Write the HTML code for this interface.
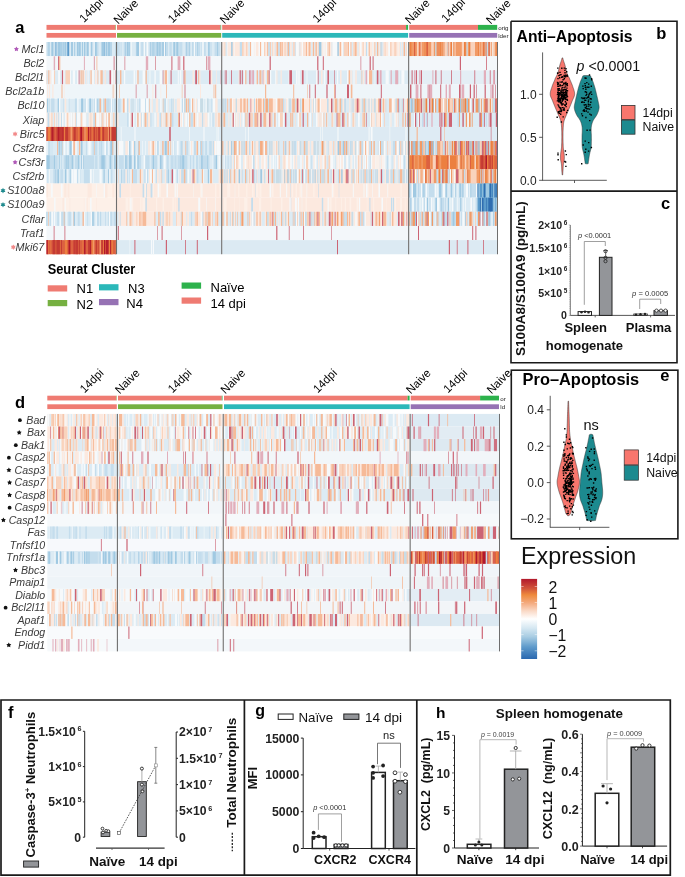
<!DOCTYPE html><html><head><meta charset="utf-8"><title>Figure</title><style>html,body{margin:0;padding:0;background:#fff;width:685px;height:877px;overflow:hidden}svg{display:block;font-family:"Liberation Sans",sans-serif;will-change:transform}</style></head><body><svg width="685" height="877" viewBox="0 0 685 877"><text x="15.2" y="32.6" font-size="16.5" font-weight="bold" fill="#000">a</text><text x="84.0" y="22.9" font-size="11.5" fill="#000" transform="rotate(-45 84.0 22.9)">14dpi</text><text x="118.2" y="24.65" font-size="11.5" fill="#000" transform="rotate(-45 118.2 24.65)">Naive</text><text x="172.5" y="23.5" font-size="11.5" fill="#000" transform="rotate(-45 172.5 23.5)">14dpi</text><text x="224.6" y="24.5" font-size="11.5" fill="#000" transform="rotate(-45 224.6 24.5)">Naive</text><text x="317.2" y="23.2" font-size="11.5" fill="#000" transform="rotate(-45 317.2 23.2)">14dpi</text><text x="409.8" y="24.6" font-size="11.5" fill="#000" transform="rotate(-45 409.8 24.6)">Naive</text><text x="446.0" y="22.9" font-size="11.5" fill="#000" transform="rotate(-45 446.0 22.9)">14dpi</text><text x="490.8" y="24.65" font-size="11.5" fill="#000" transform="rotate(-45 490.8 24.65)">Naive</text><rect x="46.50" y="24.9" width="68.80" height="4.95" fill="#EF7B72"/><rect x="115.30" y="24.9" width="0.70" height="4.95" fill="#9DA85A"/><rect x="117.00" y="24.9" width="103.60" height="4.95" fill="#EF7B72"/><rect x="220.60" y="24.9" width="0.60" height="4.95" fill="#2DB24C"/><rect x="222.20" y="24.9" width="183.90" height="4.95" fill="#EF7B72"/><rect x="406.10" y="24.9" width="2.00" height="4.95" fill="#2DB24C"/><rect x="409.20" y="24.9" width="68.80" height="4.95" fill="#EF7B72"/><rect x="478.00" y="24.9" width="19.20" height="4.95" fill="#2DB24C"/><rect x="46.50" y="32.95" width="69.50" height="4.75" fill="#EF7B72"/><rect x="117.00" y="32.95" width="104.20" height="4.75" fill="#76B041"/><rect x="222.20" y="32.95" width="185.90" height="4.75" fill="#2BB8B9"/><rect x="409.20" y="32.95" width="88.00" height="4.75" fill="#9672B4"/><text x="498.2" y="29.8" font-size="6.2" fill="#222">orig</text><text x="498.2" y="37.6" font-size="6.2" fill="#222">lder</text><rect x="46.5" y="42.00" width="69.5" height="14.15" fill="#C4DDED"/><g transform="translate(46.5 42.00) scale(0.2 14.15)"><path fill="#DCEBF4" d="M0 0h3v1h-3zM16 0h7v1h-7zM40 0h5v1h-5zM116 0h7v1h-7zM132 0h8v1h-8zM144 0h8v1h-8zM170 0h7v1h-7zM182 0h6v1h-6zM199 0h2v1h-2zM260 0h16v1h-16zM325 0h19v1h-19z"/><path fill="#A0C9E2" d="M10 0h5v1h-5zM25 0h8v1h-8zM57 0h14v1h-14zM74 0h5v1h-5zM82 0h4v1h-4zM90 0h8v1h-8zM123 0h9v1h-9zM139 0h4v1h-4zM152 0h6v1h-6zM160 0h11v1h-11zM177 0h5v1h-5zM187 0h6v1h-6zM201 0h9v1h-9zM220 0h7v1h-7zM241 0h10v1h-10zM275 0h14v1h-14zM297 0h6v1h-6zM307 0h12v1h-12zM322 0h3v1h-3z"/><path fill="#5B9BCB" d="M45 0h4v1h-4zM104 0h9v1h-9zM289 0h2v1h-2z"/><path fill="#F6F9FB" d="M214 0h6v1h-6zM235 0h6v1h-6z"/></g><rect x="117.0" y="42.00" width="104.2" height="14.15" fill="#C4DDED"/><g transform="translate(117.0 42.00) scale(0.2 14.15)"><path fill="#DCEBF4" d="M9 0h3v1h-3zM17 0h3v1h-3zM23 0h11v1h-11zM64 0h7v1h-7zM74 0h20v1h-20zM114 0h7v1h-7zM155 0h7v1h-7zM178 0h4v1h-4zM255 0h7v1h-7zM274 0h8v1h-8zM291 0h3v1h-3zM307 0h4v1h-4zM327 0h17v1h-17zM367 0h9v1h-9zM398 0h4v1h-4zM416 0h6v1h-6zM444 0h12v1h-12zM463 0h4v1h-4zM473 0h15v1h-15zM514 0h7v1h-7z"/><path fill="#A0C9E2" d="M41 0h3v1h-3zM50 0h6v1h-6zM58 0h6v1h-6zM97 0h13v1h-13zM167 0h3v1h-3zM175 0h3v1h-3zM182 0h4v1h-4zM198 0h9v1h-9zM211 0h7v1h-7zM226 0h8v1h-8zM240 0h4v1h-4zM282 0h9v1h-9zM297 0h10v1h-10zM344 0h4v1h-4zM362 0h3v1h-3zM379 0h4v1h-4zM402 0h3v1h-3zM456 0h7v1h-7zM501 0h4v1h-4z"/><path fill="#F6F9FB" d="M71 0h4v1h-4zM110 0h4v1h-4zM133 0h8v1h-8zM147 0h8v1h-8zM235 0h5v1h-5zM383 0h7v1h-7zM426 0h8v1h-8z"/></g><rect x="222.2" y="42.00" width="185.9" height="14.15" fill="#FCE9DF"/><g transform="translate(222.2 42.00) scale(0.2 14.15)"><path fill="#F6BA98" d="M13 0h3v1h-3zM139 0h6v1h-6zM189 0h5v1h-5zM225 0h5v1h-5zM238 0h4v1h-4zM273 0h7v1h-7zM288 0h9v1h-9zM300 0h4v1h-4zM328 0h8v1h-8zM418 0h6v1h-6zM432 0h8v1h-8zM452 0h9v1h-9zM466 0h7v1h-7zM533 0h5v1h-5zM588 0h6v1h-6zM628 0h6v1h-6zM641 0h6v1h-6zM664 0h8v1h-8zM731 0h7v1h-7zM763 0h3v1h-3zM774 0h8v1h-8zM906 0h9v1h-9z"/><path fill="#DCEBF4" d="M16 0h9v1h-9zM130 0h9v1h-9zM245 0h6v1h-6zM262 0h7v1h-7zM348 0h7v1h-7zM444 0h8v1h-8zM460 0h5v1h-5zM478 0h3v1h-3zM546 0h6v1h-6zM603 0h5v1h-5zM647 0h9v1h-9zM676 0h7v1h-7zM750 0h3v1h-3zM767 0h7v1h-7zM781 0h3v1h-3zM796 0h7v1h-7zM889 0h6v1h-6zM899 0h7v1h-7zM915 0h4v1h-4z"/><path fill="#F6F9FB" d="M25 0h3v1h-3zM60 0h3v1h-3zM145 0h13v1h-13zM161 0h7v1h-7zM181 0h8v1h-8zM197 0h12v1h-12zM216 0h4v1h-4zM318 0h4v1h-4zM367 0h16v1h-16zM398 0h6v1h-6zM497 0h3v1h-3zM506 0h6v1h-6zM517 0h9v1h-9zM552 0h25v1h-25zM599 0h5v1h-5zM634 0h6v1h-6zM689 0h8v1h-8zM707 0h5v1h-5zM724 0h7v1h-7zM752 0h6v1h-6zM830 0h9v1h-9zM878 0h3v1h-3zM922 0h8v1h-8z"/><path fill="#A0C9E2" d="M45 0h7v1h-7zM325 0h2v1h-2zM483 0h13v1h-13zM576 0h7v1h-7zM792 0h4v1h-4z"/><path fill="#C4DDED" d="M88 0h12v1h-12zM230 0h8v1h-8zM280 0h8v1h-8zM335 0h4v1h-4zM362 0h5v1h-5zM387 0h3v1h-3zM719 0h6v1h-6zM803 0h2v1h-2z"/><path fill="#F9D3BD" d="M99 0h8v1h-8zM119 0h7v1h-7zM209 0h7v1h-7zM250 0h3v1h-3zM268 0h5v1h-5zM311 0h7v1h-7zM322 0h3v1h-3zM355 0h7v1h-7zM407 0h4v1h-4zM440 0h4v1h-4zM481 0h3v1h-3zM526 0h7v1h-7zM608 0h20v1h-20zM656 0h8v1h-8zM702 0h6v1h-6zM758 0h6v1h-6zM812 0h5v1h-5zM839 0h8v1h-8zM860 0h11v1h-11zM919 0h3v1h-3z"/></g><rect x="409.2" y="42.00" width="87.8" height="14.15" fill="#F19A66"/><g transform="translate(409.2 42.00) scale(0.2 14.15)"><path fill="#EC8040" d="M3 0h8v1h-8zM77 0h3v1h-3zM83 0h3v1h-3zM152 0h6v1h-6zM164 0h4v1h-4zM172 0h5v1h-5zM208 0h8v1h-8zM220 0h2v1h-2zM274 0h8v1h-8zM299 0h7v1h-7zM345 0h4v1h-4zM367 0h6v1h-6zM412 0h3v1h-3zM436 0h3v1h-3z"/><path fill="#DC6140" d="M24 0h6v1h-6zM51 0h6v1h-6zM86 0h8v1h-8zM143 0h2v1h-2zM194 0h3v1h-3zM372 0h3v1h-3zM382 0h5v1h-5zM396 0h8v1h-8z"/><path fill="#F9D3BD" d="M39 0h8v1h-8zM57 0h5v1h-5zM110 0h13v1h-13zM168 0h3v1h-3zM176 0h14v1h-14zM197 0h8v1h-8zM227 0h5v1h-5zM263 0h11v1h-11zM306 0h23v1h-23zM349 0h2v1h-2zM362 0h4v1h-4zM403 0h8v1h-8zM421 0h7v1h-7z"/><path fill="#C8DCE6" d="M130 0h6v1h-6zM191 0h4v1h-4zM286 0h7v1h-7zM379 0h2v1h-2zM387 0h8v1h-8z"/><path fill="#F6F9FB" d="M215 0h5v1h-5zM415 0h6v1h-6z"/></g><rect x="46.5" y="56.15" width="69.5" height="14.15" fill="#F3F7FA"/><g transform="translate(46.5 56.15) scale(0.2 14.15)"><path fill="#CC6474" d="M336 0h4v1h-4zM58 0h5v1h-5zM237 0h3v1h-3z"/><path fill="#F6BA98" d="M63 0h6v1h-6zM250 0h4v1h-4z"/><path fill="#E2AEBB" d="M187 0h5v1h-5zM36 0h7v1h-7z"/></g><rect x="117.0" y="56.15" width="104.2" height="14.15" fill="#F3F7FA"/><g transform="translate(117.0 56.15) scale(0.2 14.15)"><path fill="#CC6474" d="M272 0h5v1h-5zM38 0h3v1h-3zM331 0h6v1h-6zM446 0h3v1h-3zM191 0h3v1h-3z"/><path fill="#E2AEBB" d="M144 0h12v1h-12zM303 0h14v1h-14zM453 0h14v1h-14z"/></g><rect x="222.2" y="56.15" width="185.9" height="14.15" fill="#F3F7FA"/><g transform="translate(222.2 56.15) scale(0.2 14.15)"><path fill="#CC6474" d="M503 0h5v1h-5zM737 0h6v1h-6zM752 0h5v1h-5zM237 0h6v1h-6zM692 0h3v1h-3zM475 0h6v1h-6z"/></g><rect x="409.2" y="56.15" width="87.8" height="14.15" fill="#F3F7FA"/><g transform="translate(409.2 56.15) scale(0.2 14.15)"><path fill="#CC6474" d="M384 0h4v1h-4zM253 0h6v1h-6z"/></g><rect x="46.5" y="70.30" width="69.5" height="14.15" fill="#DCEBF4"/><g transform="translate(46.5 70.30) scale(0.2 14.15)"><path fill="#F9D3BD" d="M0 0h2v1h-2zM14 0h4v1h-4zM37 0h6v1h-6zM95 0h24v1h-24zM176 0h5v1h-5zM218 0h7v1h-7zM266 0h8v1h-8zM295 0h3v1h-3zM335 0h4v1h-4z"/><path fill="#F6BA98" d="M7 0h4v1h-4zM169 0h7v1h-7zM181 0h5v1h-5zM225 0h3v1h-3zM254 0h5v1h-5zM273 0h8v1h-8z"/><path fill="#FCE9DF" d="M18 0h7v1h-7zM187 0h5v1h-5zM199 0h3v1h-3zM242 0h9v1h-9zM290 0h6v1h-6zM345 0h2v1h-2z"/><path fill="#F6F9FB" d="M25 0h12v1h-12zM58 0h10v1h-10zM83 0h7v1h-7zM118 0h5v1h-5zM131 0h12v1h-12zM153 0h8v1h-8zM165 0h4v1h-4zM206 0h4v1h-4zM228 0h9v1h-9zM251 0h3v1h-3zM262 0h4v1h-4zM323 0h12v1h-12zM339 0h4v1h-4z"/><path fill="#CC6474" d="M77 0h6v1h-6zM161 0h4v1h-4zM315 0h8v1h-8zM343 0h2v1h-2z"/></g><rect x="117.0" y="70.30" width="104.2" height="14.15" fill="#DCEBF4"/><g transform="translate(117.0 70.30) scale(0.2 14.15)"><path fill="#F6BA98" d="M15 0h7v1h-7zM101 0h7v1h-7zM143 0h6v1h-6zM238 0h13v1h-13zM336 0h7v1h-7zM406 0h6v1h-6z"/><path fill="#F6F9FB" d="M35 0h6v1h-6zM83 0h8v1h-8zM97 0h4v1h-4zM128 0h12v1h-12zM163 0h4v1h-4zM187 0h7v1h-7zM213 0h12v1h-12zM251 0h5v1h-5zM304 0h5v1h-5zM314 0h8v1h-8zM329 0h4v1h-4z"/><path fill="#CC6474" d="M229 0h4v1h-4zM268 0h5v1h-5zM333 0h3v1h-3zM391 0h9v1h-9zM460 0h9v1h-9z"/><path fill="#FCE9DF" d="M233 0h4v1h-4zM378 0h7v1h-7zM412 0h5v1h-5zM469 0h7v1h-7zM497 0h3v1h-3z"/><path fill="#E2AEBB" d="M517 0h4v1h-4z"/></g><rect x="222.2" y="70.30" width="185.9" height="14.15" fill="#DCEBF4"/><g transform="translate(222.2 70.30) scale(0.2 14.15)"><path fill="#E2AEBB" d="M12 0h4v1h-4zM139 0h7v1h-7zM150 0h9v1h-9zM185 0h2v1h-2zM717 0h9v1h-9zM788 0h9v1h-9zM842 0h6v1h-6zM865 0h15v1h-15z"/><path fill="#CC6474" d="M17 0h5v1h-5zM45 0h4v1h-4zM86 0h7v1h-7zM98 0h5v1h-5zM136 0h3v1h-3zM203 0h4v1h-4zM231 0h7v1h-7zM335 0h14v1h-14zM397 0h10v1h-10zM476 0h6v1h-6zM526 0h8v1h-8zM559 0h3v1h-3zM773 0h8v1h-8z"/><path fill="#F6F9FB" d="M28 0h2v1h-2zM110 0h5v1h-5zM167 0h5v1h-5zM215 0h3v1h-3zM238 0h7v1h-7zM265 0h6v1h-6zM332 0h3v1h-3zM369 0h8v1h-8zM380 0h8v1h-8zM394 0h3v1h-3zM422 0h4v1h-4zM469 0h8v1h-8zM508 0h8v1h-8zM574 0h6v1h-6zM624 0h8v1h-8zM640 0h3v1h-3zM656 0h6v1h-6zM726 0h8v1h-8zM762 0h3v1h-3zM817 0h16v1h-16zM885 0h2v1h-2zM896 0h15v1h-15z"/><path fill="#FCE9DF" d="M82 0h4v1h-4zM206 0h9v1h-9zM271 0h5v1h-5zM292 0h6v1h-6zM494 0h8v1h-8zM589 0h8v1h-8zM645 0h5v1h-5zM665 0h8v1h-8zM704 0h6v1h-6z"/><path fill="#F6BA98" d="M115 0h6v1h-6zM172 0h7v1h-7zM187 0h9v1h-9zM224 0h8v1h-8zM632 0h8v1h-8zM697 0h3v1h-3zM734 0h16v1h-16z"/></g><rect x="409.2" y="70.30" width="87.8" height="14.15" fill="#E4EEF5"/><g transform="translate(409.2 70.30) scale(0.2 14.15)"><path fill="#CC6474" d="M209 0h4v1h-4zM131 0h5v1h-5zM423 0h6v1h-6zM33 0h6v1h-6zM403 0h4v1h-4zM58 0h6v1h-6zM158 0h4v1h-4zM12 0h5v1h-5zM326 0h4v1h-4z"/><path fill="#E2AEBB" d="M256 0h4v1h-4zM373 0h11v1h-11zM419 0h9v1h-9zM50 0h6v1h-6zM254 0h5v1h-5zM116 0h5v1h-5zM24 0h6v1h-6z"/></g><rect x="46.5" y="84.45" width="69.5" height="14.15" fill="#EEF5F9"/><g transform="translate(46.5 84.45) scale(0.2 14.15)"><path fill="#F6BA98" d="M331 0h4v1h-4zM75 0h5v1h-5z"/><path fill="#FCE9DF" d="M339 0h3v1h-3zM87 0h3v1h-3zM3 0h5v1h-5zM29 0h6v1h-6zM12 0h6v1h-6z"/></g><rect x="117.0" y="84.45" width="104.2" height="14.15" fill="#EEF5F9"/><g transform="translate(117.0 84.45) scale(0.2 14.15)"><path fill="#CC6474" d="M149 0h3v1h-3zM192 0h4v1h-4zM338 0h4v1h-4zM94 0h3v1h-3z"/><path fill="#F6BA98" d="M483 0h4v1h-4zM245 0h4v1h-4zM11 0h3v1h-3zM324 0h3v1h-3zM491 0h5v1h-5z"/><path fill="#FCE9DF" d="M177 0h5v1h-5zM218 0h3v1h-3zM415 0h5v1h-5z"/></g><rect x="222.2" y="84.45" width="185.9" height="14.15" fill="#EEF5F9"/><g transform="translate(222.2 84.45) scale(0.2 14.15)"><path fill="#CC6474" d="M521 0h6v1h-6zM463 0h5v1h-5zM630 0h4v1h-4zM793 0h5v1h-5zM436 0h4v1h-4zM624 0h6v1h-6zM521 0h5v1h-5zM561 0h6v1h-6z"/><path fill="#F6BA98" d="M560 0h4v1h-4zM424 0h3v1h-3zM214 0h6v1h-6zM647 0h4v1h-4zM643 0h6v1h-6zM355 0h5v1h-5z"/></g><rect x="409.2" y="84.45" width="87.8" height="14.15" fill="#EEF5F9"/><g transform="translate(409.2 84.45) scale(0.2 14.15)"><path fill="#CC6474" d="M155 0h5v1h-5zM4 0h6v1h-6zM322 0h6v1h-6zM7 0h4v1h-4zM256 0h4v1h-4zM377 0h6v1h-6zM36 0h3v1h-3zM431 0h3v1h-3zM56 0h5v1h-5zM416 0h5v1h-5zM101 0h5v1h-5zM303 0h6v1h-6zM334 0h3v1h-3zM249 0h5v1h-5z"/><path fill="#E2AEBB" d="M182 0h7v1h-7zM198 0h10v1h-10zM32 0h14v1h-14zM406 0h6v1h-6zM264 0h11v1h-11zM104 0h11v1h-11zM91 0h8v1h-8z"/></g><rect x="46.5" y="98.60" width="69.5" height="14.15" fill="#DCEBF4"/><g transform="translate(46.5 98.60) scale(0.2 14.15)"><path fill="#FCE9DF" d="M0 0h3v1h-3zM91 0h8v1h-8z"/><path fill="#A0C9E2" d="M3 0h7v1h-7zM57 0h6v1h-6zM173 0h11v1h-11zM214 0h9v1h-9zM250 0h6v1h-6zM261 0h4v1h-4zM345 0h3v1h-3z"/><path fill="#F6F9FB" d="M10 0h2v1h-2zM62 0h7v1h-7zM102 0h2v1h-2zM154 0h6v1h-6zM197 0h8v1h-8zM242 0h8v1h-8zM279 0h3v1h-3zM321 0h8v1h-8z"/><path fill="#C4DDED" d="M12 0h4v1h-4zM23 0h17v1h-17zM54 0h3v1h-3zM83 0h3v1h-3zM113 0h2v1h-2zM142 0h10v1h-10zM190 0h6v1h-6zM226 0h4v1h-4zM238 0h4v1h-4zM257 0h5v1h-5zM282 0h8v1h-8zM299 0h17v1h-17zM318 0h3v1h-3zM329 0h3v1h-3zM339 0h6v1h-6z"/><path fill="#F6BA98" d="M265 0h8v1h-8zM290 0h8v1h-8z"/></g><rect x="117.0" y="98.60" width="104.2" height="14.15" fill="#DCEBF4"/><g transform="translate(117.0 98.60) scale(0.2 14.15)"><path fill="#F6F9FB" d="M0 0h4v1h-4zM25 0h3v1h-3zM37 0h12v1h-12zM95 0h5v1h-5zM119 0h21v1h-21zM145 0h12v1h-12zM168 0h5v1h-5zM215 0h4v1h-4zM222 0h5v1h-5zM246 0h6v1h-6zM288 0h2v1h-2zM315 0h9v1h-9zM330 0h5v1h-5zM350 0h2v1h-2zM367 0h8v1h-8zM386 0h8v1h-8zM405 0h10v1h-10zM429 0h3v1h-3zM443 0h7v1h-7zM480 0h11v1h-11z"/><path fill="#C4DDED" d="M4 0h14v1h-14zM50 0h8v1h-8zM111 0h5v1h-5zM140 0h5v1h-5zM239 0h6v1h-6zM270 0h4v1h-4zM324 0h6v1h-6zM359 0h8v1h-8zM470 0h3v1h-3z"/><path fill="#F6BA98" d="M29 0h9v1h-9zM161 0h3v1h-3zM229 0h4v1h-4zM343 0h7v1h-7zM353 0h6v1h-6zM375 0h6v1h-6zM384 0h2v1h-2z"/><path fill="#FCE9DF" d="M58 0h7v1h-7zM173 0h6v1h-6zM194 0h12v1h-12zM257 0h2v1h-2zM284 0h4v1h-4zM299 0h17v1h-17zM381 0h3v1h-3zM394 0h7v1h-7zM491 0h12v1h-12z"/><path fill="#C8DCE6" d="M72 0h3v1h-3zM77 0h6v1h-6zM99 0h2v1h-2zM233 0h6v1h-6zM278 0h5v1h-5zM335 0h8v1h-8zM416 0h14v1h-14zM449 0h9v1h-9z"/></g><rect x="222.2" y="98.60" width="185.9" height="14.15" fill="#FCE9DF"/><g transform="translate(222.2 98.60) scale(0.2 14.15)"><path fill="#C8DCE6" d="M0 0h12v1h-12zM67 0h7v1h-7zM209 0h5v1h-5zM228 0h6v1h-6zM292 0h5v1h-5zM330 0h9v1h-9zM371 0h3v1h-3zM389 0h5v1h-5zM455 0h4v1h-4zM464 0h3v1h-3zM551 0h6v1h-6zM575 0h5v1h-5zM593 0h6v1h-6zM646 0h6v1h-6zM656 0h4v1h-4zM698 0h9v1h-9zM712 0h8v1h-8zM745 0h5v1h-5zM758 0h10v1h-10zM794 0h5v1h-5zM816 0h6v1h-6zM896 0h8v1h-8zM929 0h1v1h-1z"/><path fill="#C4DDED" d="M12 0h10v1h-10zM32 0h5v1h-5zM159 0h5v1h-5zM303 0h8v1h-8zM339 0h7v1h-7zM363 0h5v1h-5zM524 0h8v1h-8zM600 0h2v1h-2zM610 0h10v1h-10zM652 0h4v1h-4zM731 0h6v1h-6zM866 0h8v1h-8zM882 0h9v1h-9z"/><path fill="#DCEBF4" d="M22 0h2v1h-2zM129 0h8v1h-8zM314 0h5v1h-5zM394 0h6v1h-6zM439 0h8v1h-8zM620 0h15v1h-15zM641 0h5v1h-5zM692 0h6v1h-6zM721 0h5v1h-5zM822 0h12v1h-12zM891 0h5v1h-5zM907 0h6v1h-6z"/><path fill="#F6BA98" d="M24 0h3v1h-3zM40 0h9v1h-9zM90 0h8v1h-8zM106 0h11v1h-11zM123 0h6v1h-6zM169 0h5v1h-5zM178 0h19v1h-19zM204 0h5v1h-5zM215 0h6v1h-6zM234 0h19v1h-19zM276 0h16v1h-16zM296 0h7v1h-7zM350 0h13v1h-13zM369 0h3v1h-3zM436 0h3v1h-3zM477 0h11v1h-11zM563 0h12v1h-12zM587 0h7v1h-7zM667 0h4v1h-4zM681 0h5v1h-5zM707 0h6v1h-6zM779 0h6v1h-6zM803 0h7v1h-7zM834 0h13v1h-13zM873 0h6v1h-6z"/><path fill="#F6F9FB" d="M48 0h5v1h-5zM268 0h7v1h-7zM326 0h5v1h-5zM459 0h5v1h-5zM488 0h6v1h-6zM742 0h3v1h-3zM849 0h9v1h-9z"/><path fill="#CC6474" d="M142 0h3v1h-3zM374 0h7v1h-7zM544 0h7v1h-7zM673 0h8v1h-8zM786 0h8v1h-8zM879 0h3v1h-3zM904 0h3v1h-3z"/><path fill="#F2A070" d="M220 0h8v1h-8zM400 0h9v1h-9zM925 0h4v1h-4z"/></g><rect x="409.2" y="98.60" width="87.8" height="14.15" fill="#F19A66"/><g transform="translate(409.2 98.60) scale(0.2 14.15)"><path fill="#F9D3BD" d="M0 0h3v1h-3zM53 0h4v1h-4zM133 0h4v1h-4zM145 0h3v1h-3zM158 0h7v1h-7zM175 0h8v1h-8zM202 0h16v1h-16zM232 0h5v1h-5zM283 0h3v1h-3zM370 0h3v1h-3z"/><path fill="#C4DDED" d="M3 0h6v1h-6zM16 0h11v1h-11zM36 0h2v1h-2zM64 0h3v1h-3zM74 0h2v1h-2zM89 0h2v1h-2zM136 0h9v1h-9zM219 0h5v1h-5zM243 0h5v1h-5zM262 0h4v1h-4zM273 0h4v1h-4zM392 0h4v1h-4zM417 0h13v1h-13z"/><path fill="#A0C9E2" d="M9 0h7v1h-7zM71 0h4v1h-4zM120 0h4v1h-4zM253 0h6v1h-6zM287 0h7v1h-7zM346 0h7v1h-7z"/><path fill="#EC8040" d="M38 0h4v1h-4zM81 0h8v1h-8zM111 0h9v1h-9zM148 0h8v1h-8zM248 0h5v1h-5zM277 0h7v1h-7zM436 0h3v1h-3z"/><path fill="#CC6474" d="M58 0h6v1h-6zM99 0h8v1h-8zM156 0h2v1h-2zM224 0h3v1h-3zM316 0h7v1h-7zM381 0h6v1h-6zM390 0h2v1h-2zM430 0h7v1h-7z"/><path fill="#F6F9FB" d="M67 0h4v1h-4zM107 0h4v1h-4zM124 0h5v1h-5zM166 0h9v1h-9zM237 0h6v1h-6zM302 0h7v1h-7zM353 0h5v1h-5zM396 0h6v1h-6zM410 0h6v1h-6z"/><path fill="#DCEBF4" d="M77 0h4v1h-4zM91 0h8v1h-8zM187 0h7v1h-7zM309 0h7v1h-7zM324 0h8v1h-8zM363 0h8v1h-8z"/></g><rect x="46.5" y="112.75" width="69.5" height="14.15" fill="#FCE9DF"/><g transform="translate(46.5 112.75) scale(0.2 14.15)"><path fill="#DCEBF4" d="M4 0h2v1h-2zM30 0h8v1h-8zM56 0h4v1h-4zM84 0h9v1h-9zM127 0h3v1h-3zM167 0h4v1h-4zM199 0h12v1h-12zM217 0h3v1h-3zM284 0h5v1h-5zM296 0h3v1h-3zM316 0h2v1h-2zM324 0h8v1h-8z"/><path fill="#C4DDED" d="M6 0h8v1h-8zM46 0h4v1h-4zM59 0h6v1h-6zM73 0h6v1h-6zM117 0h2v1h-2zM146 0h6v1h-6zM234 0h8v1h-8zM272 0h3v1h-3zM340 0h8v1h-8z"/><path fill="#F6F9FB" d="M21 0h3v1h-3zM42 0h3v1h-3zM65 0h5v1h-5zM78 0h6v1h-6zM93 0h6v1h-6zM112 0h4v1h-4zM119 0h9v1h-9zM134 0h8v1h-8zM152 0h16v1h-16zM179 0h18v1h-18zM225 0h3v1h-3zM249 0h15v1h-15zM268 0h4v1h-4zM290 0h6v1h-6zM301 0h8v1h-8zM319 0h5v1h-5z"/><path fill="#F9D3BD" d="M24 0h6v1h-6zM38 0h4v1h-4zM102 0h6v1h-6zM142 0h3v1h-3zM171 0h8v1h-8zM220 0h5v1h-5zM276 0h9v1h-9zM332 0h8v1h-8z"/><path fill="#F6BA98" d="M242 0h6v1h-6zM298 0h2v1h-2zM309 0h8v1h-8z"/></g><rect x="117.0" y="112.75" width="104.2" height="14.15" fill="#DCEBF4"/><g transform="translate(117.0 112.75) scale(0.2 14.15)"><path fill="#FCE9DF" d="M0 0h8v1h-8zM67 0h6v1h-6zM114 0h8v1h-8zM146 0h4v1h-4zM153 0h14v1h-14zM199 0h11v1h-11zM231 0h7v1h-7zM252 0h5v1h-5zM259 0h6v1h-6zM318 0h7v1h-7zM336 0h6v1h-6zM380 0h4v1h-4zM390 0h8v1h-8zM407 0h12v1h-12zM421 0h3v1h-3zM431 0h7v1h-7zM440 0h13v1h-13zM490 0h4v1h-4zM497 0h9v1h-9zM521 0h1v1h-1z"/><path fill="#C4DDED" d="M51 0h7v1h-7zM122 0h3v1h-3zM150 0h3v1h-3zM167 0h5v1h-5zM214 0h6v1h-6zM273 0h9v1h-9zM371 0h8v1h-8zM425 0h6v1h-6zM478 0h5v1h-5zM518 0h3v1h-3z"/><path fill="#F6F9FB" d="M59 0h6v1h-6zM81 0h6v1h-6zM96 0h6v1h-6zM108 0h6v1h-6zM125 0h7v1h-7zM187 0h7v1h-7zM220 0h2v1h-2zM226 0h4v1h-4zM315 0h3v1h-3zM325 0h5v1h-5zM341 0h9v1h-9zM354 0h7v1h-7zM398 0h9v1h-9zM454 0h8v1h-8zM471 0h3v1h-3z"/><path fill="#CC6474" d="M73 0h7v1h-7zM311 0h4v1h-4z"/><path fill="#F6BA98" d="M101 0h7v1h-7zM138 0h9v1h-9zM243 0h9v1h-9zM265 0h8v1h-8zM305 0h6v1h-6zM361 0h6v1h-6zM383 0h7v1h-7z"/><path fill="#F9D3BD" d="M222 0h4v1h-4zM494 0h2v1h-2zM505 0h12v1h-12z"/></g><rect x="222.2" y="112.75" width="185.9" height="14.15" fill="#DCEBF4"/><g transform="translate(222.2 112.75) scale(0.2 14.15)"><path fill="#F6F9FB" d="M0 0h3v1h-3zM45 0h3v1h-3zM58 0h8v1h-8zM69 0h7v1h-7zM101 0h9v1h-9zM225 0h2v1h-2zM267 0h5v1h-5zM280 0h9v1h-9zM303 0h6v1h-6zM347 0h3v1h-3zM377 0h8v1h-8zM436 0h8v1h-8zM469 0h9v1h-9zM485 0h3v1h-3zM498 0h8v1h-8zM525 0h3v1h-3zM634 0h8v1h-8zM649 0h2v1h-2zM659 0h4v1h-4zM679 0h9v1h-9zM739 0h6v1h-6zM794 0h8v1h-8zM837 0h4v1h-4zM861 0h7v1h-7zM876 0h3v1h-3z"/><path fill="#F9D3BD" d="M3 0h4v1h-4zM48 0h5v1h-5zM67 0h3v1h-3zM120 0h4v1h-4zM140 0h13v1h-13zM178 0h5v1h-5zM241 0h10v1h-10zM289 0h14v1h-14zM365 0h2v1h-2zM385 0h9v1h-9zM452 0h2v1h-2zM487 0h4v1h-4zM546 0h8v1h-8zM624 0h7v1h-7zM651 0h8v1h-8zM662 0h3v1h-3zM700 0h6v1h-6zM770 0h3v1h-3zM809 0h4v1h-4zM879 0h2v1h-2z"/><path fill="#F6BA98" d="M7 0h8v1h-8zM116 0h4v1h-4zM124 0h2v1h-2zM161 0h15v1h-15zM206 0h15v1h-15zM260 0h7v1h-7zM340 0h7v1h-7zM350 0h5v1h-5zM424 0h6v1h-6zM507 0h5v1h-5zM520 0h5v1h-5zM576 0h15v1h-15zM606 0h7v1h-7zM706 0h9v1h-9zM745 0h3v1h-3zM789 0h5v1h-5zM901 0h6v1h-6zM914 0h5v1h-5z"/><path fill="#FCE9DF" d="M31 0h5v1h-5zM77 0h6v1h-6zM88 0h7v1h-7zM183 0h7v1h-7zM221 0h4v1h-4zM227 0h8v1h-8zM367 0h2v1h-2zM477 0h7v1h-7zM491 0h7v1h-7zM511 0h3v1h-3zM556 0h4v1h-4zM748 0h15v1h-15zM773 0h16v1h-16zM841 0h6v1h-6zM868 0h8v1h-8zM924 0h2v1h-2z"/><path fill="#CC6474" d="M53 0h5v1h-5zM133 0h7v1h-7zM176 0h2v1h-2zM190 0h7v1h-7zM235 0h6v1h-6zM314 0h7v1h-7zM402 0h6v1h-6zM572 0h4v1h-4zM600 0h7v1h-7zM719 0h3v1h-3zM926 0h3v1h-3z"/></g><rect x="409.2" y="112.75" width="87.8" height="14.15" fill="#DCEBF4"/><g transform="translate(409.2 112.75) scale(0.2 14.15)"><path fill="#F19A66" d="M0 0h7v1h-7zM179 0h9v1h-9zM249 0h4v1h-4zM283 0h7v1h-7zM298 0h9v1h-9zM313 0h4v1h-4zM357 0h7v1h-7z"/><path fill="#F6F9FB" d="M24 0h5v1h-5zM40 0h8v1h-8zM78 0h4v1h-4zM188 0h2v1h-2zM291 0h7v1h-7z"/><path fill="#CC6474" d="M29 0h7v1h-7zM49 0h4v1h-4zM91 0h3v1h-3zM150 0h3v1h-3zM156 0h7v1h-7zM174 0h5v1h-5zM198 0h16v1h-16zM266 0h7v1h-7zM351 0h7v1h-7zM373 0h5v1h-5zM404 0h8v1h-8zM433 0h6v1h-6z"/><path fill="#C4DDED" d="M36 0h5v1h-5zM64 0h8v1h-8zM82 0h9v1h-9zM168 0h4v1h-4zM190 0h5v1h-5zM242 0h7v1h-7zM365 0h8v1h-8zM383 0h5v1h-5z"/><path fill="#E2AEBB" d="M72 0h7v1h-7zM111 0h6v1h-6zM153 0h3v1h-3zM163 0h6v1h-6zM397 0h7v1h-7z"/></g><rect x="46.5" y="126.90" width="69.5" height="14.15" fill="#DC6140"/><g transform="translate(46.5 126.90) scale(0.2 14.15)"><path fill="#C43A33" d="M0 0h4v1h-4zM20 0h6v1h-6zM32 0h7v1h-7zM50 0h8v1h-8zM65 0h14v1h-14zM82 0h6v1h-6zM93 0h15v1h-15zM136 0h10v1h-10zM165 0h6v1h-6zM218 0h3v1h-3zM234 0h8v1h-8zM249 0h2v1h-2zM258 0h4v1h-4zM264 0h4v1h-4zM279 0h9v1h-9zM312 0h6v1h-6zM324 0h23v1h-23z"/><path fill="#EC8040" d="M8 0h12v1h-12zM88 0h5v1h-5zM159 0h6v1h-6zM196 0h11v1h-11zM230 0h4v1h-4zM271 0h7v1h-7z"/><path fill="#B2182B" d="M26 0h6v1h-6zM58 0h7v1h-7zM79 0h3v1h-3zM170 0h8v1h-8zM207 0h5v1h-5zM262 0h2v1h-2z"/><path fill="#F19A66" d="M120 0h9v1h-9zM189 0h7v1h-7zM307 0h5v1h-5zM318 0h6v1h-6z"/></g><rect x="117.0" y="126.90" width="104.2" height="14.15" fill="#DDEBF4"/><g transform="translate(117.0 126.90) scale(0.2 14.15)"><path fill="#CC6474" d="M261 0h4v1h-4zM264 0h5v1h-5z"/><path fill="#F6F9FB" d="M432 0h6v1h-6zM19 0h4v1h-4zM498 0h4v1h-4zM87 0h6v1h-6zM506 0h3v1h-3zM360 0h4v1h-4z"/></g><rect x="222.2" y="126.90" width="185.9" height="14.15" fill="#DDEAF3"/><g transform="translate(222.2 126.90) scale(0.2 14.15)"><path fill="#F6F9FB" d="M743 0h6v1h-6zM747 0h5v1h-5zM837 0h3v1h-3zM114 0h3v1h-3zM916 0h6v1h-6zM576 0h6v1h-6zM490 0h3v1h-3zM501 0h3v1h-3zM130 0h4v1h-4zM732 0h5v1h-5z"/></g><rect x="409.2" y="126.90" width="87.8" height="14.15" fill="#DEEBF4"/><g transform="translate(409.2 126.90) scale(0.2 14.15)"><path fill="#CC6474" d="M408 0h3v1h-3zM155 0h6v1h-6z"/><path fill="#F6BA98" d="M174 0h3v1h-3zM37 0h6v1h-6z"/></g><rect x="46.5" y="141.05" width="69.5" height="14.15" fill="#DCEBF4"/><g transform="translate(46.5 141.05) scale(0.2 14.15)"><path fill="#F6F9FB" d="M5 0h3v1h-3zM86 0h8v1h-8zM104 0h6v1h-6zM126 0h8v1h-8zM143 0h8v1h-8zM209 0h12v1h-12zM290 0h8v1h-8zM305 0h5v1h-5zM346 0h1v1h-1z"/><path fill="#C4DDED" d="M8 0h11v1h-11zM26 0h3v1h-3zM58 0h2v1h-2zM66 0h9v1h-9zM113 0h3v1h-3zM197 0h5v1h-5zM230 0h9v1h-9zM241 0h13v1h-13zM263 0h8v1h-8zM281 0h3v1h-3zM298 0h8v1h-8z"/><path fill="#F6BA98" d="M53 0h5v1h-5zM79 0h2v1h-2zM134 0h9v1h-9zM162 0h7v1h-7zM239 0h3v1h-3zM328 0h6v1h-6z"/><path fill="#A0C9E2" d="M61 0h6v1h-6zM75 0h4v1h-4zM116 0h10v1h-10zM172 0h8v1h-8zM275 0h3v1h-3zM319 0h10v1h-10z"/></g><rect x="117.0" y="141.05" width="104.2" height="14.15" fill="#DCEBF4"/><g transform="translate(117.0 141.05) scale(0.2 14.15)"><path fill="#FCE9DF" d="M4 0h6v1h-6zM42 0h12v1h-12zM80 0h5v1h-5zM156 0h8v1h-8zM170 0h7v1h-7zM185 0h6v1h-6zM213 0h4v1h-4zM269 0h3v1h-3zM328 0h4v1h-4zM369 0h9v1h-9zM394 0h4v1h-4zM474 0h4v1h-4zM485 0h5v1h-5zM495 0h3v1h-3zM517 0h4v1h-4z"/><path fill="#F6F9FB" d="M10 0h22v1h-22zM55 0h7v1h-7zM74 0h6v1h-6zM127 0h3v1h-3zM141 0h3v1h-3zM166 0h4v1h-4zM196 0h4v1h-4zM209 0h4v1h-4zM249 0h4v1h-4zM281 0h6v1h-6zM300 0h8v1h-8zM320 0h2v1h-2zM364 0h5v1h-5zM377 0h6v1h-6zM412 0h5v1h-5zM490 0h5v1h-5zM497 0h20v1h-20z"/><path fill="#A0C9E2" d="M61 0h6v1h-6zM86 0h5v1h-5zM105 0h3v1h-3zM240 0h9v1h-9zM322 0h5v1h-5zM417 0h4v1h-4zM445 0h2v1h-2z"/><path fill="#F6BA98" d="M108 0h6v1h-6zM177 0h8v1h-8zM226 0h7v1h-7zM252 0h8v1h-8zM266 0h3v1h-3zM342 0h5v1h-5zM398 0h7v1h-7zM421 0h3v1h-3z"/><path fill="#C4DDED" d="M200 0h9v1h-9zM236 0h4v1h-4zM287 0h4v1h-4zM317 0h4v1h-4zM347 0h9v1h-9zM384 0h11v1h-11zM424 0h8v1h-8zM441 0h4v1h-4zM461 0h13v1h-13zM478 0h7v1h-7z"/></g><rect x="222.2" y="141.05" width="185.9" height="14.15" fill="#FCE9DF"/><g transform="translate(222.2 141.05) scale(0.2 14.15)"><path fill="#F6BA98" d="M0 0h7v1h-7zM64 0h9v1h-9zM83 0h5v1h-5zM116 0h8v1h-8zM126 0h2v1h-2zM149 0h5v1h-5zM198 0h9v1h-9zM213 0h12v1h-12zM270 0h3v1h-3zM305 0h5v1h-5zM331 0h7v1h-7zM408 0h9v1h-9zM496 0h3v1h-3zM557 0h4v1h-4zM585 0h9v1h-9zM609 0h7v1h-7zM686 0h7v1h-7zM713 0h8v1h-8zM744 0h5v1h-5zM825 0h2v1h-2zM865 0h7v1h-7zM890 0h6v1h-6z"/><path fill="#DCEBF4" d="M7 0h13v1h-13zM42 0h2v1h-2zM52 0h4v1h-4zM98 0h2v1h-2zM113 0h2v1h-2zM124 0h3v1h-3zM140 0h5v1h-5zM228 0h7v1h-7zM252 0h3v1h-3zM263 0h4v1h-4zM287 0h18v1h-18zM310 0h3v1h-3zM327 0h5v1h-5zM342 0h6v1h-6zM369 0h5v1h-5zM396 0h7v1h-7zM438 0h7v1h-7zM469 0h6v1h-6zM485 0h9v1h-9zM520 0h8v1h-8zM532 0h3v1h-3zM549 0h5v1h-5zM561 0h8v1h-8zM597 0h5v1h-5zM680 0h6v1h-6zM749 0h8v1h-8zM761 0h17v1h-17zM816 0h9v1h-9zM831 0h5v1h-5zM844 0h9v1h-9z"/><path fill="#C8DCE6" d="M27 0h7v1h-7zM48 0h4v1h-4zM100 0h6v1h-6zM161 0h5v1h-5zM234 0h8v1h-8zM246 0h6v1h-6zM278 0h8v1h-8zM348 0h8v1h-8zM387 0h9v1h-9zM416 0h12v1h-12zM456 0h9v1h-9zM475 0h8v1h-8zM505 0h6v1h-6zM645 0h7v1h-7zM663 0h9v1h-9zM800 0h8v1h-8zM901 0h5v1h-5zM914 0h4v1h-4zM926 0h3v1h-3z"/><path fill="#A0C9E2" d="M44 0h4v1h-4zM57 0h3v1h-3zM81 0h2v1h-2zM95 0h2v1h-2zM313 0h5v1h-5zM577 0h8v1h-8zM602 0h7v1h-7zM617 0h3v1h-3zM883 0h5v1h-5z"/><path fill="#F2A070" d="M60 0h4v1h-4zM190 0h8v1h-8zM499 0h7v1h-7zM620 0h6v1h-6zM693 0h3v1h-3zM757 0h5v1h-5zM789 0h4v1h-4z"/><path fill="#F6F9FB" d="M73 0h8v1h-8zM207 0h7v1h-7zM267 0h3v1h-3zM379 0h3v1h-3zM672 0h8v1h-8zM706 0h8v1h-8zM721 0h8v1h-8zM782 0h7v1h-7zM808 0h8v1h-8zM872 0h11v1h-11zM888 0h2v1h-2zM906 0h8v1h-8z"/><path fill="#C4DDED" d="M106 0h8v1h-8zM134 0h6v1h-6zM181 0h8v1h-8zM225 0h3v1h-3zM242 0h5v1h-5zM318 0h4v1h-4zM356 0h13v1h-13zM403 0h4v1h-4zM464 0h4v1h-4zM528 0h4v1h-4zM594 0h3v1h-3zM626 0h6v1h-6zM638 0h7v1h-7zM652 0h2v1h-2zM696 0h9v1h-9zM735 0h9v1h-9zM778 0h4v1h-4zM794 0h7v1h-7zM853 0h12v1h-12zM896 0h5v1h-5zM929 0h1v1h-1z"/></g><rect x="409.2" y="141.05" width="87.8" height="14.15" fill="#F19A66"/><g transform="translate(409.2 141.05) scale(0.2 14.15)"><path fill="#CC6474" d="M0 0h3v1h-3zM15 0h2v1h-2zM107 0h5v1h-5zM178 0h5v1h-5zM230 0h8v1h-8zM254 0h5v1h-5zM284 0h4v1h-4zM293 0h8v1h-8zM318 0h7v1h-7zM336 0h5v1h-5zM364 0h8v1h-8zM379 0h8v1h-8zM393 0h4v1h-4zM426 0h3v1h-3zM433 0h6v1h-6z"/><path fill="#DCEBF4" d="M3 0h9v1h-9zM68 0h2v1h-2zM124 0h9v1h-9zM195 0h5v1h-5zM207 0h6v1h-6zM221 0h3v1h-3zM334 0h2v1h-2z"/><path fill="#EC8040" d="M11 0h3v1h-3zM39 0h3v1h-3zM99 0h8v1h-8zM141 0h6v1h-6zM213 0h4v1h-4zM224 0h5v1h-5zM259 0h6v1h-6zM409 0h8v1h-8zM430 0h4v1h-4z"/><path fill="#C4DDED" d="M17 0h3v1h-3zM42 0h11v1h-11zM83 0h11v1h-11zM133 0h8v1h-8zM167 0h11v1h-11zM200 0h7v1h-7zM251 0h3v1h-3zM280 0h4v1h-4zM301 0h5v1h-5zM311 0h3v1h-3zM324 0h7v1h-7zM341 0h4v1h-4zM361 0h3v1h-3zM400 0h5v1h-5zM423 0h3v1h-3z"/><path fill="#A0C9E2" d="M20 0h11v1h-11zM64 0h4v1h-4zM77 0h6v1h-6zM94 0h5v1h-5zM111 0h4v1h-4zM118 0h6v1h-6zM245 0h6v1h-6zM306 0h5v1h-5zM345 0h8v1h-8zM386 0h7v1h-7z"/><path fill="#F9D3BD" d="M71 0h7v1h-7zM147 0h3v1h-3zM155 0h12v1h-12zM183 0h8v1h-8zM238 0h7v1h-7zM271 0h4v1h-4zM353 0h8v1h-8z"/></g><rect x="46.5" y="155.20" width="69.5" height="14.15" fill="#C4DDED"/><g transform="translate(46.5 155.20) scale(0.2 14.15)"><path fill="#A0C9E2" d="M0 0h16v1h-16zM37 0h5v1h-5zM65 0h3v1h-3zM75 0h3v1h-3zM96 0h5v1h-5zM105 0h6v1h-6zM126 0h6v1h-6zM157 0h5v1h-5zM173 0h4v1h-4zM183 0h3v1h-3zM274 0h17v1h-17zM317 0h6v1h-6zM338 0h7v1h-7z"/><path fill="#DCEBF4" d="M56 0h4v1h-4zM68 0h7v1h-7zM78 0h8v1h-8zM137 0h5v1h-5zM168 0h5v1h-5zM181 0h2v1h-2zM239 0h4v1h-4zM255 0h9v1h-9zM299 0h13v1h-13zM330 0h8v1h-8z"/><path fill="#F6F9FB" d="M178 0h3v1h-3z"/></g><rect x="117.0" y="155.20" width="104.2" height="14.15" fill="#C4DDED"/><g transform="translate(117.0 155.20) scale(0.2 14.15)"><path fill="#DCEBF4" d="M4 0h5v1h-5zM34 0h8v1h-8zM58 0h2v1h-2zM80 0h5v1h-5zM92 0h4v1h-4zM121 0h11v1h-11zM163 0h9v1h-9zM201 0h6v1h-6zM245 0h3v1h-3zM259 0h9v1h-9zM283 0h4v1h-4zM298 0h5v1h-5zM352 0h13v1h-13zM371 0h8v1h-8zM392 0h3v1h-3zM416 0h2v1h-2zM462 0h13v1h-13zM478 0h6v1h-6zM500 0h6v1h-6z"/><path fill="#A0C9E2" d="M41 0h7v1h-7zM60 0h12v1h-12zM85 0h7v1h-7zM101 0h7v1h-7zM179 0h6v1h-6zM213 0h9v1h-9zM318 0h3v1h-3zM326 0h10v1h-10zM421 0h7v1h-7zM452 0h3v1h-3zM494 0h6v1h-6z"/><path fill="#F6F9FB" d="M77 0h3v1h-3zM96 0h5v1h-5zM132 0h9v1h-9zM207 0h6v1h-6zM232 0h12v1h-12zM388 0h4v1h-4zM408 0h3v1h-3zM475 0h3v1h-3zM506 0h11v1h-11z"/></g><rect x="222.2" y="155.20" width="185.9" height="14.15" fill="#F6F9FB"/><g transform="translate(222.2 155.20) scale(0.2 14.15)"><path fill="#DCEBF4" d="M3 0h5v1h-5zM18 0h8v1h-8zM33 0h8v1h-8zM52 0h7v1h-7zM94 0h10v1h-10zM184 0h9v1h-9zM223 0h4v1h-4zM246 0h6v1h-6zM260 0h6v1h-6zM269 0h5v1h-5zM288 0h14v1h-14zM348 0h5v1h-5zM375 0h8v1h-8zM393 0h2v1h-2zM406 0h8v1h-8zM438 0h7v1h-7zM452 0h4v1h-4zM471 0h6v1h-6zM485 0h4v1h-4zM500 0h2v1h-2zM520 0h6v1h-6zM556 0h5v1h-5zM563 0h4v1h-4zM630 0h7v1h-7zM651 0h8v1h-8zM708 0h4v1h-4zM730 0h8v1h-8zM786 0h6v1h-6zM816 0h6v1h-6zM829 0h6v1h-6zM842 0h11v1h-11zM876 0h3v1h-3zM914 0h6v1h-6zM926 0h3v1h-3z"/><path fill="#C4DDED" d="M13 0h5v1h-5zM26 0h7v1h-7zM41 0h7v1h-7zM154 0h9v1h-9zM228 0h8v1h-8zM364 0h3v1h-3zM384 0h2v1h-2zM445 0h6v1h-6zM477 0h2v1h-2zM526 0h5v1h-5zM567 0h4v1h-4zM611 0h6v1h-6zM637 0h4v1h-4zM666 0h5v1h-5zM694 0h7v1h-7zM738 0h5v1h-5zM822 0h7v1h-7zM852 0h5v1h-5zM872 0h3v1h-3zM906 0h8v1h-8z"/><path fill="#FCE9DF" d="M48 0h4v1h-4zM78 0h7v1h-7zM104 0h8v1h-8zM120 0h8v1h-8zM133 0h15v1h-15zM163 0h7v1h-7zM176 0h9v1h-9zM196 0h12v1h-12zM217 0h7v1h-7zM236 0h5v1h-5zM302 0h5v1h-5zM312 0h7v1h-7zM329 0h11v1h-11zM358 0h6v1h-6zM367 0h8v1h-8zM399 0h7v1h-7zM456 0h6v1h-6zM479 0h6v1h-6zM489 0h11v1h-11zM508 0h4v1h-4zM571 0h6v1h-6zM582 0h6v1h-6zM595 0h8v1h-8zM620 0h2v1h-2zM641 0h6v1h-6zM663 0h3v1h-3zM686 0h9v1h-9zM750 0h16v1h-16zM771 0h6v1h-6zM781 0h6v1h-6zM792 0h9v1h-9zM807 0h3v1h-3zM857 0h8v1h-8zM878 0h7v1h-7zM889 0h5v1h-5zM920 0h6v1h-6z"/><path fill="#F9D3BD" d="M59 0h5v1h-5zM69 0h9v1h-9zM128 0h4v1h-4zM282 0h6v1h-6zM307 0h5v1h-5zM419 0h11v1h-11zM512 0h8v1h-8zM531 0h9v1h-9zM678 0h8v1h-8zM701 0h3v1h-3zM719 0h4v1h-4z"/></g><rect x="409.2" y="155.20" width="70.2" height="14.15" fill="#EC8040"/><g transform="translate(409.2 155.20) scale(0.2 14.15)"><path fill="#DC6140" d="M15 0h7v1h-7zM85 0h19v1h-19zM133 0h10v1h-10zM191 0h6v1h-6zM257 0h4v1h-4zM302 0h7v1h-7z"/><path fill="#F19A66" d="M23 0h7v1h-7zM33 0h3v1h-3zM41 0h9v1h-9zM61 0h7v1h-7zM104 0h8v1h-8zM150 0h10v1h-10zM236 0h7v1h-7zM253 0h4v1h-4zM263 0h9v1h-9zM286 0h12v1h-12zM343 0h8v1h-8z"/><path fill="#F9D3BD" d="M117 0h16v1h-16zM197 0h7v1h-7zM243 0h10v1h-10zM277 0h9v1h-9zM297 0h5v1h-5zM326 0h8v1h-8z"/></g><rect x="479.4" y="155.20" width="17.6" height="14.15" fill="#DC6140"/><g transform="translate(479.4 155.20) scale(0.2 14.15)"><path fill="#B2182B" d="M7 0h2v1h-2zM31 0h7v1h-7z"/><path fill="#C43A33" d="M9 0h11v1h-11zM28 0h3v1h-3zM45 0h4v1h-4zM52 0h4v1h-4zM65 0h3v1h-3z"/><path fill="#EC8040" d="M38 0h7v1h-7zM68 0h7v1h-7z"/></g><rect x="46.5" y="169.35" width="69.5" height="14.15" fill="#DCEBF4"/><g transform="translate(46.5 169.35) scale(0.2 14.15)"><path fill="#C4DDED" d="M5 0h3v1h-3zM34 0h10v1h-10zM47 0h7v1h-7zM69 0h14v1h-14zM152 0h8v1h-8zM166 0h3v1h-3zM187 0h30v1h-30zM282 0h4v1h-4zM322 0h8v1h-8z"/><path fill="#F6F9FB" d="M13 0h4v1h-4zM99 0h6v1h-6zM126 0h9v1h-9zM137 0h15v1h-15zM160 0h6v1h-6zM217 0h9v1h-9zM233 0h3v1h-3zM265 0h11v1h-11zM313 0h5v1h-5zM343 0h4v1h-4z"/><path fill="#A0C9E2" d="M44 0h3v1h-3zM54 0h9v1h-9zM92 0h8v1h-8zM116 0h5v1h-5zM286 0h5v1h-5zM308 0h5v1h-5z"/></g><rect x="117.0" y="169.35" width="104.2" height="14.15" fill="#DCEBF4"/><g transform="translate(117.0 169.35) scale(0.2 14.15)"><path fill="#F6BA98" d="M5 0h3v1h-3zM73 0h7v1h-7zM114 0h7v1h-7zM174 0h6v1h-6zM219 0h3v1h-3zM333 0h10v1h-10zM383 0h8v1h-8zM424 0h7v1h-7zM465 0h12v1h-12zM516 0h5v1h-5z"/><path fill="#FCE9DF" d="M7 0h3v1h-3zM42 0h7v1h-7zM121 0h8v1h-8zM160 0h5v1h-5zM184 0h3v1h-3zM199 0h10v1h-10zM213 0h6v1h-6zM239 0h8v1h-8zM313 0h8v1h-8zM370 0h8v1h-8zM391 0h7v1h-7zM508 0h8v1h-8z"/><path fill="#A0C9E2" d="M22 0h4v1h-4zM151 0h3v1h-3zM253 0h6v1h-6zM454 0h6v1h-6z"/><path fill="#C4DDED" d="M32 0h9v1h-9zM51 0h7v1h-7zM61 0h6v1h-6zM80 0h20v1h-20zM137 0h6v1h-6zM192 0h7v1h-7zM228 0h2v1h-2zM247 0h6v1h-6zM264 0h3v1h-3zM299 0h8v1h-8zM321 0h12v1h-12zM343 0h6v1h-6zM398 0h9v1h-9z"/><path fill="#F6F9FB" d="M58 0h3v1h-3zM67 0h6v1h-6zM144 0h7v1h-7zM165 0h9v1h-9zM180 0h4v1h-4zM187 0h5v1h-5zM285 0h8v1h-8zM307 0h3v1h-3zM353 0h8v1h-8zM431 0h4v1h-4zM477 0h3v1h-3z"/><path fill="#CC6474" d="M273 0h7v1h-7zM378 0h5v1h-5z"/></g><rect x="222.2" y="169.35" width="185.9" height="14.15" fill="#FCE9DF"/><g transform="translate(222.2 169.35) scale(0.2 14.15)"><path fill="#F6BA98" d="M0 0h6v1h-6zM40 0h6v1h-6zM58 0h9v1h-9zM114 0h5v1h-5zM135 0h3v1h-3zM247 0h9v1h-9zM307 0h4v1h-4zM323 0h3v1h-3zM337 0h6v1h-6zM382 0h6v1h-6zM427 0h8v1h-8zM488 0h7v1h-7zM511 0h5v1h-5zM525 0h9v1h-9zM584 0h6v1h-6zM616 0h4v1h-4zM651 0h6v1h-6zM671 0h3v1h-3zM680 0h4v1h-4zM711 0h6v1h-6zM744 0h6v1h-6zM853 0h6v1h-6zM889 0h12v1h-12z"/><path fill="#DCEBF4" d="M6 0h3v1h-3zM46 0h5v1h-5zM66 0h7v1h-7zM89 0h4v1h-4zM104 0h10v1h-10zM132 0h3v1h-3zM146 0h4v1h-4zM164 0h6v1h-6zM179 0h9v1h-9zM200 0h5v1h-5zM214 0h5v1h-5zM227 0h3v1h-3zM234 0h9v1h-9zM263 0h6v1h-6zM295 0h7v1h-7zM332 0h5v1h-5zM349 0h8v1h-8zM448 0h2v1h-2zM481 0h7v1h-7zM516 0h9v1h-9zM534 0h7v1h-7zM560 0h6v1h-6zM570 0h8v1h-8zM663 0h3v1h-3zM684 0h8v1h-8zM701 0h3v1h-3zM727 0h5v1h-5zM750 0h4v1h-4zM758 0h7v1h-7zM790 0h3v1h-3zM805 0h7v1h-7zM865 0h11v1h-11zM882 0h5v1h-5zM923 0h7v1h-7z"/><path fill="#C4DDED" d="M10 0h7v1h-7zM34 0h6v1h-6zM97 0h6v1h-6zM157 0h7v1h-7zM171 0h4v1h-4zM256 0h7v1h-7zM285 0h5v1h-5zM343 0h6v1h-6zM364 0h6v1h-6zM415 0h8v1h-8zM435 0h7v1h-7zM450 0h8v1h-8zM495 0h3v1h-3zM541 0h7v1h-7zM579 0h5v1h-5zM628 0h4v1h-4zM644 0h4v1h-4zM692 0h6v1h-6zM719 0h8v1h-8zM753 0h4v1h-4zM765 0h6v1h-6zM799 0h5v1h-5zM819 0h14v1h-14zM841 0h8v1h-8zM910 0h4v1h-4zM917 0h6v1h-6z"/><path fill="#C8DCE6" d="M21 0h7v1h-7zM119 0h7v1h-7zM189 0h3v1h-3zM210 0h4v1h-4zM269 0h16v1h-16zM290 0h5v1h-5zM370 0h4v1h-4zM394 0h6v1h-6zM404 0h5v1h-5zM441 0h4v1h-4zM475 0h6v1h-6zM498 0h13v1h-13zM649 0h3v1h-3zM658 0h5v1h-5zM703 0h8v1h-8zM732 0h12v1h-12zM771 0h8v1h-8zM848 0h5v1h-5zM859 0h6v1h-6zM878 0h4v1h-4zM901 0h9v1h-9z"/><path fill="#A0C9E2" d="M82 0h7v1h-7zM191 0h8v1h-8zM311 0h4v1h-4zM326 0h6v1h-6zM357 0h5v1h-5zM462 0h5v1h-5zM595 0h7v1h-7zM887 0h2v1h-2z"/><path fill="#CC6474" d="M150 0h7v1h-7zM230 0h4v1h-4zM400 0h4v1h-4zM554 0h6v1h-6zM620 0h8v1h-8zM632 0h2v1h-2zM793 0h6v1h-6z"/><path fill="#F6F9FB" d="M303 0h4v1h-4zM362 0h2v1h-2zM374 0h8v1h-8zM409 0h6v1h-6zM445 0h3v1h-3zM666 0h5v1h-5zM914 0h3v1h-3z"/></g><rect x="409.2" y="169.35" width="87.8" height="14.15" fill="#F19A66"/><g transform="translate(409.2 169.35) scale(0.2 14.15)"><path fill="#F9D3BD" d="M0 0h3v1h-3zM15 0h3v1h-3zM36 0h3v1h-3zM45 0h5v1h-5zM62 0h5v1h-5zM90 0h8v1h-8zM100 0h3v1h-3zM109 0h14v1h-14zM144 0h3v1h-3zM155 0h2v1h-2zM214 0h7v1h-7zM228 0h6v1h-6zM246 0h20v1h-20zM280 0h10v1h-10zM307 0h30v1h-30zM396 0h8v1h-8zM409 0h2v1h-2z"/><path fill="#CC6474" d="M3 0h5v1h-5zM19 0h6v1h-6zM103 0h6v1h-6zM164 0h4v1h-4zM188 0h3v1h-3zM234 0h12v1h-12zM367 0h4v1h-4zM411 0h3v1h-3z"/><path fill="#EC8040" d="M25 0h3v1h-3zM79 0h3v1h-3zM97 0h2v1h-2zM147 0h8v1h-8zM169 0h5v1h-5zM183 0h5v1h-5zM210 0h4v1h-4zM293 0h2v1h-2zM351 0h3v1h-3zM357 0h6v1h-6zM380 0h7v1h-7zM429 0h7v1h-7z"/><path fill="#F6F9FB" d="M28 0h8v1h-8zM50 0h6v1h-6zM70 0h9v1h-9zM202 0h8v1h-8zM221 0h8v1h-8zM372 0h5v1h-5zM436 0h3v1h-3z"/><path fill="#C4DDED" d="M39 0h6v1h-6zM136 0h9v1h-9zM157 0h7v1h-7zM173 0h3v1h-3zM193 0h9v1h-9zM273 0h7v1h-7zM354 0h3v1h-3zM363 0h4v1h-4zM415 0h6v1h-6z"/><path fill="#DC6140" d="M82 0h3v1h-3zM291 0h2v1h-2z"/></g><rect x="46.5" y="183.50" width="69.5" height="14.15" fill="#FDF0E8"/><g transform="translate(46.5 183.50) scale(0.2 14.15)"><path fill="#FCE9DF" d="M0 0h7v1h-7zM88 0h12v1h-12zM106 0h9v1h-9zM205 0h21v1h-21zM292 0h13v1h-13zM329 0h11v1h-11z"/><path fill="#F6F9FB" d="M22 0h9v1h-9zM72 0h8v1h-8zM248 0h3v1h-3zM286 0h6v1h-6z"/></g><rect x="117.0" y="183.50" width="104.2" height="14.15" fill="#FCE9DF"/><g transform="translate(117.0 183.50) scale(0.2 14.15)"><path fill="#FDF0E8" d="M0 0h5v1h-5zM64 0h4v1h-4zM135 0h11v1h-11zM176 0h8v1h-8zM210 0h9v1h-9zM415 0h7v1h-7zM490 0h7v1h-7zM512 0h7v1h-7z"/><path fill="#C4DDED" d="M12 0h8v1h-8zM128 0h8v1h-8zM146 0h4v1h-4zM168 0h9v1h-9z"/><path fill="#F6F9FB" d="M203 0h7v1h-7zM247 0h8v1h-8zM288 0h6v1h-6zM298 0h6v1h-6zM382 0h2v1h-2zM422 0h5v1h-5z"/></g><rect x="222.2" y="183.50" width="185.9" height="14.15" fill="#FCE9DF"/><g transform="translate(222.2 183.50) scale(0.2 14.15)"><path fill="#FDF0E8" d="M25 0h15v1h-15zM80 0h6v1h-6zM120 0h6v1h-6zM149 0h8v1h-8zM169 0h12v1h-12zM186 0h10v1h-10zM248 0h9v1h-9zM348 0h7v1h-7zM367 0h7v1h-7zM387 0h7v1h-7zM454 0h4v1h-4zM461 0h4v1h-4zM546 0h4v1h-4zM554 0h6v1h-6zM728 0h4v1h-4zM828 0h3v1h-3zM891 0h7v1h-7z"/><path fill="#F6F9FB" d="M63 0h2v1h-2zM237 0h8v1h-8zM288 0h5v1h-5zM320 0h5v1h-5zM396 0h4v1h-4zM422 0h3v1h-3zM550 0h4v1h-4zM653 0h5v1h-5zM707 0h4v1h-4zM719 0h8v1h-8zM749 0h3v1h-3zM781 0h8v1h-8zM825 0h3v1h-3z"/><path fill="#C4DDED" d="M167 0h2v1h-2zM341 0h2v1h-2zM480 0h3v1h-3zM583 0h2v1h-2z"/></g><rect x="409.2" y="183.50" width="68.5" height="14.15" fill="#C4DDED"/><g transform="translate(409.2 183.50) scale(0.2 14.15)"><path fill="#A0C9E2" d="M0 0h7v1h-7zM19 0h17v1h-17zM44 0h4v1h-4zM65 0h7v1h-7zM77 0h4v1h-4zM147 0h13v1h-13zM183 0h5v1h-5zM209 0h7v1h-7zM228 0h3v1h-3zM250 0h9v1h-9zM266 0h4v1h-4zM305 0h5v1h-5zM340 0h3v1h-3z"/><path fill="#DCEBF4" d="M7 0h6v1h-6zM36 0h7v1h-7zM47 0h4v1h-4zM90 0h8v1h-8zM135 0h4v1h-4zM191 0h14v1h-14zM216 0h9v1h-9zM236 0h2v1h-2zM242 0h8v1h-8zM274 0h9v1h-9z"/><path fill="#F6F9FB" d="M13 0h6v1h-6zM58 0h8v1h-8zM81 0h8v1h-8zM127 0h9v1h-9zM140 0h7v1h-7zM167 0h12v1h-12zM224 0h4v1h-4zM238 0h4v1h-4zM283 0h12v1h-12zM301 0h4v1h-4zM334 0h6v1h-6z"/></g><rect x="477.7" y="183.50" width="19.3" height="14.15" fill="#5B9BCB"/><g transform="translate(477.7 183.50) scale(0.2 14.15)"><path fill="#2F6DB0" d="M0 0h4v1h-4zM31 0h8v1h-8zM60 0h7v1h-7zM74 0h2v1h-2zM83 0h6v1h-6zM93 0h4v1h-4z"/><path fill="#A0C9E2" d="M4 0h6v1h-6zM23 0h4v1h-4zM40 0h17v1h-17zM78 0h5v1h-5z"/></g><rect x="46.5" y="197.65" width="69.5" height="14.15" fill="#FDF0E8"/><g transform="translate(46.5 197.65) scale(0.2 14.15)"><path fill="#F6F9FB" d="M38 0h7v1h-7zM77 0h3v1h-3zM91 0h5v1h-5zM196 0h2v1h-2zM218 0h7v1h-7z"/><path fill="#FCE9DF" d="M79 0h9v1h-9zM115 0h4v1h-4zM187 0h2v1h-2zM201 0h5v1h-5zM249 0h3v1h-3z"/></g><rect x="117.0" y="197.65" width="104.2" height="14.15" fill="#FCE9DF"/><g transform="translate(117.0 197.65) scale(0.2 14.15)"><path fill="#FDF0E8" d="M43 0h12v1h-12zM58 0h8v1h-8zM73 0h8v1h-8zM116 0h6v1h-6zM127 0h15v1h-15zM195 0h6v1h-6zM228 0h7v1h-7zM277 0h7v1h-7zM289 0h4v1h-4zM414 0h4v1h-4z"/><path fill="#F6F9FB" d="M66 0h7v1h-7zM406 0h9v1h-9zM447 0h3v1h-3zM491 0h3v1h-3z"/><path fill="#C4DDED" d="M142 0h7v1h-7zM306 0h7v1h-7z"/></g><rect x="222.2" y="197.65" width="185.9" height="14.15" fill="#FCE9DF"/><g transform="translate(222.2 197.65) scale(0.2 14.15)"><path fill="#FDF0E8" d="M9 0h13v1h-13zM60 0h3v1h-3zM87 0h2v1h-2zM110 0h16v1h-16zM184 0h11v1h-11zM242 0h5v1h-5zM294 0h7v1h-7zM348 0h2v1h-2zM417 0h6v1h-6zM537 0h10v1h-10zM566 0h4v1h-4zM594 0h4v1h-4zM613 0h6v1h-6zM637 0h8v1h-8zM672 0h9v1h-9zM723 0h3v1h-3zM755 0h5v1h-5zM819 0h2v1h-2zM851 0h3v1h-3zM863 0h6v1h-6zM889 0h10v1h-10zM913 0h4v1h-4z"/><path fill="#C4DDED" d="M145 0h9v1h-9zM342 0h3v1h-3zM498 0h7v1h-7zM736 0h5v1h-5zM844 0h7v1h-7zM854 0h5v1h-5z"/><path fill="#F6F9FB" d="M336 0h6v1h-6zM364 0h9v1h-9zM378 0h6v1h-6zM398 0h2v1h-2zM527 0h6v1h-6zM684 0h6v1h-6zM796 0h8v1h-8z"/></g><rect x="409.2" y="197.65" width="68.5" height="14.15" fill="#DCEBF4"/><g transform="translate(409.2 197.65) scale(0.2 14.15)"><path fill="#A0C9E2" d="M3 0h5v1h-5zM87 0h7v1h-7zM131 0h8v1h-8zM157 0h6v1h-6zM193 0h8v1h-8zM233 0h3v1h-3zM255 0h6v1h-6zM339 0h4v1h-4z"/><path fill="#C4DDED" d="M8 0h7v1h-7zM23 0h14v1h-14zM40 0h9v1h-9zM71 0h8v1h-8zM101 0h7v1h-7zM154 0h3v1h-3zM163 0h11v1h-11zM178 0h6v1h-6zM221 0h6v1h-6zM318 0h4v1h-4zM333 0h6v1h-6z"/><path fill="#F6F9FB" d="M15 0h8v1h-8zM37 0h2v1h-2zM53 0h3v1h-3zM64 0h7v1h-7zM79 0h8v1h-8zM108 0h7v1h-7zM120 0h2v1h-2zM139 0h12v1h-12zM201 0h5v1h-5zM213 0h8v1h-8zM237 0h5v1h-5zM269 0h3v1h-3zM279 0h4v1h-4zM306 0h8v1h-8zM321 0h5v1h-5z"/></g><rect x="477.7" y="197.65" width="19.3" height="14.15" fill="#5B9BCB"/><g transform="translate(477.7 197.65) scale(0.2 14.15)"><path fill="#2F6DB0" d="M11 0h5v1h-5zM21 0h8v1h-8zM43 0h3v1h-3zM53 0h21v1h-21z"/><path fill="#A0C9E2" d="M16 0h5v1h-5zM78 0h10v1h-10zM91 0h5v1h-5z"/></g><rect x="46.5" y="211.80" width="69.5" height="14.15" fill="#DCEBF4"/><g transform="translate(46.5 211.80) scale(0.2 14.15)"><path fill="#A0C9E2" d="M0 0h4v1h-4zM56 0h3v1h-3zM89 0h3v1h-3zM135 0h7v1h-7zM228 0h9v1h-9zM239 0h2v1h-2zM270 0h3v1h-3z"/><path fill="#F6BA98" d="M9 0h3v1h-3zM85 0h5v1h-5zM133 0h2v1h-2zM180 0h7v1h-7z"/><path fill="#C4DDED" d="M16 0h8v1h-8zM33 0h3v1h-3zM59 0h3v1h-3zM73 0h12v1h-12zM109 0h13v1h-13zM156 0h10v1h-10zM204 0h4v1h-4zM251 0h11v1h-11zM293 0h4v1h-4zM307 0h5v1h-5zM318 0h11v1h-11zM336 0h12v1h-12z"/><path fill="#F6F9FB" d="M24 0h9v1h-9zM36 0h7v1h-7zM66 0h7v1h-7zM99 0h3v1h-3zM130 0h3v1h-3zM188 0h5v1h-5zM221 0h7v1h-7zM237 0h2v1h-2zM246 0h5v1h-5zM312 0h6v1h-6z"/></g><rect x="117.0" y="211.80" width="104.2" height="14.15" fill="#FCE9DF"/><g transform="translate(117.0 211.80) scale(0.2 14.15)"><path fill="#DCEBF4" d="M0 0h8v1h-8zM51 0h6v1h-6zM77 0h5v1h-5zM192 0h14v1h-14zM279 0h16v1h-16zM346 0h5v1h-5zM360 0h8v1h-8zM376 0h13v1h-13zM478 0h12v1h-12zM506 0h15v1h-15z"/><path fill="#C4DDED" d="M14 0h4v1h-4zM213 0h8v1h-8zM227 0h7v1h-7zM319 0h5v1h-5zM369 0h7v1h-7zM426 0h7v1h-7zM448 0h5v1h-5z"/><path fill="#F6BA98" d="M47 0h4v1h-4zM63 0h7v1h-7zM111 0h8v1h-8zM127 0h19v1h-19zM187 0h5v1h-5zM206 0h7v1h-7zM323 0h7v1h-7zM397 0h7v1h-7zM442 0h6v1h-6zM453 0h16v1h-16zM473 0h4v1h-4zM499 0h7v1h-7z"/><path fill="#F6F9FB" d="M57 0h2v1h-2zM255 0h2v1h-2zM418 0h8v1h-8zM469 0h4v1h-4z"/><path fill="#F9D3BD" d="M69 0h8v1h-8zM96 0h6v1h-6zM118 0h8v1h-8zM243 0h12v1h-12zM258 0h8v1h-8zM295 0h4v1h-4zM389 0h8v1h-8zM433 0h3v1h-3zM490 0h9v1h-9z"/></g><rect x="222.2" y="211.80" width="185.9" height="14.15" fill="#FCE9DF"/><g transform="translate(222.2 211.80) scale(0.2 14.15)"><path fill="#F6BA98" d="M0 0h8v1h-8zM20 0h8v1h-8zM64 0h4v1h-4zM94 0h4v1h-4zM124 0h3v1h-3zM132 0h5v1h-5zM171 0h6v1h-6zM187 0h6v1h-6zM220 0h4v1h-4zM237 0h6v1h-6zM253 0h6v1h-6zM264 0h6v1h-6zM294 0h6v1h-6zM329 0h7v1h-7zM356 0h6v1h-6zM376 0h3v1h-3zM391 0h6v1h-6zM402 0h7v1h-7zM426 0h6v1h-6zM469 0h7v1h-7zM481 0h8v1h-8zM512 0h6v1h-6zM601 0h3v1h-3zM623 0h6v1h-6zM633 0h7v1h-7zM681 0h8v1h-8zM696 0h6v1h-6zM739 0h2v1h-2zM766 0h8v1h-8zM777 0h4v1h-4zM805 0h15v1h-15zM849 0h7v1h-7z"/><path fill="#DCEBF4" d="M8 0h8v1h-8zM28 0h6v1h-6zM67 0h8v1h-8zM78 0h8v1h-8zM106 0h18v1h-18zM146 0h3v1h-3zM162 0h4v1h-4zM193 0h3v1h-3zM199 0h14v1h-14zM271 0h9v1h-9zM285 0h5v1h-5zM335 0h15v1h-15zM382 0h3v1h-3zM453 0h3v1h-3zM489 0h3v1h-3zM502 0h7v1h-7zM526 0h6v1h-6zM555 0h4v1h-4zM656 0h3v1h-3zM741 0h7v1h-7zM824 0h12v1h-12zM873 0h6v1h-6z"/><path fill="#F6F9FB" d="M16 0h4v1h-4zM34 0h3v1h-3zM149 0h8v1h-8zM368 0h7v1h-7zM379 0h3v1h-3zM409 0h5v1h-5zM559 0h3v1h-3zM665 0h8v1h-8zM710 0h8v1h-8zM790 0h2v1h-2z"/><path fill="#C4DDED" d="M37 0h6v1h-6zM50 0h2v1h-2zM127 0h5v1h-5zM157 0h5v1h-5zM259 0h5v1h-5zM300 0h6v1h-6zM362 0h7v1h-7zM385 0h6v1h-6zM442 0h3v1h-3zM456 0h6v1h-6zM499 0h3v1h-3zM518 0h2v1h-2zM615 0h9v1h-9zM689 0h7v1h-7zM703 0h8v1h-8zM754 0h2v1h-2z"/><path fill="#F2A070" d="M52 0h3v1h-3zM76 0h2v1h-2zM98 0h8v1h-8zM462 0h3v1h-3zM546 0h9v1h-9zM573 0h8v1h-8zM593 0h8v1h-8zM604 0h3v1h-3zM784 0h6v1h-6zM902 0h8v1h-8z"/><path fill="#C8DCE6" d="M55 0h4v1h-4zM89 0h5v1h-5zM224 0h9v1h-9zM313 0h8v1h-8zM351 0h5v1h-5zM399 0h3v1h-3zM414 0h9v1h-9zM444 0h8v1h-8zM607 0h7v1h-7zM646 0h8v1h-8zM837 0h6v1h-6zM910 0h3v1h-3z"/><path fill="#CC6474" d="M248 0h4v1h-4zM436 0h5v1h-5zM476 0h5v1h-5zM533 0h9v1h-9zM562 0h5v1h-5zM748 0h6v1h-6zM799 0h6v1h-6zM879 0h8v1h-8zM895 0h7v1h-7zM922 0h3v1h-3zM929 0h1v1h-1z"/></g><rect x="409.2" y="211.80" width="87.8" height="14.15" fill="#C4DDED"/><g transform="translate(409.2 211.80) scale(0.2 14.15)"><path fill="#F19A66" d="M0 0h3v1h-3zM11 0h2v1h-2zM16 0h13v1h-13zM62 0h5v1h-5zM80 0h8v1h-8zM92 0h7v1h-7zM113 0h8v1h-8zM137 0h5v1h-5zM166 0h4v1h-4zM200 0h2v1h-2zM234 0h15v1h-15zM300 0h13v1h-13zM344 0h8v1h-8zM368 0h4v1h-4zM391 0h4v1h-4zM429 0h9v1h-9z"/><path fill="#A0C9E2" d="M29 0h5v1h-5zM146 0h4v1h-4zM217 0h9v1h-9zM277 0h6v1h-6zM372 0h6v1h-6zM396 0h8v1h-8zM421 0h3v1h-3zM438 0h1v1h-1z"/><path fill="#CC6474" d="M34 0h5v1h-5zM88 0h4v1h-4zM170 0h6v1h-6zM190 0h7v1h-7zM249 0h3v1h-3zM352 0h5v1h-5zM365 0h3v1h-3zM385 0h6v1h-6z"/><path fill="#F6F9FB" d="M39 0h5v1h-5zM99 0h9v1h-9zM126 0h7v1h-7zM252 0h5v1h-5zM265 0h13v1h-13zM326 0h3v1h-3zM357 0h8v1h-8zM411 0h6v1h-6z"/><path fill="#F9D3BD" d="M45 0h8v1h-8zM59 0h4v1h-4zM75 0h5v1h-5zM142 0h5v1h-5zM202 0h6v1h-6zM283 0h7v1h-7zM313 0h7v1h-7zM329 0h5v1h-5zM424 0h2v1h-2z"/><path fill="#DCEBF4" d="M120 0h6v1h-6zM133 0h3v1h-3zM150 0h9v1h-9zM197 0h3v1h-3zM256 0h4v1h-4zM295 0h5v1h-5zM321 0h5v1h-5zM334 0h5v1h-5zM378 0h7v1h-7z"/></g><rect x="46.5" y="225.95" width="69.5" height="14.15" fill="#F3F7FA"/><g transform="translate(46.5 225.95) scale(0.2 14.15)"><path fill="#CC6474" d="M90 0h4v1h-4zM36 0h4v1h-4z"/></g><rect x="117.0" y="225.95" width="104.2" height="14.15" fill="#F3F7FA"/><g transform="translate(117.0 225.95) scale(0.2 14.15)"><path fill="#CC6474" d="M223 0h5v1h-5zM320 0h3v1h-3zM450 0h6v1h-6zM4 0h5v1h-5zM201 0h3v1h-3z"/></g><rect x="222.2" y="225.95" width="185.9" height="14.15" fill="#F3F7FA"/><g transform="translate(222.2 225.95) scale(0.2 14.15)"><path fill="#CC6474" d="M271 0h5v1h-5zM333 0h4v1h-4zM404 0h4v1h-4zM546 0h3v1h-3zM270 0h4v1h-4z"/></g><rect x="409.2" y="225.95" width="87.8" height="14.15" fill="#F3F7FA"/><g transform="translate(409.2 225.95) scale(0.2 14.15)"><path fill="#CC6474" d="M44 0h5v1h-5zM315 0h5v1h-5zM331 0h5v1h-5z"/></g><rect x="46.5" y="240.10" width="69.5" height="14.15" fill="#DC6140"/><g transform="translate(46.5 240.10) scale(0.2 14.15)"><path fill="#B2182B" d="M0 0h7v1h-7zM111 0h7v1h-7zM136 0h4v1h-4zM188 0h7v1h-7zM218 0h6v1h-6zM281 0h2v1h-2zM287 0h7v1h-7zM298 0h9v1h-9zM318 0h7v1h-7z"/><path fill="#EC8040" d="M7 0h3v1h-3zM19 0h2v1h-2zM46 0h4v1h-4zM67 0h4v1h-4zM92 0h15v1h-15zM180 0h4v1h-4zM225 0h7v1h-7zM283 0h4v1h-4zM312 0h6v1h-6zM324 0h8v1h-8z"/><path fill="#C43A33" d="M30 0h15v1h-15zM49 0h18v1h-18zM71 0h6v1h-6zM106 0h5v1h-5zM118 0h3v1h-3zM144 0h14v1h-14zM162 0h5v1h-5zM208 0h10v1h-10zM246 0h7v1h-7zM260 0h5v1h-5zM273 0h8v1h-8zM307 0h5v1h-5zM345 0h3v1h-3z"/><path fill="#F19A66" d="M232 0h7v1h-7zM265 0h8v1h-8zM343 0h2v1h-2z"/></g><rect x="117.0" y="240.10" width="104.2" height="14.15" fill="#DCEAF3"/><g transform="translate(117.0 240.10) scale(0.2 14.15)"><path fill="#CC6474" d="M244 0h6v1h-6zM340 0h4v1h-4zM399 0h5v1h-5zM87 0h5v1h-5z"/><path fill="#F6F9FB" d="M180 0h5v1h-5zM170 0h6v1h-6zM63 0h3v1h-3z"/></g><rect x="222.2" y="240.10" width="185.9" height="14.15" fill="#DCEAF3"/><g transform="translate(222.2 240.10) scale(0.2 14.15)"><path fill="#CC6474" d="M574 0h5v1h-5z"/></g><rect x="409.2" y="240.10" width="87.8" height="14.15" fill="#DCEAF3"/><g transform="translate(409.2 240.10) scale(0.2 14.15)"><path fill="#CC6474" d="M369 0h4v1h-4zM198 0h6v1h-6zM238 0h4v1h-4zM291 0h5v1h-5z"/></g><rect x="115.95" y="42.00" width="1.1" height="212.25" fill="#6E6E6E"/><rect x="221.15" y="42.00" width="1.1" height="212.25" fill="#6E6E6E"/><rect x="408.10" y="42.00" width="1.1" height="212.25" fill="#6E6E6E"/><rect x="497.00" y="42.00" width="1.0" height="212.25" fill="#6E6E6E"/><text x="44.4" y="52.78" font-size="10.8" font-style="italic" text-anchor="end" fill="#3A3A3A">Mcl1</text><text x="44.4" y="66.92" font-size="10.8" font-style="italic" text-anchor="end" fill="#3A3A3A">Bcl2</text><text x="44.4" y="81.08" font-size="10.8" font-style="italic" text-anchor="end" fill="#3A3A3A">Bcl2l1</text><text x="44.4" y="95.23" font-size="10.8" font-style="italic" text-anchor="end" fill="#3A3A3A">Bcl2a1b</text><text x="44.4" y="109.38" font-size="10.8" font-style="italic" text-anchor="end" fill="#3A3A3A">Bcl10</text><text x="44.4" y="123.53" font-size="10.8" font-style="italic" text-anchor="end" fill="#3A3A3A">Xiap</text><text x="44.4" y="137.68" font-size="10.8" font-style="italic" text-anchor="end" fill="#3A3A3A">Birc5</text><text x="44.4" y="151.82" font-size="10.8" font-style="italic" text-anchor="end" fill="#3A3A3A">Csf2ra</text><text x="44.4" y="165.97" font-size="10.8" font-style="italic" text-anchor="end" fill="#3A3A3A">Csf3r</text><text x="44.4" y="180.12" font-size="10.8" font-style="italic" text-anchor="end" fill="#3A3A3A">Csf2rb</text><text x="44.4" y="194.28" font-size="10.8" font-style="italic" text-anchor="end" fill="#3A3A3A">S100a8</text><text x="44.4" y="208.42" font-size="10.8" font-style="italic" text-anchor="end" fill="#3A3A3A">S100a9</text><text x="44.4" y="222.57" font-size="10.8" font-style="italic" text-anchor="end" fill="#3A3A3A">Cflar</text><text x="44.4" y="236.72" font-size="10.8" font-style="italic" text-anchor="end" fill="#3A3A3A">Traf1</text><text x="44.4" y="250.88" font-size="10.8" font-style="italic" text-anchor="end" fill="#3A3A3A">Mki67</text><polygon points="16.40,46.48 17.24,47.92 18.87,48.28 17.76,49.52 17.93,51.18 16.40,50.51 14.87,51.18 15.04,49.52 13.93,48.28 15.56,47.92" fill="#B05AB8"/><polygon points="15.10,131.18 15.87,132.65 17.52,132.58 16.64,133.98 17.52,135.38 15.87,135.31 15.10,136.78 14.33,135.31 12.68,135.38 13.56,133.98 12.68,132.58 14.33,132.65" fill="#F28A8A"/><polygon points="15.10,159.68 15.94,161.12 17.57,161.48 16.46,162.72 16.63,164.38 15.10,163.71 13.57,164.38 13.74,162.72 12.63,161.48 14.26,161.12" fill="#B05AB8"/><polygon points="3.00,187.78 3.77,189.25 5.42,189.18 4.54,190.58 5.42,191.98 3.77,191.91 3.00,193.38 2.23,191.91 0.58,191.98 1.46,190.58 0.58,189.18 2.23,189.25" fill="#1F8A8E"/><polygon points="3.00,201.92 3.77,203.39 5.42,203.32 4.54,204.72 5.42,206.12 3.77,206.05 3.00,207.52 2.23,206.05 0.58,206.12 1.46,204.72 0.58,203.32 2.23,203.39" fill="#1F8A8E"/><polygon points="13.30,244.38 14.07,245.85 15.72,245.78 14.84,247.18 15.72,248.58 14.07,248.51 13.30,249.98 12.53,248.51 10.88,248.58 11.76,247.18 10.88,245.78 12.53,245.85" fill="#F28A8A"/><text x="47.7" y="274.1" font-size="14.5" font-weight="bold" fill="#000" textLength="87.6" lengthAdjust="spacingAndGlyphs">Seurat Cluster</text><rect x="47.7" y="285.3" width="19.5" height="6.2" fill="#EF7B72"/><rect x="99" y="284.2" width="19.5" height="6.2" fill="#2BB8B9"/><rect x="47.7" y="300" width="19.5" height="6.2" fill="#76B041"/><rect x="99" y="299" width="19.5" height="6.2" fill="#9672B4"/><rect x="181.6" y="282.5" width="19.5" height="6.2" fill="#2DB24C"/><rect x="181.6" y="297.5" width="19.5" height="6.2" fill="#EF7B72"/><text x="76.6" y="293" font-size="13" fill="#000">N1</text><text x="128" y="293" font-size="13" fill="#000">N3</text><text x="76.6" y="309" font-size="13" fill="#000">N2</text><text x="126.3" y="308" font-size="13" fill="#000">N4</text><text x="210.5" y="292" font-size="13" fill="#000">Naïve</text><text x="210.5" y="307.5" font-size="13" fill="#000">14 dpi</text><text x="15.0" y="407.7" font-size="16.5" font-weight="bold" fill="#000">d</text><text x="84.5" y="393.6" font-size="11.5" fill="#000" transform="rotate(-45 84.5 393.6)">14dpi</text><text x="119.7" y="394.4" font-size="11.5" fill="#000" transform="rotate(-45 119.7 394.4)">Naive</text><text x="172.5" y="393.6" font-size="11.5" fill="#000" transform="rotate(-45 172.5 393.6)">14dpi</text><text x="225.3" y="394.4" font-size="11.5" fill="#000" transform="rotate(-45 225.3 394.4)">Naive</text><text x="317.8" y="393.6" font-size="11.5" fill="#000" transform="rotate(-45 317.8 393.6)">14dpi</text><text x="410.8" y="394.5" font-size="11.5" fill="#000" transform="rotate(-45 410.8 394.5)">Naive</text><text x="448.1" y="393.6" font-size="11.5" fill="#000" transform="rotate(-45 448.1 393.6)">14dpi</text><text x="491.4" y="394.5" font-size="11.5" fill="#000" transform="rotate(-45 491.4 394.5)">Naive</text><rect x="47.30" y="395.7" width="68.90" height="4.75" fill="#EF7B72"/><rect x="116.20" y="395.7" width="0.60" height="4.75" fill="#9DA85A"/><rect x="118.00" y="395.7" width="103.80" height="4.75" fill="#EF7B72"/><rect x="221.80" y="395.7" width="0.70" height="4.75" fill="#2DB24C"/><rect x="224.00" y="395.7" width="183.60" height="4.75" fill="#EF7B72"/><rect x="407.60" y="395.7" width="2.00" height="4.75" fill="#2DB24C"/><rect x="410.70" y="395.7" width="69.40" height="4.75" fill="#EF7B72"/><rect x="480.10" y="395.7" width="18.90" height="4.75" fill="#2DB24C"/><rect x="47.30" y="404.3" width="69.50" height="4.8" fill="#EF7B72"/><rect x="118.00" y="404.3" width="104.50" height="4.8" fill="#76B041"/><rect x="224.00" y="404.3" width="185.60" height="4.8" fill="#2BB8B9"/><rect x="410.70" y="404.3" width="88.30" height="4.8" fill="#9672B4"/><text x="500.3" y="400.6" font-size="6.2" fill="#222">or</text><text x="500.3" y="409.2" font-size="6.2" fill="#222">ld</text><rect x="47.3" y="413.90" width="69.5" height="12.50" fill="#FCE9DF"/><g transform="translate(47.3 413.90) scale(0.2 12.50)"><path fill="#F6F9FB" d="M0 0h9v1h-9zM43 0h7v1h-7zM71 0h5v1h-5zM90 0h6v1h-6zM110 0h7v1h-7zM125 0h4v1h-4zM150 0h5v1h-5zM161 0h4v1h-4zM174 0h6v1h-6zM239 0h6v1h-6zM281 0h4v1h-4zM295 0h3v1h-3zM309 0h3v1h-3z"/><path fill="#DCEBF4" d="M11 0h8v1h-8zM102 0h8v1h-8zM117 0h7v1h-7zM138 0h7v1h-7zM156 0h6v1h-6zM214 0h9v1h-9zM251 0h8v1h-8zM299 0h5v1h-5zM306 0h3v1h-3zM312 0h2v1h-2zM324 0h3v1h-3zM343 0h5v1h-5z"/><path fill="#F9D3BD" d="M19 0h7v1h-7zM38 0h5v1h-5zM66 0h5v1h-5zM166 0h8v1h-8zM187 0h4v1h-4zM206 0h8v1h-8zM304 0h2v1h-2zM341 0h2v1h-2z"/><path fill="#F6BA98" d="M26 0h6v1h-6zM50 0h9v1h-9zM76 0h6v1h-6zM145 0h5v1h-5zM180 0h7v1h-7zM223 0h12v1h-12zM285 0h3v1h-3z"/></g><rect x="118.0" y="413.90" width="104.5" height="12.50" fill="#DCEBF4"/><g transform="translate(118.0 413.90) scale(0.2 12.50)"><path fill="#F6F9FB" d="M0 0h5v1h-5zM41 0h3v1h-3zM51 0h6v1h-6zM72 0h6v1h-6zM102 0h4v1h-4zM123 0h5v1h-5zM148 0h6v1h-6zM170 0h5v1h-5zM181 0h5v1h-5zM190 0h8v1h-8zM209 0h9v1h-9zM231 0h7v1h-7zM254 0h12v1h-12zM292 0h12v1h-12zM311 0h6v1h-6zM369 0h3v1h-3zM400 0h8v1h-8zM416 0h3v1h-3zM426 0h15v1h-15zM467 0h9v1h-9zM483 0h16v1h-16z"/><path fill="#F6BA98" d="M5 0h16v1h-16zM110 0h6v1h-6zM248 0h3v1h-3zM269 0h3v1h-3zM285 0h7v1h-7zM316 0h17v1h-17zM408 0h9v1h-9zM441 0h9v1h-9zM506 0h7v1h-7z"/><path fill="#FCE9DF" d="M21 0h8v1h-8zM78 0h2v1h-2zM85 0h3v1h-3zM106 0h4v1h-4zM154 0h4v1h-4zM162 0h9v1h-9zM218 0h2v1h-2zM223 0h8v1h-8zM238 0h3v1h-3zM251 0h3v1h-3zM343 0h13v1h-13zM393 0h7v1h-7zM499 0h7v1h-7zM513 0h9v1h-9z"/><path fill="#F9D3BD" d="M88 0h14v1h-14zM158 0h3v1h-3zM197 0h6v1h-6zM244 0h5v1h-5zM272 0h6v1h-6zM364 0h4v1h-4zM374 0h8v1h-8zM476 0h7v1h-7z"/><path fill="#CC6474" d="M461 0h6v1h-6z"/></g><rect x="224.0" y="413.90" width="185.6" height="12.50" fill="#DCEBF4"/><g transform="translate(224.0 413.90) scale(0.2 12.50)"><path fill="#F6F9FB" d="M0 0h2v1h-2zM62 0h6v1h-6zM107 0h7v1h-7zM129 0h3v1h-3zM139 0h15v1h-15zM163 0h5v1h-5zM191 0h7v1h-7zM206 0h6v1h-6zM242 0h5v1h-5zM289 0h5v1h-5zM318 0h8v1h-8zM360 0h7v1h-7zM371 0h9v1h-9zM391 0h4v1h-4zM404 0h7v1h-7zM417 0h8v1h-8zM444 0h8v1h-8zM455 0h6v1h-6zM468 0h8v1h-8zM494 0h15v1h-15zM539 0h5v1h-5zM573 0h3v1h-3zM597 0h4v1h-4zM615 0h8v1h-8zM630 0h3v1h-3zM653 0h7v1h-7zM682 0h5v1h-5zM741 0h7v1h-7zM768 0h6v1h-6zM810 0h12v1h-12zM844 0h9v1h-9zM869 0h13v1h-13zM887 0h7v1h-7z"/><path fill="#F6BA98" d="M2 0h14v1h-14zM25 0h11v1h-11zM50 0h3v1h-3zM74 0h12v1h-12zM101 0h6v1h-6zM114 0h7v1h-7zM154 0h5v1h-5zM185 0h7v1h-7zM212 0h6v1h-6zM239 0h3v1h-3zM309 0h9v1h-9zM333 0h7v1h-7zM396 0h8v1h-8zM461 0h5v1h-5zM484 0h10v1h-10zM514 0h4v1h-4zM530 0h9v1h-9zM623 0h7v1h-7zM669 0h3v1h-3zM688 0h5v1h-5zM748 0h10v1h-10zM792 0h3v1h-3z"/><path fill="#F9D3BD" d="M16 0h2v1h-2zM68 0h3v1h-3zM235 0h4v1h-4zM326 0h7v1h-7zM340 0h15v1h-15zM385 0h3v1h-3zM525 0h6v1h-6zM550 0h6v1h-6zM705 0h7v1h-7zM774 0h3v1h-3z"/><path fill="#FCE9DF" d="M18 0h7v1h-7zM43 0h7v1h-7zM54 0h3v1h-3zM86 0h5v1h-5zM137 0h2v1h-2zM159 0h4v1h-4zM218 0h8v1h-8zM269 0h5v1h-5zM285 0h3v1h-3zM301 0h8v1h-8zM356 0h4v1h-4zM425 0h4v1h-4zM509 0h5v1h-5zM518 0h6v1h-6zM585 0h9v1h-9zM641 0h5v1h-5zM692 0h8v1h-8zM713 0h13v1h-13zM729 0h12v1h-12zM802 0h8v1h-8zM862 0h7v1h-7zM900 0h3v1h-3zM911 0h15v1h-15z"/><path fill="#CC6474" d="M261 0h8v1h-8zM380 0h5v1h-5zM556 0h7v1h-7zM594 0h2v1h-2zM612 0h3v1h-3zM645 0h8v1h-8zM778 0h9v1h-9z"/></g><rect x="410.7" y="413.90" width="88.3" height="12.50" fill="#DCEAF3"/><g transform="translate(410.7 413.90) scale(0.2 12.50)"><path fill="#CC6474" d="M6 0h4v1h-4zM86 0h6v1h-6zM140 0h4v1h-4zM317 0h4v1h-4z"/><path fill="#F6BA98" d="M183 0h4v1h-4z"/></g><rect x="47.3" y="426.40" width="69.5" height="12.50" fill="#FCE9DF"/><g transform="translate(47.3 426.40) scale(0.2 12.50)"><path fill="#CC6474" d="M14 0h3v1h-3zM57 0h8v1h-8zM78 0h3v1h-3zM137 0h7v1h-7zM163 0h6v1h-6zM200 0h8v1h-8zM262 0h6v1h-6zM281 0h2v1h-2z"/><path fill="#F6F9FB" d="M22 0h6v1h-6zM34 0h8v1h-8zM45 0h9v1h-9zM109 0h3v1h-3zM169 0h7v1h-7zM190 0h5v1h-5zM211 0h5v1h-5z"/><path fill="#F6BA98" d="M28 0h7v1h-7zM65 0h7v1h-7zM81 0h5v1h-5zM131 0h6v1h-6zM175 0h3v1h-3zM222 0h8v1h-8zM268 0h5v1h-5z"/><path fill="#F9D3BD" d="M42 0h3v1h-3zM86 0h14v1h-14zM119 0h7v1h-7zM160 0h3v1h-3zM195 0h4v1h-4zM292 0h7v1h-7zM311 0h8v1h-8zM337 0h8v1h-8z"/><path fill="#DC6140" d="M54 0h3v1h-3zM76 0h2v1h-2zM178 0h3v1h-3zM186 0h4v1h-4zM243 0h2v1h-2z"/><path fill="#DCEBF4" d="M103 0h6v1h-6zM144 0h7v1h-7zM208 0h3v1h-3zM215 0h6v1h-6zM239 0h4v1h-4zM245 0h9v1h-9zM283 0h9v1h-9zM307 0h4v1h-4z"/></g><rect x="118.0" y="426.40" width="104.5" height="12.50" fill="#F6F9FB"/><g transform="translate(118.0 426.40) scale(0.2 12.50)"><path fill="#FCE9DF" d="M0 0h6v1h-6zM10 0h3v1h-3zM19 0h14v1h-14zM69 0h5v1h-5zM101 0h9v1h-9zM130 0h6v1h-6zM141 0h7v1h-7zM181 0h9v1h-9zM214 0h7v1h-7zM226 0h16v1h-16zM293 0h15v1h-15zM310 0h2v1h-2zM319 0h4v1h-4zM368 0h6v1h-6zM416 0h5v1h-5zM467 0h4v1h-4zM505 0h8v1h-8z"/><path fill="#F6BA98" d="M6 0h5v1h-5zM33 0h5v1h-5zM136 0h5v1h-5zM148 0h6v1h-6zM176 0h5v1h-5zM246 0h7v1h-7zM324 0h8v1h-8zM465 0h2v1h-2zM485 0h13v1h-13zM521 0h2v1h-2z"/><path fill="#DCEBF4" d="M38 0h11v1h-11zM52 0h11v1h-11zM79 0h4v1h-4zM110 0h10v1h-10zM124 0h5v1h-5zM154 0h7v1h-7zM170 0h6v1h-6zM190 0h6v1h-6zM210 0h3v1h-3zM242 0h5v1h-5zM254 0h7v1h-7zM279 0h6v1h-6zM332 0h8v1h-8zM357 0h6v1h-6zM403 0h8v1h-8zM426 0h3v1h-3zM438 0h6v1h-6zM454 0h3v1h-3z"/><path fill="#CC6474" d="M82 0h9v1h-9zM97 0h4v1h-4zM120 0h5v1h-5zM285 0h3v1h-3zM352 0h4v1h-4zM373 0h4v1h-4zM386 0h4v1h-4zM429 0h8v1h-8zM460 0h5v1h-5z"/><path fill="#F9D3BD" d="M220 0h5v1h-5z"/></g><rect x="224.0" y="426.40" width="185.6" height="12.50" fill="#DCEBF4"/><g transform="translate(224.0 426.40) scale(0.2 12.50)"><path fill="#F6F9FB" d="M0 0h6v1h-6zM21 0h4v1h-4zM75 0h3v1h-3zM151 0h9v1h-9zM171 0h3v1h-3zM211 0h5v1h-5zM223 0h4v1h-4zM264 0h5v1h-5zM272 0h4v1h-4zM282 0h4v1h-4zM339 0h4v1h-4zM350 0h5v1h-5zM380 0h6v1h-6zM408 0h8v1h-8zM432 0h9v1h-9zM514 0h16v1h-16zM538 0h6v1h-6zM579 0h11v1h-11zM624 0h11v1h-11zM643 0h7v1h-7zM659 0h6v1h-6zM690 0h2v1h-2zM723 0h7v1h-7zM755 0h9v1h-9zM788 0h3v1h-3zM798 0h8v1h-8zM844 0h18v1h-18zM874 0h13v1h-13zM904 0h3v1h-3z"/><path fill="#CC6474" d="M25 0h13v1h-13zM43 0h3v1h-3zM87 0h8v1h-8zM131 0h4v1h-4zM293 0h9v1h-9zM325 0h2v1h-2zM355 0h8v1h-8zM615 0h8v1h-8zM672 0h8v1h-8zM917 0h11v1h-11z"/><path fill="#F6BA98" d="M38 0h3v1h-3zM46 0h14v1h-14zM124 0h8v1h-8zM139 0h6v1h-6zM394 0h8v1h-8zM441 0h14v1h-14zM486 0h6v1h-6zM507 0h8v1h-8zM590 0h7v1h-7zM651 0h9v1h-9zM692 0h9v1h-9zM715 0h8v1h-8zM770 0h7v1h-7zM912 0h2v1h-2z"/><path fill="#FCE9DF" d="M67 0h9v1h-9zM81 0h6v1h-6zM95 0h12v1h-12zM112 0h2v1h-2zM174 0h5v1h-5zM187 0h8v1h-8zM200 0h11v1h-11zM235 0h17v1h-17zM276 0h6v1h-6zM313 0h5v1h-5zM416 0h5v1h-5zM424 0h8v1h-8zM466 0h6v1h-6zM498 0h9v1h-9zM565 0h9v1h-9zM604 0h12v1h-12zM635 0h9v1h-9zM668 0h3v1h-3zM701 0h9v1h-9zM736 0h4v1h-4zM833 0h5v1h-5zM868 0h6v1h-6zM890 0h5v1h-5z"/><path fill="#F9D3BD" d="M290 0h3v1h-3zM812 0h7v1h-7z"/></g><rect x="410.7" y="426.40" width="88.3" height="12.50" fill="#E2ECF3"/><g transform="translate(410.7 426.40) scale(0.2 12.50)"><path fill="#CC6474" d="M14 0h6v1h-6zM49 0h3v1h-3zM259 0h5v1h-5zM414 0h5v1h-5zM324 0h6v1h-6zM399 0h3v1h-3zM361 0h6v1h-6zM313 0h3v1h-3z"/><path fill="#E2AEBB" d="M116 0h10v1h-10zM346 0h13v1h-13zM130 0h12v1h-12zM37 0h12v1h-12z"/></g><rect x="47.3" y="438.90" width="69.5" height="12.50" fill="#FCE9DF"/><g transform="translate(47.3 438.90) scale(0.2 12.50)"><path fill="#F6F9FB" d="M9 0h7v1h-7zM64 0h8v1h-8zM208 0h8v1h-8zM248 0h8v1h-8zM265 0h9v1h-9z"/><path fill="#F6BA98" d="M15 0h5v1h-5zM72 0h4v1h-4zM98 0h5v1h-5zM113 0h7v1h-7zM141 0h2v1h-2zM176 0h3v1h-3zM187 0h4v1h-4zM196 0h10v1h-10zM228 0h5v1h-5zM276 0h6v1h-6zM298 0h6v1h-6zM311 0h6v1h-6zM324 0h9v1h-9zM339 0h8v1h-8z"/><path fill="#DCEBF4" d="M21 0h15v1h-15zM48 0h7v1h-7zM59 0h5v1h-5zM103 0h4v1h-4zM120 0h7v1h-7zM134 0h7v1h-7zM152 0h24v1h-24zM179 0h8v1h-8zM216 0h4v1h-4zM282 0h6v1h-6zM307 0h4v1h-4z"/><path fill="#F9D3BD" d="M75 0h8v1h-8zM90 0h8v1h-8zM107 0h5v1h-5zM127 0h8v1h-8zM143 0h6v1h-6zM191 0h5v1h-5zM220 0h3v1h-3zM256 0h9v1h-9zM274 0h2v1h-2zM287 0h3v1h-3zM318 0h6v1h-6z"/></g><rect x="118.0" y="438.90" width="104.5" height="12.50" fill="#DCEBF4"/><g transform="translate(118.0 438.90) scale(0.2 12.50)"><path fill="#F6BA98" d="M0 0h2v1h-2zM52 0h5v1h-5zM61 0h8v1h-8zM81 0h10v1h-10zM189 0h5v1h-5zM214 0h8v1h-8zM254 0h2v1h-2zM288 0h4v1h-4zM294 0h16v1h-16zM353 0h7v1h-7zM368 0h4v1h-4zM377 0h7v1h-7zM415 0h4v1h-4zM437 0h4v1h-4z"/><path fill="#FCE9DF" d="M2 0h3v1h-3zM17 0h6v1h-6zM45 0h7v1h-7zM134 0h3v1h-3zM149 0h5v1h-5zM168 0h6v1h-6zM224 0h6v1h-6zM256 0h9v1h-9zM272 0h4v1h-4zM326 0h9v1h-9zM401 0h8v1h-8zM453 0h5v1h-5zM483 0h8v1h-8zM499 0h6v1h-6zM513 0h7v1h-7z"/><path fill="#F6F9FB" d="M9 0h7v1h-7zM23 0h10v1h-10zM37 0h8v1h-8zM76 0h5v1h-5zM117 0h17v1h-17zM162 0h6v1h-6zM174 0h5v1h-5zM201 0h5v1h-5zM222 0h2v1h-2zM265 0h7v1h-7zM316 0h3v1h-3zM334 0h18v1h-18zM360 0h8v1h-8zM384 0h9v1h-9zM431 0h6v1h-6zM449 0h4v1h-4zM459 0h18v1h-18zM520 0h2v1h-2z"/><path fill="#F9D3BD" d="M69 0h7v1h-7zM137 0h4v1h-4zM179 0h5v1h-5zM322 0h4v1h-4zM412 0h3v1h-3z"/></g><rect x="224.0" y="438.90" width="185.6" height="12.50" fill="#DCEBF4"/><g transform="translate(224.0 438.90) scale(0.2 12.50)"><path fill="#F9D3BD" d="M0 0h8v1h-8zM202 0h13v1h-13zM384 0h6v1h-6zM516 0h6v1h-6z"/><path fill="#F6F9FB" d="M8 0h6v1h-6zM34 0h2v1h-2zM81 0h6v1h-6zM124 0h5v1h-5zM142 0h3v1h-3zM161 0h6v1h-6zM184 0h4v1h-4zM230 0h5v1h-5zM286 0h14v1h-14zM342 0h2v1h-2zM366 0h7v1h-7zM394 0h5v1h-5zM417 0h4v1h-4zM431 0h6v1h-6zM460 0h4v1h-4zM531 0h3v1h-3zM568 0h9v1h-9zM587 0h6v1h-6zM655 0h4v1h-4zM714 0h5v1h-5zM828 0h20v1h-20zM870 0h6v1h-6zM880 0h16v1h-16zM912 0h5v1h-5z"/><path fill="#F6BA98" d="M14 0h13v1h-13zM44 0h5v1h-5zM63 0h7v1h-7zM129 0h7v1h-7zM145 0h5v1h-5zM158 0h3v1h-3zM180 0h4v1h-4zM235 0h5v1h-5zM260 0h14v1h-14zM279 0h6v1h-6zM337 0h5v1h-5zM344 0h3v1h-3zM363 0h2v1h-2zM422 0h6v1h-6zM437 0h4v1h-4zM455 0h5v1h-5zM476 0h8v1h-8zM489 0h2v1h-2zM496 0h2v1h-2zM522 0h2v1h-2zM580 0h4v1h-4zM600 0h5v1h-5zM645 0h6v1h-6zM663 0h9v1h-9zM690 0h6v1h-6zM719 0h17v1h-17zM743 0h6v1h-6zM769 0h9v1h-9zM856 0h9v1h-9zM902 0h3v1h-3z"/><path fill="#FCE9DF" d="M27 0h8v1h-8zM58 0h5v1h-5zM70 0h11v1h-11zM102 0h3v1h-3zM150 0h4v1h-4zM197 0h6v1h-6zM218 0h6v1h-6zM247 0h13v1h-13zM273 0h6v1h-6zM390 0h4v1h-4zM399 0h5v1h-5zM441 0h9v1h-9zM502 0h9v1h-9zM538 0h8v1h-8zM554 0h7v1h-7zM593 0h7v1h-7zM696 0h8v1h-8zM736 0h7v1h-7zM781 0h12v1h-12zM799 0h6v1h-6zM823 0h5v1h-5zM916 0h11v1h-11z"/><path fill="#CC6474" d="M37 0h7v1h-7zM300 0h7v1h-7zM498 0h3v1h-3zM577 0h3v1h-3zM651 0h5v1h-5zM678 0h7v1h-7zM764 0h6v1h-6z"/></g><rect x="410.7" y="438.90" width="88.3" height="12.50" fill="#DDE9F1"/><g transform="translate(410.7 438.90) scale(0.2 12.50)"><path fill="#CC6474" d="M236 0h3v1h-3zM305 0h5v1h-5zM117 0h6v1h-6zM425 0h3v1h-3zM388 0h5v1h-5zM394 0h5v1h-5zM317 0h5v1h-5zM416 0h5v1h-5zM425 0h6v1h-6zM90 0h4v1h-4zM200 0h3v1h-3zM301 0h5v1h-5zM422 0h4v1h-4z"/><path fill="#F6BA98" d="M232 0h3v1h-3zM106 0h5v1h-5zM86 0h5v1h-5zM194 0h6v1h-6zM267 0h6v1h-6z"/><path fill="#E2AEBB" d="M384 0h6v1h-6zM64 0h15v1h-15zM69 0h10v1h-10zM370 0h14v1h-14zM328 0h14v1h-14z"/></g><rect x="47.3" y="451.40" width="69.5" height="12.50" fill="#F6F9FB"/><g transform="translate(47.3 451.40) scale(0.2 12.50)"><path fill="#F6BA98" d="M0 0h5v1h-5zM7 0h6v1h-6zM31 0h7v1h-7zM99 0h5v1h-5zM123 0h6v1h-6zM147 0h2v1h-2zM209 0h6v1h-6zM284 0h8v1h-8zM328 0h8v1h-8zM343 0h3v1h-3z"/><path fill="#DCEBF4" d="M19 0h11v1h-11zM59 0h5v1h-5zM80 0h2v1h-2zM129 0h7v1h-7zM252 0h4v1h-4zM299 0h6v1h-6zM335 0h7v1h-7z"/><path fill="#FCE9DF" d="M45 0h14v1h-14zM72 0h8v1h-8zM82 0h8v1h-8zM96 0h3v1h-3zM111 0h7v1h-7zM137 0h11v1h-11zM149 0h8v1h-8zM166 0h6v1h-6zM186 0h18v1h-18zM256 0h12v1h-12zM314 0h5v1h-5z"/><path fill="#F9D3BD" d="M215 0h7v1h-7zM228 0h8v1h-8zM319 0h9v1h-9z"/><path fill="#CC6474" d="M272 0h3v1h-3zM305 0h7v1h-7z"/></g><rect x="118.0" y="451.40" width="104.5" height="12.50" fill="#F2F6F9"/><g transform="translate(118.0 451.40) scale(0.2 12.50)"><path fill="#CC6474" d="M443 0h4v1h-4zM72 0h4v1h-4zM335 0h4v1h-4zM14 0h5v1h-5zM147 0h6v1h-6zM325 0h3v1h-3z"/><path fill="#F6BA98" d="M48 0h5v1h-5zM376 0h3v1h-3zM6 0h5v1h-5z"/><path fill="#E2AEBB" d="M245 0h5v1h-5zM115 0h12v1h-12zM370 0h8v1h-8z"/></g><rect x="224.0" y="451.40" width="185.6" height="12.50" fill="#F2F6F9"/><g transform="translate(224.0 451.40) scale(0.2 12.50)"><path fill="#CC6474" d="M52 0h5v1h-5zM218 0h5v1h-5zM918 0h4v1h-4zM170 0h6v1h-6zM367 0h6v1h-6zM259 0h4v1h-4zM912 0h3v1h-3zM191 0h4v1h-4z"/><path fill="#F6BA98" d="M382 0h3v1h-3zM32 0h3v1h-3zM450 0h6v1h-6zM136 0h5v1h-5z"/><path fill="#E2AEBB" d="M778 0h5v1h-5zM868 0h4v1h-4zM181 0h15v1h-15zM164 0h7v1h-7z"/></g><rect x="410.7" y="451.40" width="88.3" height="12.50" fill="#F2F6F9"/><g transform="translate(410.7 451.40) scale(0.2 12.50)"><path fill="#CC6474" d="M230 0h4v1h-4zM210 0h6v1h-6zM188 0h3v1h-3z"/></g><rect x="47.3" y="463.90" width="69.5" height="12.50" fill="#DCEBF4"/><g transform="translate(47.3 463.90) scale(0.2 12.50)"><path fill="#F6F9FB" d="M3 0h5v1h-5zM32 0h6v1h-6zM43 0h3v1h-3zM50 0h6v1h-6zM119 0h9v1h-9zM142 0h7v1h-7zM170 0h7v1h-7zM182 0h7v1h-7zM199 0h7v1h-7zM224 0h14v1h-14zM251 0h9v1h-9zM274 0h4v1h-4z"/><path fill="#F6BA98" d="M8 0h10v1h-10zM80 0h5v1h-5zM134 0h8v1h-8zM205 0h4v1h-4z"/><path fill="#FCE9DF" d="M38 0h6v1h-6zM71 0h9v1h-9zM93 0h3v1h-3zM104 0h15v1h-15zM128 0h6v1h-6zM278 0h2v1h-2zM332 0h2v1h-2z"/><path fill="#C4DDED" d="M194 0h5v1h-5zM238 0h6v1h-6zM260 0h5v1h-5zM286 0h15v1h-15zM317 0h15v1h-15zM347 0h1v1h-1z"/></g><rect x="118.0" y="463.90" width="104.5" height="12.50" fill="#DCEBF4"/><g transform="translate(118.0 463.90) scale(0.2 12.50)"><path fill="#F6BA98" d="M8 0h9v1h-9zM20 0h7v1h-7zM48 0h13v1h-13zM73 0h8v1h-8zM92 0h2v1h-2zM136 0h6v1h-6zM185 0h13v1h-13zM212 0h5v1h-5zM238 0h7v1h-7zM328 0h13v1h-13zM352 0h3v1h-3zM361 0h4v1h-4zM433 0h13v1h-13zM506 0h4v1h-4z"/><path fill="#CC6474" d="M16 0h3v1h-3zM217 0h7v1h-7zM418 0h5v1h-5zM447 0h4v1h-4zM460 0h6v1h-6z"/><path fill="#F6F9FB" d="M27 0h8v1h-8zM84 0h8v1h-8zM156 0h9v1h-9zM198 0h6v1h-6zM383 0h7v1h-7zM401 0h4v1h-4zM423 0h6v1h-6zM491 0h7v1h-7zM503 0h3v1h-3zM513 0h9v1h-9z"/><path fill="#FCE9DF" d="M35 0h7v1h-7zM97 0h8v1h-8zM126 0h11v1h-11zM224 0h7v1h-7zM249 0h5v1h-5zM256 0h8v1h-8zM295 0h7v1h-7zM355 0h3v1h-3zM479 0h12v1h-12z"/><path fill="#C4DDED" d="M341 0h9v1h-9zM465 0h3v1h-3z"/></g><rect x="224.0" y="463.90" width="185.6" height="12.50" fill="#FCE9DF"/><g transform="translate(224.0 463.90) scale(0.2 12.50)"><path fill="#F9D3BD" d="M10 0h7v1h-7zM26 0h5v1h-5zM51 0h5v1h-5zM76 0h8v1h-8zM95 0h4v1h-4zM101 0h8v1h-8zM142 0h7v1h-7zM151 0h9v1h-9zM173 0h5v1h-5zM287 0h9v1h-9zM316 0h9v1h-9zM335 0h8v1h-8zM354 0h8v1h-8zM418 0h3v1h-3zM484 0h3v1h-3zM493 0h8v1h-8zM508 0h8v1h-8zM532 0h5v1h-5zM576 0h17v1h-17zM597 0h6v1h-6zM615 0h6v1h-6zM645 0h13v1h-13zM668 0h3v1h-3zM726 0h7v1h-7zM785 0h4v1h-4zM816 0h16v1h-16zM839 0h4v1h-4zM906 0h6v1h-6zM919 0h8v1h-8z"/><path fill="#F6BA98" d="M18 0h8v1h-8zM40 0h6v1h-6zM56 0h5v1h-5zM84 0h11v1h-11zM117 0h8v1h-8zM148 0h3v1h-3zM168 0h5v1h-5zM178 0h3v1h-3zM202 0h12v1h-12zM223 0h4v1h-4zM233 0h14v1h-14zM273 0h3v1h-3zM296 0h2v1h-2zM351 0h3v1h-3zM379 0h4v1h-4zM387 0h9v1h-9zM406 0h6v1h-6zM436 0h8v1h-8zM456 0h28v1h-28zM500 0h8v1h-8zM537 0h12v1h-12zM592 0h5v1h-5zM604 0h4v1h-4zM621 0h2v1h-2zM634 0h3v1h-3zM658 0h7v1h-7zM672 0h7v1h-7zM688 0h22v1h-22zM713 0h13v1h-13zM733 0h5v1h-5zM741 0h5v1h-5zM753 0h11v1h-11zM773 0h9v1h-9zM789 0h11v1h-11zM832 0h8v1h-8zM849 0h24v1h-24z"/><path fill="#F6F9FB" d="M31 0h3v1h-3zM46 0h5v1h-5zM230 0h3v1h-3zM268 0h5v1h-5zM277 0h6v1h-6zM298 0h5v1h-5zM324 0h7v1h-7zM343 0h8v1h-8zM362 0h8v1h-8zM374 0h5v1h-5zM443 0h8v1h-8zM487 0h6v1h-6zM515 0h17v1h-17zM569 0h6v1h-6zM608 0h5v1h-5zM666 0h3v1h-3zM897 0h9v1h-9z"/><path fill="#DCEBF4" d="M34 0h6v1h-6zM61 0h2v1h-2zM98 0h2v1h-2zM108 0h4v1h-4zM133 0h9v1h-9zM160 0h6v1h-6zM181 0h8v1h-8zM218 0h5v1h-5zM254 0h4v1h-4zM283 0h5v1h-5zM308 0h7v1h-7zM412 0h6v1h-6zM432 0h4v1h-4zM552 0h3v1h-3zM562 0h7v1h-7zM637 0h8v1h-8zM811 0h5v1h-5zM879 0h18v1h-18zM911 0h8v1h-8z"/><path fill="#CC6474" d="M113 0h5v1h-5zM258 0h4v1h-4zM382 0h5v1h-5zM396 0h3v1h-3zM421 0h6v1h-6zM549 0h3v1h-3zM555 0h7v1h-7zM749 0h4v1h-4z"/></g><rect x="410.7" y="463.90" width="88.3" height="12.50" fill="#DCE8F0"/><g transform="translate(410.7 463.90) scale(0.2 12.50)"><path fill="#CC6474" d="M58 0h3v1h-3zM45 0h6v1h-6zM116 0h6v1h-6zM422 0h6v1h-6zM253 0h3v1h-3zM202 0h5v1h-5zM219 0h3v1h-3zM228 0h5v1h-5zM238 0h3v1h-3zM77 0h3v1h-3zM211 0h4v1h-4zM113 0h4v1h-4z"/><path fill="#E2AEBB" d="M70 0h5v1h-5zM137 0h12v1h-12zM362 0h13v1h-13zM274 0h10v1h-10zM324 0h8v1h-8z"/><path fill="#F6BA98" d="M161 0h5v1h-5zM2 0h6v1h-6zM415 0h6v1h-6z"/></g><rect x="47.3" y="476.40" width="69.5" height="12.50" fill="#FCE9DF"/><g transform="translate(47.3 476.40) scale(0.2 12.50)"><path fill="#F6BA98" d="M0 0h4v1h-4zM21 0h9v1h-9zM42 0h4v1h-4zM84 0h6v1h-6zM97 0h2v1h-2zM145 0h8v1h-8zM172 0h7v1h-7zM256 0h10v1h-10zM304 0h2v1h-2z"/><path fill="#F9D3BD" d="M4 0h3v1h-3zM47 0h25v1h-25zM111 0h12v1h-12zM164 0h4v1h-4zM190 0h6v1h-6zM214 0h8v1h-8zM242 0h14v1h-14zM266 0h23v1h-23zM320 0h8v1h-8zM332 0h11v1h-11z"/><path fill="#DCEBF4" d="M30 0h6v1h-6zM71 0h7v1h-7zM99 0h4v1h-4zM158 0h6v1h-6zM179 0h4v1h-4zM202 0h11v1h-11zM313 0h7v1h-7z"/><path fill="#F6F9FB" d="M36 0h7v1h-7zM131 0h14v1h-14zM289 0h8v1h-8z"/><path fill="#CC6474" d="M153 0h6v1h-6zM182 0h7v1h-7zM297 0h7v1h-7z"/></g><rect x="118.0" y="476.40" width="104.5" height="12.50" fill="#DCEBF4"/><g transform="translate(118.0 476.40) scale(0.2 12.50)"><path fill="#F6F9FB" d="M0 0h7v1h-7zM11 0h7v1h-7zM25 0h7v1h-7zM44 0h17v1h-17zM94 0h12v1h-12zM143 0h5v1h-5zM166 0h3v1h-3zM174 0h13v1h-13zM196 0h7v1h-7zM206 0h7v1h-7zM227 0h6v1h-6zM250 0h12v1h-12zM271 0h11v1h-11zM301 0h3v1h-3zM315 0h7v1h-7zM328 0h7v1h-7zM355 0h5v1h-5zM373 0h6v1h-6zM401 0h4v1h-4zM433 0h6v1h-6zM450 0h3v1h-3zM466 0h7v1h-7zM488 0h8v1h-8zM517 0h5v1h-5z"/><path fill="#CC6474" d="M7 0h4v1h-4zM172 0h2v1h-2zM322 0h6v1h-6zM352 0h4v1h-4zM360 0h2v1h-2zM379 0h3v1h-3zM456 0h4v1h-4z"/><path fill="#FCE9DF" d="M70 0h7v1h-7zM84 0h4v1h-4zM106 0h12v1h-12zM133 0h8v1h-8zM152 0h5v1h-5zM213 0h8v1h-8zM262 0h7v1h-7zM290 0h6v1h-6zM336 0h16v1h-16zM363 0h6v1h-6zM428 0h5v1h-5zM453 0h3v1h-3zM460 0h6v1h-6zM480 0h8v1h-8zM496 0h3v1h-3z"/><path fill="#F6BA98" d="M124 0h9v1h-9zM149 0h3v1h-3zM241 0h9v1h-9zM282 0h7v1h-7zM305 0h7v1h-7zM382 0h2v1h-2zM393 0h9v1h-9zM499 0h8v1h-8z"/></g><rect x="224.0" y="476.40" width="185.6" height="12.50" fill="#DCEBF4"/><g transform="translate(224.0 476.40) scale(0.2 12.50)"><path fill="#F6BA98" d="M6 0h4v1h-4zM56 0h4v1h-4zM63 0h8v1h-8zM106 0h7v1h-7zM133 0h12v1h-12zM190 0h8v1h-8zM229 0h2v1h-2zM286 0h4v1h-4zM338 0h7v1h-7zM386 0h8v1h-8zM482 0h6v1h-6zM499 0h3v1h-3zM510 0h2v1h-2zM549 0h7v1h-7zM636 0h5v1h-5zM668 0h8v1h-8zM761 0h6v1h-6zM817 0h3v1h-3zM888 0h6v1h-6zM905 0h3v1h-3zM927 0h1v1h-1z"/><path fill="#FCE9DF" d="M37 0h5v1h-5zM114 0h7v1h-7zM146 0h3v1h-3zM160 0h7v1h-7zM298 0h7v1h-7zM345 0h11v1h-11zM373 0h8v1h-8zM399 0h4v1h-4zM557 0h5v1h-5zM581 0h2v1h-2zM623 0h9v1h-9zM659 0h2v1h-2zM688 0h2v1h-2zM704 0h4v1h-4zM784 0h13v1h-13zM812 0h5v1h-5zM824 0h8v1h-8z"/><path fill="#F6F9FB" d="M42 0h8v1h-8zM60 0h2v1h-2zM80 0h8v1h-8zM149 0h3v1h-3zM167 0h8v1h-8zM198 0h2v1h-2zM246 0h3v1h-3zM325 0h7v1h-7zM371 0h2v1h-2zM382 0h4v1h-4zM394 0h5v1h-5zM411 0h8v1h-8zM444 0h7v1h-7zM467 0h5v1h-5zM488 0h4v1h-4zM512 0h8v1h-8zM599 0h5v1h-5zM613 0h2v1h-2zM641 0h10v1h-10zM664 0h4v1h-4zM680 0h8v1h-8zM690 0h7v1h-7zM725 0h14v1h-14zM746 0h8v1h-8zM797 0h3v1h-3zM805 0h6v1h-6zM855 0h6v1h-6zM883 0h5v1h-5zM903 0h2v1h-2zM914 0h7v1h-7z"/><path fill="#F9D3BD" d="M71 0h3v1h-3zM590 0h9v1h-9zM698 0h7v1h-7zM841 0h7v1h-7zM861 0h6v1h-6z"/><path fill="#CC6474" d="M152 0h9v1h-9zM175 0h8v1h-8zM200 0h7v1h-7zM215 0h5v1h-5zM249 0h5v1h-5zM310 0h9v1h-9zM419 0h7v1h-7zM463 0h4v1h-4zM520 0h9v1h-9zM547 0h2v1h-2zM573 0h8v1h-8zM604 0h2v1h-2zM633 0h3v1h-3zM754 0h7v1h-7zM773 0h3v1h-3zM832 0h9v1h-9zM867 0h9v1h-9z"/></g><rect x="410.7" y="476.40" width="88.3" height="12.50" fill="#E1ECF3"/><g transform="translate(410.7 476.40) scale(0.2 12.50)"><path fill="#CC6474" d="M409 0h6v1h-6zM340 0h3v1h-3zM90 0h4v1h-4zM222 0h5v1h-5zM229 0h4v1h-4z"/></g><rect x="47.3" y="488.90" width="69.5" height="12.50" fill="#F9D3BD"/><g transform="translate(47.3 488.90) scale(0.2 12.50)"><path fill="#F2A070" d="M0 0h5v1h-5zM29 0h7v1h-7zM82 0h7v1h-7zM192 0h7v1h-7zM204 0h6v1h-6zM226 0h5v1h-5zM268 0h4v1h-4z"/><path fill="#FCE9DF" d="M5 0h7v1h-7zM55 0h7v1h-7zM116 0h8v1h-8zM137 0h5v1h-5zM156 0h7v1h-7zM242 0h7v1h-7zM252 0h4v1h-4zM319 0h6v1h-6z"/><path fill="#F6BA98" d="M12 0h4v1h-4zM73 0h9v1h-9zM142 0h6v1h-6zM170 0h6v1h-6zM183 0h9v1h-9zM199 0h5v1h-5zM231 0h6v1h-6zM259 0h9v1h-9zM280 0h2v1h-2zM294 0h21v1h-21zM333 0h7v1h-7zM347 0h1v1h-1z"/><path fill="#DCEBF4" d="M16 0h4v1h-4zM62 0h7v1h-7zM131 0h5v1h-5zM210 0h7v1h-7z"/><path fill="#CC6474" d="M43 0h4v1h-4zM110 0h6v1h-6zM257 0h3v1h-3z"/></g><rect x="118.0" y="488.90" width="104.5" height="12.50" fill="#DCEBF4"/><g transform="translate(118.0 488.90) scale(0.2 12.50)"><path fill="#F6BA98" d="M0 0h10v1h-10zM19 0h7v1h-7zM108 0h3v1h-3zM128 0h2v1h-2zM161 0h8v1h-8zM202 0h6v1h-6zM254 0h3v1h-3zM280 0h10v1h-10zM352 0h6v1h-6zM364 0h7v1h-7zM403 0h7v1h-7zM478 0h5v1h-5zM516 0h2v1h-2z"/><path fill="#FCE9DF" d="M25 0h2v1h-2zM75 0h8v1h-8zM135 0h3v1h-3zM208 0h8v1h-8zM231 0h6v1h-6zM432 0h5v1h-5zM491 0h8v1h-8zM511 0h5v1h-5z"/><path fill="#F6F9FB" d="M57 0h6v1h-6zM106 0h2v1h-2zM186 0h17v1h-17zM216 0h5v1h-5zM228 0h3v1h-3zM243 0h11v1h-11zM266 0h9v1h-9zM328 0h13v1h-13zM378 0h6v1h-6zM419 0h6v1h-6zM444 0h6v1h-6zM460 0h10v1h-10zM483 0h8v1h-8zM508 0h3v1h-3zM518 0h4v1h-4z"/><path fill="#CC6474" d="M69 0h5v1h-5zM130 0h5v1h-5zM277 0h3v1h-3z"/></g><rect x="224.0" y="488.90" width="185.6" height="12.50" fill="#DCEBF4"/><g transform="translate(224.0 488.90) scale(0.2 12.50)"><path fill="#FCE9DF" d="M0 0h4v1h-4zM15 0h4v1h-4zM21 0h9v1h-9zM62 0h7v1h-7zM74 0h7v1h-7zM94 0h12v1h-12zM131 0h15v1h-15zM221 0h9v1h-9zM451 0h4v1h-4zM610 0h3v1h-3zM630 0h9v1h-9zM682 0h6v1h-6zM700 0h8v1h-8zM749 0h9v1h-9zM773 0h7v1h-7zM832 0h6v1h-6z"/><path fill="#CC6474" d="M4 0h3v1h-3zM11 0h4v1h-4zM259 0h7v1h-7zM405 0h7v1h-7zM527 0h3v1h-3zM619 0h7v1h-7zM677 0h5v1h-5zM719 0h8v1h-8zM842 0h9v1h-9zM897 0h5v1h-5zM917 0h9v1h-9z"/><path fill="#F6F9FB" d="M8 0h3v1h-3zM107 0h4v1h-4zM146 0h3v1h-3zM164 0h4v1h-4zM170 0h6v1h-6zM197 0h4v1h-4zM213 0h7v1h-7zM236 0h4v1h-4zM380 0h3v1h-3zM402 0h3v1h-3zM425 0h5v1h-5zM437 0h14v1h-14zM456 0h8v1h-8zM477 0h5v1h-5zM561 0h7v1h-7zM625 0h5v1h-5zM639 0h8v1h-8zM708 0h10v1h-10zM734 0h8v1h-8zM787 0h5v1h-5zM873 0h3v1h-3z"/><path fill="#F6BA98" d="M19 0h3v1h-3zM51 0h5v1h-5zM69 0h5v1h-5zM87 0h7v1h-7zM110 0h8v1h-8zM176 0h18v1h-18zM230 0h6v1h-6zM280 0h7v1h-7zM299 0h7v1h-7zM309 0h7v1h-7zM324 0h8v1h-8zM355 0h6v1h-6zM412 0h12v1h-12zM464 0h13v1h-13zM482 0h4v1h-4zM519 0h8v1h-8zM530 0h8v1h-8zM549 0h9v1h-9zM579 0h6v1h-6zM758 0h6v1h-6zM780 0h7v1h-7zM797 0h8v1h-8zM839 0h4v1h-4zM851 0h4v1h-4zM862 0h5v1h-5zM876 0h8v1h-8zM893 0h4v1h-4z"/></g><rect x="410.7" y="488.90" width="88.3" height="12.50" fill="#DDE9F1"/><g transform="translate(410.7 488.90) scale(0.2 12.50)"><path fill="#CC6474" d="M222 0h3v1h-3zM362 0h3v1h-3zM386 0h5v1h-5zM206 0h4v1h-4zM9 0h5v1h-5zM273 0h3v1h-3zM375 0h3v1h-3zM106 0h6v1h-6zM309 0h5v1h-5zM300 0h3v1h-3z"/><path fill="#F6BA98" d="M265 0h3v1h-3zM275 0h4v1h-4zM389 0h3v1h-3z"/></g><rect x="47.3" y="501.40" width="69.5" height="12.50" fill="#F6F9FB"/><g transform="translate(47.3 501.40) scale(0.2 12.50)"><path fill="#F6BA98" d="M0 0h5v1h-5zM47 0h4v1h-4zM103 0h3v1h-3zM126 0h7v1h-7zM190 0h5v1h-5zM221 0h5v1h-5zM234 0h3v1h-3zM252 0h10v1h-10zM265 0h2v1h-2zM299 0h3v1h-3zM310 0h8v1h-8zM343 0h4v1h-4z"/><path fill="#CC6474" d="M16 0h6v1h-6zM72 0h3v1h-3zM172 0h4v1h-4zM201 0h7v1h-7zM226 0h3v1h-3z"/><path fill="#DCEBF4" d="M27 0h16v1h-16zM75 0h8v1h-8zM87 0h3v1h-3zM95 0h8v1h-8zM195 0h4v1h-4zM249 0h3v1h-3zM267 0h9v1h-9z"/><path fill="#FCE9DF" d="M65 0h2v1h-2zM110 0h3v1h-3zM160 0h4v1h-4zM208 0h7v1h-7zM245 0h5v1h-5zM276 0h4v1h-4zM308 0h3v1h-3zM318 0h8v1h-8z"/></g><rect x="118.0" y="501.40" width="104.5" height="12.50" fill="#F2F6F9"/><g transform="translate(118.0 501.40) scale(0.2 12.50)"><path fill="#CC6474" d="M123 0h4v1h-4zM450 0h4v1h-4zM341 0h5v1h-5zM162 0h4v1h-4zM74 0h5v1h-5zM285 0h3v1h-3z"/><path fill="#F6BA98" d="M77 0h3v1h-3zM190 0h5v1h-5zM285 0h6v1h-6zM22 0h5v1h-5zM142 0h4v1h-4zM117 0h4v1h-4z"/></g><rect x="224.0" y="501.40" width="185.6" height="12.50" fill="#F2F6F9"/><g transform="translate(224.0 501.40) scale(0.2 12.50)"><path fill="#CC6474" d="M422 0h6v1h-6zM217 0h4v1h-4zM223 0h3v1h-3zM814 0h6v1h-6zM816 0h6v1h-6zM497 0h6v1h-6zM124 0h4v1h-4zM366 0h6v1h-6zM201 0h5v1h-5zM22 0h4v1h-4zM102 0h4v1h-4zM901 0h4v1h-4zM312 0h5v1h-5zM90 0h3v1h-3zM8 0h5v1h-5zM247 0h6v1h-6zM196 0h5v1h-5zM667 0h5v1h-5zM711 0h6v1h-6z"/><path fill="#F6BA98" d="M349 0h6v1h-6zM66 0h3v1h-3zM363 0h3v1h-3zM834 0h4v1h-4z"/><path fill="#E2AEBB" d="M162 0h14v1h-14zM513 0h5v1h-5zM581 0h9v1h-9zM659 0h14v1h-14zM31 0h11v1h-11zM46 0h12v1h-12zM287 0h14v1h-14zM360 0h7v1h-7z"/></g><rect x="410.7" y="501.40" width="88.3" height="12.50" fill="#F2F6F9"/><g transform="translate(410.7 501.40) scale(0.2 12.50)"><path fill="#CC6474" d="M333 0h4v1h-4zM43 0h6v1h-6zM30 0h5v1h-5zM117 0h3v1h-3zM346 0h6v1h-6z"/></g><rect x="47.3" y="513.90" width="69.5" height="12.50" fill="#F6F9FB"/><rect x="118.0" y="513.90" width="104.5" height="12.50" fill="#F6F9FB"/><rect x="224.0" y="513.90" width="185.6" height="12.50" fill="#F6F9FB"/><g transform="translate(224.0 513.90) scale(0.2 12.50)"><path fill="#CC6474" d="M7 0h5v1h-5zM337 0h5v1h-5z"/></g><rect x="410.7" y="513.90" width="88.3" height="12.50" fill="#F6F9FB"/><g transform="translate(410.7 513.90) scale(0.2 12.50)"><path fill="#CC6474" d="M57 0h6v1h-6zM229 0h4v1h-4zM83 0h5v1h-5z"/></g><rect x="47.3" y="526.40" width="69.5" height="12.50" fill="#DCEBF4"/><g transform="translate(47.3 526.40) scale(0.2 12.50)"><path fill="#F6F9FB" d="M8 0h2v1h-2zM126 0h4v1h-4zM156 0h2v1h-2zM291 0h2v1h-2zM327 0h5v1h-5zM343 0h4v1h-4z"/><path fill="#C4DDED" d="M15 0h6v1h-6zM25 0h12v1h-12zM45 0h9v1h-9zM108 0h7v1h-7zM130 0h6v1h-6zM140 0h8v1h-8zM161 0h5v1h-5zM190 0h8v1h-8zM283 0h8v1h-8zM294 0h5v1h-5zM307 0h17v1h-17z"/></g><rect x="118.0" y="526.40" width="104.5" height="12.50" fill="#DCEBF4"/><g transform="translate(118.0 526.40) scale(0.2 12.50)"><path fill="#C4DDED" d="M9 0h9v1h-9zM27 0h5v1h-5zM87 0h3v1h-3zM100 0h5v1h-5zM122 0h3v1h-3zM139 0h5v1h-5zM199 0h2v1h-2zM218 0h3v1h-3zM256 0h12v1h-12zM311 0h8v1h-8zM325 0h4v1h-4zM351 0h8v1h-8zM395 0h7v1h-7zM457 0h3v1h-3zM489 0h7v1h-7z"/><path fill="#FCE9DF" d="M18 0h9v1h-9zM51 0h6v1h-6zM111 0h5v1h-5zM143 0h8v1h-8zM191 0h6v1h-6zM247 0h8v1h-8zM340 0h7v1h-7zM466 0h7v1h-7zM481 0h8v1h-8z"/><path fill="#F6BA98" d="M32 0h6v1h-6zM391 0h4v1h-4z"/><path fill="#F6F9FB" d="M65 0h5v1h-5zM84 0h3v1h-3zM104 0h7v1h-7zM125 0h5v1h-5zM156 0h6v1h-6zM201 0h8v1h-8zM221 0h7v1h-7zM240 0h7v1h-7zM267 0h5v1h-5zM329 0h10v1h-10zM359 0h5v1h-5zM367 0h6v1h-6zM378 0h6v1h-6zM429 0h3v1h-3zM506 0h9v1h-9zM521 0h1v1h-1z"/></g><rect x="224.0" y="526.40" width="185.6" height="12.50" fill="#FCE9DF"/><g transform="translate(224.0 526.40) scale(0.2 12.50)"><path fill="#F6F9FB" d="M4 0h4v1h-4zM68 0h9v1h-9zM186 0h11v1h-11zM227 0h6v1h-6zM240 0h9v1h-9zM272 0h6v1h-6zM320 0h5v1h-5zM481 0h2v1h-2zM485 0h3v1h-3zM520 0h5v1h-5zM556 0h7v1h-7zM637 0h6v1h-6zM653 0h8v1h-8zM703 0h5v1h-5zM821 0h8v1h-8z"/><path fill="#F6BA98" d="M10 0h7v1h-7zM29 0h14v1h-14zM59 0h3v1h-3zM86 0h17v1h-17zM121 0h6v1h-6zM132 0h5v1h-5zM181 0h5v1h-5zM205 0h8v1h-8zM233 0h3v1h-3zM262 0h8v1h-8zM285 0h11v1h-11zM339 0h7v1h-7zM351 0h8v1h-8zM375 0h5v1h-5zM398 0h12v1h-12zM464 0h10v1h-10zM504 0h7v1h-7zM525 0h8v1h-8zM553 0h2v1h-2zM571 0h3v1h-3zM577 0h15v1h-15zM607 0h8v1h-8zM617 0h8v1h-8zM632 0h5v1h-5zM643 0h8v1h-8zM682 0h5v1h-5zM708 0h4v1h-4zM723 0h4v1h-4zM741 0h7v1h-7zM767 0h12v1h-12zM785 0h6v1h-6zM798 0h3v1h-3zM881 0h5v1h-5zM925 0h3v1h-3z"/><path fill="#CC6474" d="M20 0h5v1h-5zM308 0h7v1h-7zM325 0h7v1h-7zM346 0h5v1h-5zM389 0h9v1h-9zM447 0h5v1h-5zM454 0h5v1h-5zM544 0h9v1h-9zM734 0h7v1h-7zM919 0h4v1h-4z"/><path fill="#DCEBF4" d="M25 0h5v1h-5zM127 0h5v1h-5zM137 0h8v1h-8zM157 0h7v1h-7zM258 0h4v1h-4zM296 0h4v1h-4zM332 0h7v1h-7zM359 0h9v1h-9zM381 0h4v1h-4zM410 0h4v1h-4zM417 0h2v1h-2zM651 0h2v1h-2zM661 0h13v1h-13zM712 0h2v1h-2zM755 0h12v1h-12zM829 0h8v1h-8zM864 0h2v1h-2zM896 0h3v1h-3z"/><path fill="#F9D3BD" d="M43 0h5v1h-5zM76 0h5v1h-5zM103 0h3v1h-3zM148 0h9v1h-9zM164 0h17v1h-17zM221 0h7v1h-7zM236 0h4v1h-4zM278 0h7v1h-7zM300 0h8v1h-8zM379 0h2v1h-2zM414 0h3v1h-3zM452 0h2v1h-2zM460 0h4v1h-4zM489 0h2v1h-2zM494 0h5v1h-5zM541 0h3v1h-3zM573 0h4v1h-4zM592 0h9v1h-9zM674 0h5v1h-5zM714 0h9v1h-9zM779 0h6v1h-6zM813 0h9v1h-9zM866 0h4v1h-4zM887 0h6v1h-6zM907 0h12v1h-12z"/></g><rect x="410.7" y="526.40" width="88.3" height="12.50" fill="#DCEBF4"/><g transform="translate(410.7 526.40) scale(0.2 12.50)"><path fill="#FCE9DF" d="M0 0h6v1h-6zM90 0h2v1h-2zM113 0h7v1h-7zM132 0h3v1h-3zM179 0h6v1h-6zM250 0h16v1h-16z"/><path fill="#CC6474" d="M6 0h5v1h-5zM41 0h2v1h-2zM65 0h3v1h-3zM171 0h3v1h-3zM184 0h2v1h-2zM194 0h15v1h-15zM275 0h3v1h-3zM283 0h6v1h-6zM332 0h33v1h-33zM411 0h17v1h-17z"/><path fill="#E2AEBB" d="M20 0h5v1h-5zM32 0h9v1h-9zM53 0h4v1h-4zM129 0h3v1h-3zM226 0h4v1h-4zM248 0h3v1h-3z"/><path fill="#F6F9FB" d="M43 0h5v1h-5zM92 0h3v1h-3zM99 0h7v1h-7zM145 0h3v1h-3zM186 0h7v1h-7zM233 0h6v1h-6zM376 0h6v1h-6zM428 0h8v1h-8z"/><path fill="#F19A66" d="M49 0h4v1h-4zM68 0h15v1h-15zM95 0h4v1h-4zM148 0h6v1h-6zM163 0h3v1h-3zM209 0h17v1h-17zM266 0h4v1h-4zM279 0h4v1h-4zM302 0h9v1h-9zM323 0h4v1h-4zM373 0h3v1h-3zM387 0h7v1h-7zM439 0h2v1h-2z"/><path fill="#DC6140" d="M82 0h8v1h-8zM106 0h7v1h-7zM138 0h7v1h-7zM161 0h2v1h-2z"/><path fill="#F6BA98" d="M316 0h7v1h-7zM365 0h8v1h-8z"/></g><rect x="47.3" y="538.90" width="69.5" height="12.50" fill="#F7F9FC"/><g transform="translate(47.3 538.90) scale(0.2 12.50)"><path fill="#CC6474" d="M268 0h4v1h-4z"/></g><rect x="118.0" y="538.90" width="104.5" height="12.50" fill="#F7F9FC"/><g transform="translate(118.0 538.90) scale(0.2 12.50)"><path fill="#CC6474" d="M487 0h3v1h-3zM42 0h6v1h-6z"/></g><rect x="224.0" y="538.90" width="185.6" height="12.50" fill="#F7F9FC"/><rect x="410.7" y="538.90" width="88.3" height="12.50" fill="#F7F9FC"/><rect x="47.3" y="551.40" width="69.5" height="12.50" fill="#C4DDED"/><g transform="translate(47.3 551.40) scale(0.2 12.50)"><path fill="#DCEBF4" d="M0 0h5v1h-5zM17 0h18v1h-18zM72 0h12v1h-12zM94 0h4v1h-4zM107 0h9v1h-9zM125 0h5v1h-5zM134 0h19v1h-19zM164 0h9v1h-9zM253 0h3v1h-3zM296 0h8v1h-8zM319 0h6v1h-6zM346 0h1v1h-1z"/><path fill="#A0C9E2" d="M5 0h8v1h-8zM41 0h13v1h-13zM61 0h8v1h-8zM98 0h4v1h-4zM105 0h2v1h-2zM116 0h9v1h-9zM130 0h4v1h-4zM182 0h7v1h-7zM195 0h6v1h-6zM206 0h5v1h-5zM276 0h9v1h-9zM288 0h8v1h-8zM305 0h8v1h-8zM331 0h8v1h-8z"/><path fill="#F6F9FB" d="M35 0h7v1h-7zM54 0h7v1h-7zM84 0h9v1h-9zM179 0h3v1h-3zM269 0h7v1h-7z"/></g><rect x="118.0" y="551.40" width="104.5" height="12.50" fill="#C4DDED"/><g transform="translate(118.0 551.40) scale(0.2 12.50)"><path fill="#F6F9FB" d="M0 0h6v1h-6zM9 0h9v1h-9zM43 0h8v1h-8zM68 0h3v1h-3zM150 0h4v1h-4zM326 0h4v1h-4zM342 0h5v1h-5zM381 0h10v1h-10zM458 0h5v1h-5zM468 0h4v1h-4zM520 0h3v1h-3z"/><path fill="#FCE9DF" d="M6 0h3v1h-3zM31 0h5v1h-5zM126 0h3v1h-3zM138 0h7v1h-7zM233 0h2v1h-2zM453 0h2v1h-2z"/><path fill="#DCEBF4" d="M27 0h4v1h-4zM36 0h7v1h-7zM51 0h5v1h-5zM71 0h7v1h-7zM86 0h14v1h-14zM109 0h6v1h-6zM156 0h12v1h-12zM211 0h8v1h-8zM221 0h3v1h-3zM241 0h7v1h-7zM271 0h14v1h-14zM293 0h20v1h-20zM335 0h7v1h-7zM362 0h16v1h-16zM394 0h6v1h-6zM419 0h3v1h-3zM426 0h8v1h-8zM451 0h2v1h-2zM456 0h3v1h-3zM463 0h3v1h-3zM510 0h6v1h-6z"/><path fill="#A0C9E2" d="M100 0h2v1h-2zM177 0h9v1h-9zM192 0h5v1h-5zM205 0h6v1h-6zM249 0h8v1h-8zM264 0h8v1h-8zM285 0h8v1h-8zM333 0h2v1h-2zM354 0h8v1h-8zM391 0h3v1h-3zM473 0h16v1h-16z"/></g><rect x="224.0" y="551.40" width="185.6" height="12.50" fill="#FCE9DF"/><g transform="translate(224.0 551.40) scale(0.2 12.50)"><path fill="#F6BA98" d="M0 0h8v1h-8zM33 0h15v1h-15zM51 0h19v1h-19zM99 0h3v1h-3zM120 0h9v1h-9zM141 0h7v1h-7zM292 0h15v1h-15zM408 0h7v1h-7zM438 0h6v1h-6zM475 0h5v1h-5zM516 0h3v1h-3zM532 0h9v1h-9zM556 0h15v1h-15zM579 0h4v1h-4zM605 0h12v1h-12zM632 0h5v1h-5zM768 0h8v1h-8zM804 0h8v1h-8zM815 0h4v1h-4zM823 0h6v1h-6zM842 0h11v1h-11zM881 0h6v1h-6zM893 0h6v1h-6zM912 0h6v1h-6z"/><path fill="#DCEBF4" d="M8 0h14v1h-14zM70 0h4v1h-4zM134 0h7v1h-7zM226 0h8v1h-8zM242 0h2v1h-2zM311 0h7v1h-7zM326 0h5v1h-5zM339 0h5v1h-5zM371 0h11v1h-11zM390 0h7v1h-7zM445 0h4v1h-4zM451 0h9v1h-9zM497 0h4v1h-4zM508 0h8v1h-8zM586 0h8v1h-8zM616 0h8v1h-8zM665 0h3v1h-3zM699 0h17v1h-17zM750 0h6v1h-6zM784 0h6v1h-6zM862 0h7v1h-7z"/><path fill="#C4DDED" d="M22 0h3v1h-3zM109 0h11v1h-11zM148 0h17v1h-17zM193 0h3v1h-3zM239 0h3v1h-3zM306 0h4v1h-4zM415 0h6v1h-6zM426 0h6v1h-6zM541 0h7v1h-7zM583 0h3v1h-3zM594 0h4v1h-4zM725 0h7v1h-7zM853 0h9v1h-9zM875 0h6v1h-6z"/><path fill="#F6F9FB" d="M48 0h3v1h-3zM92 0h7v1h-7zM165 0h9v1h-9zM220 0h7v1h-7zM257 0h2v1h-2zM282 0h5v1h-5zM345 0h3v1h-3zM365 0h6v1h-6zM492 0h5v1h-5zM598 0h7v1h-7zM640 0h3v1h-3zM755 0h13v1h-13z"/><path fill="#F9D3BD" d="M75 0h10v1h-10zM102 0h4v1h-4zM182 0h4v1h-4zM318 0h8v1h-8zM331 0h8v1h-8zM351 0h7v1h-7zM382 0h8v1h-8zM403 0h4v1h-4zM468 0h7v1h-7zM571 0h8v1h-8zM654 0h7v1h-7zM675 0h9v1h-9zM694 0h5v1h-5zM732 0h6v1h-6zM781 0h2v1h-2zM798 0h6v1h-6zM923 0h5v1h-5z"/><path fill="#C8DCE6" d="M106 0h3v1h-3zM129 0h5v1h-5zM187 0h5v1h-5zM211 0h8v1h-8zM245 0h10v1h-10zM259 0h8v1h-8zM396 0h7v1h-7zM421 0h6v1h-6zM432 0h6v1h-6zM460 0h8v1h-8zM483 0h3v1h-3zM519 0h7v1h-7zM624 0h8v1h-8zM722 0h3v1h-3zM789 0h9v1h-9zM834 0h8v1h-8zM900 0h13v1h-13z"/></g><rect x="410.7" y="551.40" width="88.3" height="12.50" fill="#DC6140"/><g transform="translate(410.7 551.40) scale(0.2 12.50)"><path fill="#B2182B" d="M0 0h5v1h-5zM141 0h8v1h-8zM193 0h9v1h-9zM262 0h6v1h-6zM324 0h8v1h-8zM343 0h7v1h-7zM359 0h17v1h-17z"/><path fill="#EC8040" d="M5 0h5v1h-5zM29 0h3v1h-3zM47 0h9v1h-9zM65 0h7v1h-7zM78 0h3v1h-3zM101 0h2v1h-2zM130 0h6v1h-6zM186 0h6v1h-6zM225 0h3v1h-3zM287 0h3v1h-3zM296 0h7v1h-7zM315 0h8v1h-8zM426 0h9v1h-9z"/><path fill="#F9D3BD" d="M10 0h12v1h-12zM107 0h3v1h-3zM401 0h9v1h-9z"/><path fill="#CC6474" d="M22 0h7v1h-7zM85 0h6v1h-6zM98 0h4v1h-4zM162 0h3v1h-3zM174 0h8v1h-8zM205 0h7v1h-7zM258 0h4v1h-4zM341 0h2v1h-2zM382 0h4v1h-4zM396 0h3v1h-3zM415 0h3v1h-3z"/><path fill="#C43A33" d="M32 0h3v1h-3zM41 0h6v1h-6zM72 0h6v1h-6zM110 0h4v1h-4zM151 0h6v1h-6zM245 0h8v1h-8zM283 0h4v1h-4z"/><path fill="#F19A66" d="M35 0h6v1h-6zM56 0h9v1h-9zM136 0h4v1h-4zM157 0h5v1h-5zM182 0h4v1h-4zM212 0h3v1h-3zM222 0h4v1h-4zM268 0h11v1h-11zM312 0h4v1h-4zM389 0h7v1h-7z"/><path fill="#C4DDED" d="M121 0h9v1h-9zM166 0h4v1h-4zM375 0h7v1h-7zM399 0h2v1h-2z"/></g><rect x="47.3" y="563.90" width="69.5" height="12.50" fill="#F0F5F9"/><g transform="translate(47.3 563.90) scale(0.2 12.50)"><path fill="#F6BA98" d="M319 0h3v1h-3z"/></g><rect x="118.0" y="563.90" width="104.5" height="12.50" fill="#F0F5F9"/><g transform="translate(118.0 563.90) scale(0.2 12.50)"><path fill="#CC6474" d="M110 0h3v1h-3zM422 0h4v1h-4zM112 0h4v1h-4z"/></g><rect x="224.0" y="563.90" width="185.6" height="12.50" fill="#F0F5F9"/><g transform="translate(224.0 563.90) scale(0.2 12.50)"><path fill="#CC6474" d="M829 0h6v1h-6zM405 0h6v1h-6zM307 0h4v1h-4zM493 0h3v1h-3zM417 0h5v1h-5zM374 0h5v1h-5z"/></g><rect x="410.7" y="563.90" width="88.3" height="12.50" fill="#F0F5F9"/><g transform="translate(410.7 563.90) scale(0.2 12.50)"><path fill="#CC6474" d="M268 0h5v1h-5zM194 0h5v1h-5zM276 0h5v1h-5zM65 0h5v1h-5zM339 0h6v1h-6zM146 0h3v1h-3zM57 0h5v1h-5zM276 0h6v1h-6zM86 0h6v1h-6zM263 0h3v1h-3zM19 0h6v1h-6zM356 0h6v1h-6z"/></g><rect x="47.3" y="576.40" width="69.5" height="12.50" fill="#EEF4F8"/><rect x="118.0" y="576.40" width="104.5" height="12.50" fill="#EEF4F8"/><g transform="translate(118.0 576.40) scale(0.2 12.50)"><path fill="#F6BA98" d="M468 0h3v1h-3z"/></g><rect x="224.0" y="576.40" width="185.6" height="12.50" fill="#EEF4F8"/><g transform="translate(224.0 576.40) scale(0.2 12.50)"><path fill="#F6BA98" d="M890 0h4v1h-4zM737 0h3v1h-3zM189 0h3v1h-3z"/></g><rect x="410.7" y="576.40" width="88.3" height="12.50" fill="#EEF2F5"/><g transform="translate(410.7 576.40) scale(0.2 12.50)"><path fill="#CC6474" d="M364 0h6v1h-6zM277 0h6v1h-6zM16 0h5v1h-5zM319 0h3v1h-3zM316 0h4v1h-4zM273 0h3v1h-3zM204 0h3v1h-3zM355 0h5v1h-5zM330 0h5v1h-5zM352 0h4v1h-4zM160 0h4v1h-4zM435 0h4v1h-4zM268 0h3v1h-3zM364 0h6v1h-6zM176 0h3v1h-3zM231 0h3v1h-3z"/><path fill="#E2AEBB" d="M174 0h13v1h-13zM81 0h14v1h-14zM329 0h8v1h-8zM332 0h13v1h-13zM103 0h8v1h-8z"/></g><rect x="47.3" y="588.90" width="69.5" height="12.50" fill="#F6F9FB"/><g transform="translate(47.3 588.90) scale(0.2 12.50)"><path fill="#F6BA98" d="M22 0h15v1h-15zM114 0h6v1h-6zM145 0h2v1h-2zM188 0h3v1h-3zM228 0h7v1h-7zM248 0h5v1h-5zM275 0h4v1h-4zM337 0h7v1h-7z"/><path fill="#FCE9DF" d="M37 0h8v1h-8zM90 0h7v1h-7zM105 0h9v1h-9zM120 0h3v1h-3zM177 0h12v1h-12zM225 0h3v1h-3zM237 0h11v1h-11zM252 0h12v1h-12zM322 0h6v1h-6zM334 0h3v1h-3zM344 0h3v1h-3z"/><path fill="#F9D3BD" d="M58 0h2v1h-2zM97 0h6v1h-6zM191 0h7v1h-7zM279 0h9v1h-9z"/><path fill="#DCEBF4" d="M79 0h5v1h-5zM134 0h4v1h-4zM148 0h6v1h-6zM219 0h6v1h-6zM316 0h6v1h-6zM347 0h1v1h-1z"/><path fill="#CC6474" d="M138 0h7v1h-7zM264 0h8v1h-8z"/></g><rect x="118.0" y="588.90" width="104.5" height="12.50" fill="#F6F9FB"/><g transform="translate(118.0 588.90) scale(0.2 12.50)"><path fill="#FCE9DF" d="M6 0h5v1h-5zM29 0h8v1h-8zM116 0h8v1h-8zM223 0h22v1h-22zM280 0h4v1h-4zM398 0h3v1h-3zM409 0h4v1h-4zM425 0h3v1h-3zM436 0h6v1h-6zM447 0h6v1h-6zM467 0h2v1h-2zM489 0h4v1h-4zM508 0h8v1h-8z"/><path fill="#DCEBF4" d="M18 0h4v1h-4zM65 0h2v1h-2zM83 0h7v1h-7zM95 0h4v1h-4zM147 0h11v1h-11zM167 0h7v1h-7zM218 0h2v1h-2zM253 0h4v1h-4zM330 0h6v1h-6zM356 0h4v1h-4zM374 0h2v1h-2zM413 0h6v1h-6z"/><path fill="#F6BA98" d="M59 0h6v1h-6zM124 0h8v1h-8zM271 0h2v1h-2zM298 0h8v1h-8zM315 0h15v1h-15zM360 0h4v1h-4zM383 0h15v1h-15zM423 0h2v1h-2zM454 0h9v1h-9zM469 0h8v1h-8zM493 0h15v1h-15z"/><path fill="#CC6474" d="M90 0h5v1h-5zM131 0h3v1h-3zM143 0h4v1h-4zM174 0h4v1h-4zM211 0h7v1h-7zM377 0h6v1h-6zM442 0h5v1h-5zM477 0h12v1h-12z"/></g><rect x="224.0" y="588.90" width="185.6" height="12.50" fill="#F6F9FB"/><g transform="translate(224.0 588.90) scale(0.2 12.50)"><path fill="#F6BA98" d="M0 0h4v1h-4zM53 0h5v1h-5zM68 0h15v1h-15zM88 0h5v1h-5zM161 0h7v1h-7zM181 0h7v1h-7zM264 0h14v1h-14zM392 0h4v1h-4zM468 0h6v1h-6zM556 0h8v1h-8zM599 0h5v1h-5zM682 0h6v1h-6zM830 0h7v1h-7zM857 0h7v1h-7zM867 0h8v1h-8z"/><path fill="#DCEBF4" d="M4 0h8v1h-8zM34 0h9v1h-9zM49 0h4v1h-4zM114 0h7v1h-7zM137 0h2v1h-2zM197 0h12v1h-12zM250 0h7v1h-7zM286 0h6v1h-6zM306 0h6v1h-6zM323 0h6v1h-6zM406 0h4v1h-4zM426 0h8v1h-8zM450 0h3v1h-3zM474 0h8v1h-8zM517 0h6v1h-6zM549 0h5v1h-5zM573 0h8v1h-8zM604 0h7v1h-7zM620 0h7v1h-7zM636 0h3v1h-3zM666 0h11v1h-11zM694 0h4v1h-4zM718 0h11v1h-11zM732 0h5v1h-5zM769 0h9v1h-9zM794 0h7v1h-7zM821 0h5v1h-5zM864 0h2v1h-2zM898 0h7v1h-7zM913 0h15v1h-15z"/><path fill="#E2AEBB" d="M28 0h6v1h-6zM92 0h6v1h-6zM132 0h5v1h-5zM154 0h4v1h-4zM312 0h11v1h-11zM502 0h8v1h-8zM632 0h5v1h-5zM808 0h7v1h-7z"/><path fill="#CC6474" d="M43 0h6v1h-6zM124 0h5v1h-5zM149 0h5v1h-5zM158 0h3v1h-3zM211 0h7v1h-7zM231 0h15v1h-15zM277 0h6v1h-6zM329 0h4v1h-4zM349 0h6v1h-6zM417 0h9v1h-9zM497 0h4v1h-4zM523 0h8v1h-8zM648 0h6v1h-6zM688 0h6v1h-6zM761 0h5v1h-5zM778 0h3v1h-3zM787 0h7v1h-7zM837 0h6v1h-6zM928 0h1v1h-1z"/><path fill="#FCE9DF" d="M106 0h8v1h-8zM121 0h3v1h-3zM144 0h4v1h-4zM175 0h6v1h-6zM209 0h2v1h-2zM300 0h6v1h-6zM344 0h5v1h-5zM364 0h7v1h-7zM374 0h2v1h-2zM438 0h3v1h-3zM460 0h8v1h-8zM482 0h5v1h-5zM541 0h8v1h-8zM554 0h2v1h-2zM594 0h5v1h-5zM705 0h8v1h-8zM745 0h5v1h-5zM766 0h4v1h-4zM781 0h6v1h-6zM815 0h6v1h-6zM892 0h6v1h-6z"/></g><rect x="410.7" y="588.90" width="88.3" height="12.50" fill="#E3EDF4"/><g transform="translate(410.7 588.90) scale(0.2 12.50)"><path fill="#CC6474" d="M136 0h6v1h-6zM401 0h3v1h-3zM292 0h5v1h-5zM47 0h4v1h-4zM43 0h4v1h-4z"/><path fill="#F6BA98" d="M383 0h6v1h-6z"/></g><rect x="47.3" y="601.40" width="69.5" height="12.50" fill="#F6F9FB"/><g transform="translate(47.3 601.40) scale(0.2 12.50)"><path fill="#F9D3BD" d="M0 0h12v1h-12zM20 0h7v1h-7zM64 0h5v1h-5zM95 0h7v1h-7zM134 0h4v1h-4zM295 0h7v1h-7z"/><path fill="#FCE9DF" d="M26 0h7v1h-7zM35 0h3v1h-3zM55 0h9v1h-9zM68 0h7v1h-7zM84 0h8v1h-8zM154 0h4v1h-4zM175 0h6v1h-6zM188 0h7v1h-7zM202 0h7v1h-7zM230 0h3v1h-3zM239 0h12v1h-12zM254 0h9v1h-9zM291 0h4v1h-4zM317 0h3v1h-3zM323 0h8v1h-8z"/><path fill="#F6BA98" d="M33 0h2v1h-2zM76 0h8v1h-8zM118 0h7v1h-7zM150 0h5v1h-5zM159 0h6v1h-6zM173 0h3v1h-3zM209 0h4v1h-4zM233 0h7v1h-7zM332 0h2v1h-2zM338 0h9v1h-9z"/><path fill="#DCEBF4" d="M102 0h8v1h-8zM273 0h9v1h-9zM286 0h5v1h-5z"/></g><rect x="118.0" y="601.40" width="104.5" height="12.50" fill="#F2F5F8"/><g transform="translate(118.0 601.40) scale(0.2 12.50)"><path fill="#CC6474" d="M517 0h3v1h-3zM123 0h4v1h-4zM107 0h3v1h-3zM434 0h4v1h-4z"/><path fill="#F6BA98" d="M207 0h3v1h-3zM120 0h6v1h-6zM317 0h3v1h-3zM222 0h6v1h-6z"/></g><rect x="224.0" y="601.40" width="185.6" height="12.50" fill="#F2F5F8"/><g transform="translate(224.0 601.40) scale(0.2 12.50)"><path fill="#CC6474" d="M60 0h4v1h-4zM578 0h5v1h-5zM634 0h4v1h-4zM333 0h6v1h-6zM365 0h4v1h-4zM806 0h4v1h-4zM102 0h4v1h-4zM589 0h5v1h-5z"/><path fill="#F6BA98" d="M745 0h5v1h-5zM63 0h3v1h-3zM701 0h5v1h-5zM413 0h3v1h-3zM386 0h4v1h-4zM481 0h4v1h-4zM568 0h5v1h-5zM543 0h5v1h-5z"/></g><rect x="410.7" y="601.40" width="88.3" height="12.50" fill="#F2F5F8"/><g transform="translate(410.7 601.40) scale(0.2 12.50)"><path fill="#CC6474" d="M423 0h6v1h-6zM75 0h4v1h-4zM34 0h3v1h-3zM45 0h5v1h-5zM18 0h6v1h-6zM267 0h6v1h-6zM137 0h6v1h-6zM227 0h6v1h-6zM425 0h6v1h-6zM221 0h4v1h-4z"/></g><rect x="47.3" y="613.90" width="69.5" height="12.50" fill="#DCEBF4"/><g transform="translate(47.3 613.90) scale(0.2 12.50)"><path fill="#F6F9FB" d="M0 0h9v1h-9zM50 0h5v1h-5zM92 0h9v1h-9zM108 0h7v1h-7zM123 0h2v1h-2zM144 0h6v1h-6zM181 0h4v1h-4zM199 0h4v1h-4zM215 0h3v1h-3zM230 0h6v1h-6zM238 0h5v1h-5zM250 0h5v1h-5zM260 0h19v1h-19z"/><path fill="#F6BA98" d="M9 0h8v1h-8zM55 0h7v1h-7zM64 0h7v1h-7zM75 0h14v1h-14zM150 0h6v1h-6zM161 0h3v1h-3zM185 0h9v1h-9zM203 0h12v1h-12zM227 0h3v1h-3zM288 0h9v1h-9zM305 0h4v1h-4zM318 0h8v1h-8z"/><path fill="#FCE9DF" d="M20 0h14v1h-14zM38 0h4v1h-4zM89 0h4v1h-4zM115 0h7v1h-7zM132 0h6v1h-6zM175 0h6v1h-6zM218 0h3v1h-3zM236 0h3v1h-3zM256 0h4v1h-4zM284 0h3v1h-3zM297 0h8v1h-8zM314 0h3v1h-3zM338 0h9v1h-9z"/><path fill="#C4DDED" d="M34 0h4v1h-4zM43 0h4v1h-4zM101 0h7v1h-7zM138 0h6v1h-6zM156 0h5v1h-5zM244 0h7v1h-7zM309 0h5v1h-5zM326 0h12v1h-12zM347 0h1v1h-1z"/></g><rect x="118.0" y="613.90" width="104.5" height="12.50" fill="#DCEBF4"/><g transform="translate(118.0 613.90) scale(0.2 12.50)"><path fill="#F6BA98" d="M0 0h9v1h-9zM14 0h5v1h-5zM42 0h7v1h-7zM123 0h8v1h-8zM137 0h12v1h-12zM164 0h11v1h-11zM184 0h7v1h-7zM210 0h7v1h-7zM224 0h8v1h-8zM258 0h6v1h-6zM325 0h3v1h-3zM336 0h20v1h-20zM396 0h5v1h-5zM406 0h7v1h-7zM450 0h7v1h-7zM475 0h2v1h-2z"/><path fill="#FCE9DF" d="M19 0h7v1h-7zM49 0h5v1h-5zM59 0h12v1h-12zM98 0h5v1h-5zM117 0h5v1h-5zM174 0h7v1h-7zM205 0h5v1h-5zM217 0h7v1h-7zM309 0h10v1h-10zM328 0h8v1h-8zM393 0h3v1h-3zM439 0h11v1h-11zM471 0h4v1h-4zM487 0h7v1h-7zM506 0h9v1h-9zM519 0h3v1h-3z"/><path fill="#F6F9FB" d="M27 0h5v1h-5zM35 0h6v1h-6zM78 0h11v1h-11zM152 0h8v1h-8zM191 0h8v1h-8zM246 0h4v1h-4zM264 0h4v1h-4zM272 0h3v1h-3zM285 0h10v1h-10zM301 0h4v1h-4zM382 0h9v1h-9zM401 0h5v1h-5zM462 0h3v1h-3z"/><path fill="#C4DDED" d="M31 0h4v1h-4zM131 0h6v1h-6zM149 0h4v1h-4zM181 0h3v1h-3zM268 0h4v1h-4zM421 0h14v1h-14zM502 0h4v1h-4zM515 0h4v1h-4z"/><path fill="#CC6474" d="M160 0h4v1h-4zM360 0h8v1h-8zM413 0h8v1h-8z"/></g><rect x="224.0" y="613.90" width="185.6" height="12.50" fill="#FCE9DF"/><g transform="translate(224.0 613.90) scale(0.2 12.50)"><path fill="#F9D3BD" d="M0 0h9v1h-9zM60 0h7v1h-7zM80 0h8v1h-8zM101 0h12v1h-12zM144 0h7v1h-7zM219 0h6v1h-6zM259 0h4v1h-4zM309 0h5v1h-5zM393 0h2v1h-2zM443 0h6v1h-6zM468 0h2v1h-2zM504 0h4v1h-4zM517 0h5v1h-5zM670 0h4v1h-4zM712 0h5v1h-5zM755 0h7v1h-7zM836 0h2v1h-2zM874 0h3v1h-3zM919 0h8v1h-8z"/><path fill="#CC6474" d="M12 0h8v1h-8zM88 0h6v1h-6zM119 0h7v1h-7zM133 0h9v1h-9zM151 0h4v1h-4zM180 0h6v1h-6zM193 0h7v1h-7zM214 0h5v1h-5zM271 0h6v1h-6zM342 0h14v1h-14zM366 0h4v1h-4zM384 0h6v1h-6zM426 0h13v1h-13zM448 0h5v1h-5zM500 0h4v1h-4zM530 0h4v1h-4zM537 0h7v1h-7zM555 0h10v1h-10zM613 0h8v1h-8zM684 0h3v1h-3zM771 0h7v1h-7zM846 0h6v1h-6zM868 0h6v1h-6zM878 0h7v1h-7z"/><path fill="#DCEBF4" d="M20 0h7v1h-7zM113 0h6v1h-6zM169 0h6v1h-6zM190 0h3v1h-3zM226 0h6v1h-6zM251 0h8v1h-8zM263 0h2v1h-2zM277 0h9v1h-9zM293 0h4v1h-4zM334 0h8v1h-8zM422 0h4v1h-4zM460 0h7v1h-7zM526 0h4v1h-4zM544 0h11v1h-11zM565 0h6v1h-6zM585 0h3v1h-3zM595 0h7v1h-7zM608 0h5v1h-5zM699 0h13v1h-13zM762 0h9v1h-9zM833 0h3v1h-3zM859 0h9v1h-9zM899 0h4v1h-4zM906 0h9v1h-9zM926 0h2v1h-2z"/><path fill="#F6F9FB" d="M27 0h5v1h-5zM71 0h9v1h-9zM96 0h5v1h-5zM232 0h3v1h-3zM245 0h7v1h-7zM314 0h3v1h-3zM571 0h6v1h-6zM736 0h5v1h-5zM777 0h6v1h-6zM800 0h3v1h-3zM821 0h6v1h-6z"/><path fill="#F6BA98" d="M67 0h4v1h-4zM94 0h2v1h-2zM141 0h3v1h-3zM155 0h5v1h-5zM163 0h6v1h-6zM175 0h5v1h-5zM200 0h5v1h-5zM286 0h7v1h-7zM296 0h6v1h-6zM317 0h3v1h-3zM370 0h14v1h-14zM396 0h10v1h-10zM454 0h7v1h-7zM470 0h21v1h-21zM602 0h6v1h-6zM625 0h5v1h-5zM667 0h3v1h-3zM680 0h4v1h-4zM687 0h7v1h-7zM721 0h4v1h-4zM748 0h7v1h-7zM811 0h7v1h-7zM885 0h4v1h-4zM903 0h3v1h-3z"/></g><rect x="410.7" y="613.90" width="88.3" height="12.50" fill="#DCE9F2"/><g transform="translate(410.7 613.90) scale(0.2 12.50)"><path fill="#CC6474" d="M35 0h4v1h-4zM304 0h3v1h-3zM329 0h3v1h-3zM264 0h4v1h-4z"/><path fill="#F6BA98" d="M197 0h6v1h-6z"/></g><rect x="47.3" y="626.40" width="69.5" height="12.50" fill="#F8FAFC"/><g transform="translate(47.3 626.40) scale(0.2 12.50)"><path fill="#F6BA98" d="M120 0h6v1h-6z"/></g><rect x="118.0" y="626.40" width="104.5" height="12.50" fill="#F8FAFC"/><g transform="translate(118.0 626.40) scale(0.2 12.50)"><path fill="#CC6474" d="M52 0h5v1h-5z"/></g><rect x="224.0" y="626.40" width="185.6" height="12.50" fill="#F8FAFC"/><rect x="410.7" y="626.40" width="88.3" height="12.50" fill="#F8FAFC"/><g transform="translate(410.7 626.40) scale(0.2 12.50)"><path fill="#CC6474" d="M355 0h6v1h-6z"/></g><rect x="47.3" y="638.90" width="69.5" height="12.50" fill="#F6F9FB"/><g transform="translate(47.3 638.90) scale(0.2 12.50)"><path fill="#E2AEBB" d="M26 0h5v1h-5zM39 0h6v1h-6zM58 0h2v1h-2zM67 0h13v1h-13zM94 0h8v1h-8zM104 0h8v1h-8zM153 0h8v1h-8zM170 0h4v1h-4zM195 0h4v1h-4zM217 0h5v1h-5zM228 0h8v1h-8zM297 0h3v1h-3z"/><path fill="#FCE9DF" d="M49 0h4v1h-4zM80 0h7v1h-7zM249 0h9v1h-9z"/></g><rect x="118.0" y="638.90" width="104.5" height="12.50" fill="#F3F7FA"/><g transform="translate(118.0 638.90) scale(0.2 12.50)"><path fill="#CC6474" d="M498 0h3v1h-3z"/></g><rect x="224.0" y="638.90" width="185.6" height="12.50" fill="#F3F7FA"/><g transform="translate(224.0 638.90) scale(0.2 12.50)"><path fill="#CC6474" d="M29 0h5v1h-5zM47 0h4v1h-4z"/></g><rect x="410.7" y="638.90" width="88.3" height="12.50" fill="#F3F7FA"/><g transform="translate(410.7 638.90) scale(0.2 12.50)"><path fill="#CC6474" d="M290 0h5v1h-5z"/></g><rect x="116.85" y="413.90" width="1.1" height="237.50" fill="#6E6E6E"/><rect x="222.70" y="413.90" width="1.1" height="237.50" fill="#6E6E6E"/><rect x="409.60" y="413.90" width="1.1" height="237.50" fill="#6E6E6E"/><rect x="499.00" y="413.90" width="1.0" height="237.50" fill="#6E6E6E"/><text x="45.2" y="423.65" font-size="10.6" font-style="italic" text-anchor="end" fill="#3A3A3A">Bad</text><text x="45.2" y="436.15" font-size="10.6" font-style="italic" text-anchor="end" fill="#3A3A3A">Bax</text><text x="45.2" y="448.65" font-size="10.6" font-style="italic" text-anchor="end" fill="#3A3A3A">Bak1</text><text x="45.2" y="461.15" font-size="10.6" font-style="italic" text-anchor="end" fill="#3A3A3A">Casp2</text><text x="45.2" y="473.65" font-size="10.6" font-style="italic" text-anchor="end" fill="#3A3A3A">Casp3</text><text x="45.2" y="486.15" font-size="10.6" font-style="italic" text-anchor="end" fill="#3A3A3A">Casp7</text><text x="45.2" y="498.65" font-size="10.6" font-style="italic" text-anchor="end" fill="#3A3A3A">Casp8</text><text x="45.2" y="511.15" font-size="10.6" font-style="italic" text-anchor="end" fill="#3A3A3A">Casp9</text><text x="45.2" y="523.65" font-size="10.6" font-style="italic" text-anchor="end" fill="#3A3A3A">Casp12</text><text x="45.2" y="536.15" font-size="10.6" font-style="italic" text-anchor="end" fill="#3A3A3A">Fas</text><text x="45.2" y="548.65" font-size="10.6" font-style="italic" text-anchor="end" fill="#3A3A3A">Tnfsf10</text><text x="45.2" y="561.15" font-size="10.6" font-style="italic" text-anchor="end" fill="#3A3A3A">Tnfrsf1a</text><text x="45.2" y="573.65" font-size="10.6" font-style="italic" text-anchor="end" fill="#3A3A3A">Bbc3</text><text x="45.2" y="586.15" font-size="10.6" font-style="italic" text-anchor="end" fill="#3A3A3A">Pmaip1</text><text x="45.2" y="598.65" font-size="10.6" font-style="italic" text-anchor="end" fill="#3A3A3A">Diablo</text><text x="45.2" y="611.15" font-size="10.6" font-style="italic" text-anchor="end" fill="#3A3A3A">Bcl2l11</text><text x="45.2" y="623.65" font-size="10.6" font-style="italic" text-anchor="end" fill="#3A3A3A">Apaf1</text><text x="45.2" y="636.15" font-size="10.6" font-style="italic" text-anchor="end" fill="#3A3A3A">Endog</text><text x="45.2" y="648.65" font-size="10.6" font-style="italic" text-anchor="end" fill="#3A3A3A">Pidd1</text><circle cx="19.9" cy="420.15" r="1.9" fill="#111"/><polygon points="19.20,430.05 20.04,431.49 21.67,431.85 20.56,433.09 20.73,434.75 19.20,434.08 17.67,434.75 17.84,433.09 16.73,431.85 18.36,431.49" fill="#111"/><circle cx="15.8" cy="445.15" r="1.9" fill="#111"/><circle cx="8.9" cy="457.65" r="1.9" fill="#111"/><polygon points="8.90,467.55 9.74,468.99 11.37,469.35 10.26,470.59 10.43,472.25 8.90,471.58 7.37,472.25 7.54,470.59 6.43,469.35 8.06,468.99" fill="#111"/><polygon points="9.60,480.05 10.44,481.49 12.07,481.85 10.96,483.09 11.13,484.75 9.60,484.08 8.07,484.75 8.24,483.09 7.13,481.85 8.76,481.49" fill="#111"/><polygon points="9.60,492.55 10.44,493.99 12.07,494.35 10.96,495.59 11.13,497.25 9.60,496.58 8.07,497.25 8.24,495.59 7.13,494.35 8.76,493.99" fill="#111"/><circle cx="9.6" cy="507.65" r="1.9" fill="#111"/><polygon points="3.40,517.55 4.24,518.99 5.87,519.35 4.76,520.59 4.93,522.25 3.40,521.58 1.87,522.25 2.04,520.59 0.93,519.35 2.56,518.99" fill="#111"/><polygon points="15.50,567.55 16.34,568.99 17.97,569.35 16.86,570.59 17.03,572.25 15.50,571.58 13.97,572.25 14.14,570.59 13.03,569.35 14.66,568.99" fill="#111"/><circle cx="5.6" cy="607.65" r="1.9" fill="#111"/><polygon points="8.80,642.55 9.64,643.99 11.27,644.35 10.16,645.59 10.33,647.25 8.80,646.58 7.27,647.25 7.44,645.59 6.33,644.35 7.96,643.99" fill="#111"/><path d="M511 21.2H677V191.1M511 191.1H677V362.7H511Z M511 21.2V362.7" fill="none" stroke="#1A1A1A" stroke-width="1.6"/><rect x="511.3" y="370.2" width="166.6" height="168.6" fill="none" stroke="#1A1A1A" stroke-width="1.6"/><text x="516.6" y="42.0" font-size="15.7" font-weight="bold" fill="#000">Anti–Apoptosis</text><text x="656.3" y="39.4" font-size="16.5" font-weight="bold" fill="#000">b</text><line x1="542.6" y1="52.4" x2="542.6" y2="180.3" stroke="#333" stroke-width="0.8"/><line x1="542.2" y1="180.3" x2="606.8" y2="180.3" stroke="#333" stroke-width="0.8"/><line x1="539.1" y1="94.30000000000001" x2="542.6" y2="94.30000000000001" stroke="#333" stroke-width="0.8"/><text x="536.6" y="98.65" font-size="12" text-anchor="end" fill="#222">1.0</text><line x1="539.1" y1="137.3" x2="542.6" y2="137.3" stroke="#333" stroke-width="0.8"/><text x="536.6" y="141.65" font-size="12" text-anchor="end" fill="#222">0.5</text><line x1="539.1" y1="180.3" x2="542.6" y2="180.3" stroke="#333" stroke-width="0.8"/><text x="536.6" y="184.65" font-size="12" text-anchor="end" fill="#222">0.0</text><line x1="574.5" y1="180.3" x2="574.5" y2="183.0" stroke="#333" stroke-width="0.8"/><polygon points="562.80,57.90 562.96,58.77 563.18,59.65 563.44,60.52 563.73,61.40 564.03,62.28 564.33,63.15 564.63,64.03 564.90,64.90 565.15,65.93 565.40,66.95 565.64,67.97 565.88,69.00 566.12,70.03 566.37,71.05 566.63,72.07 566.90,73.10 567.18,73.72 567.47,74.35 567.77,74.97 568.07,75.60 568.38,76.22 568.71,76.85 569.05,77.47 569.40,78.10 569.78,79.14 570.20,80.17 570.64,81.21 571.09,82.25 571.53,83.29 571.95,84.33 572.35,85.36 572.70,86.40 573.03,87.39 573.38,88.38 573.71,89.36 574.01,90.35 574.27,91.34 574.47,92.33 574.58,93.31 574.60,94.30 574.50,95.16 574.29,96.03 573.99,96.89 573.64,97.75 573.25,98.61 572.84,99.47 572.45,100.34 572.10,101.20 571.77,102.04 571.44,102.88 571.11,103.71 570.77,104.55 570.43,105.39 570.09,106.23 569.74,107.06 569.40,107.90 569.05,108.73 568.70,109.55 568.35,110.38 567.99,111.20 567.64,112.03 567.29,112.85 566.94,113.67 566.60,114.50 566.25,115.33 565.89,116.15 565.53,116.97 565.17,117.80 564.83,118.62 564.52,119.45 564.24,120.27 564.00,121.10 563.81,121.92 563.66,122.75 563.54,123.58 563.45,124.40 563.38,125.22 563.32,126.05 563.26,126.88 563.20,127.70 563.14,128.94 563.10,130.18 563.06,131.41 563.03,132.65 563.01,133.89 563.00,135.12 563.00,136.36 563.00,137.60 563.01,138.85 563.03,140.10 563.05,141.35 563.08,142.60 563.12,143.85 563.17,145.10 563.23,146.35 563.30,147.60 563.39,148.42 563.50,149.25 563.63,150.07 563.76,150.90 563.89,151.72 564.02,152.55 564.12,153.38 564.20,154.20 564.26,154.81 564.30,155.42 564.34,156.04 564.36,156.65 564.37,157.26 564.36,157.88 564.34,158.49 564.30,159.10 564.23,159.72 564.13,160.35 564.01,160.97 563.88,161.60 563.74,162.22 563.61,162.85 563.50,163.47 563.40,164.10 563.33,164.92 563.26,165.75 563.21,166.57 563.16,167.40 563.12,168.22 563.08,169.05 563.04,169.88 563.00,170.70 562.96,171.22 562.91,171.75 562.87,172.28 562.82,172.80 562.79,173.32 562.75,173.85 562.72,174.38 562.70,174.90 562.10,174.90 562.08,174.38 562.05,173.85 562.01,173.32 561.98,172.80 561.93,172.28 561.89,171.75 561.84,171.22 561.80,170.70 561.76,169.88 561.72,169.05 561.68,168.22 561.64,167.40 561.59,166.57 561.54,165.75 561.47,164.92 561.40,164.10 561.30,163.47 561.19,162.85 561.06,162.22 560.92,161.60 560.79,160.97 560.67,160.35 560.57,159.72 560.50,159.10 560.46,158.49 560.44,157.88 560.43,157.26 560.44,156.65 560.46,156.04 560.50,155.42 560.54,154.81 560.60,154.20 560.68,153.38 560.78,152.55 560.91,151.72 561.04,150.90 561.17,150.07 561.30,149.25 561.41,148.42 561.50,147.60 561.57,146.35 561.63,145.10 561.68,143.85 561.72,142.60 561.75,141.35 561.77,140.10 561.79,138.85 561.80,137.60 561.80,136.36 561.80,135.12 561.79,133.89 561.77,132.65 561.74,131.41 561.70,130.18 561.66,128.94 561.60,127.70 561.54,126.88 561.48,126.05 561.42,125.22 561.35,124.40 561.26,123.58 561.14,122.75 560.99,121.92 560.80,121.10 560.56,120.27 560.28,119.45 559.97,118.62 559.62,117.80 559.27,116.97 558.91,116.15 558.55,115.33 558.20,114.50 557.86,113.67 557.51,112.85 557.16,112.03 556.81,111.20 556.45,110.38 556.10,109.55 555.75,108.73 555.40,107.90 555.06,107.06 554.71,106.23 554.37,105.39 554.03,104.55 553.69,103.71 553.36,102.88 553.03,102.04 552.70,101.20 552.35,100.34 551.96,99.47 551.55,98.61 551.16,97.75 550.81,96.89 550.51,96.03 550.30,95.16 550.20,94.30 550.22,93.31 550.33,92.33 550.53,91.34 550.79,90.35 551.09,89.36 551.42,88.38 551.77,87.39 552.10,86.40 552.45,85.36 552.85,84.33 553.27,83.29 553.71,82.25 554.16,81.21 554.60,80.17 555.02,79.14 555.40,78.10 555.75,77.47 556.09,76.85 556.42,76.22 556.73,75.60 557.03,74.97 557.33,74.35 557.62,73.72 557.90,73.10 558.17,72.07 558.43,71.05 558.68,70.03 558.92,69.00 559.16,67.97 559.40,66.95 559.65,65.93 559.90,64.90 560.17,64.03 560.47,63.15 560.77,62.28 561.07,61.40 561.36,60.52 561.62,59.65 561.84,58.77 562.00,57.90" fill="#F8766D" stroke="#333" stroke-width="0.5" stroke-linejoin="round"/><path fill="#000" d="M566.1 91.8h1.4v1.4h-1.4zM562.6 92.6h1.4v1.4h-1.4zM563.1 82.6h1.4v1.4h-1.4zM559.7 101.8h1.4v1.4h-1.4zM563.7 77.7h1.4v1.4h-1.4zM566.5 74.5h1.4v1.4h-1.4zM558.1 98.3h1.4v1.4h-1.4zM557.1 67.4h1.4v1.4h-1.4zM556.8 81.8h1.4v1.4h-1.4zM565.3 92.4h1.4v1.4h-1.4zM561.7 94.0h1.4v1.4h-1.4zM559.4 97.8h1.4v1.4h-1.4zM565.2 165.7h1.4v1.4h-1.4zM558.9 99.1h1.4v1.4h-1.4zM564.5 85.4h1.4v1.4h-1.4zM560.5 91.7h1.4v1.4h-1.4zM556.5 116.5h1.4v1.4h-1.4zM561.4 84.9h1.4v1.4h-1.4zM557.3 152.4h1.4v1.4h-1.4zM559.3 97.9h1.4v1.4h-1.4zM566.5 75.6h1.4v1.4h-1.4zM559.1 100.2h1.4v1.4h-1.4zM564.8 76.1h1.4v1.4h-1.4zM561.2 81.7h1.4v1.4h-1.4zM557.9 83.3h1.4v1.4h-1.4zM560.9 95.9h1.4v1.4h-1.4zM566.6 82.9h1.4v1.4h-1.4zM565.7 102.4h1.4v1.4h-1.4zM565.4 83.3h1.4v1.4h-1.4zM566.8 95.9h1.4v1.4h-1.4zM564.5 82.9h1.4v1.4h-1.4zM557.3 88.1h1.4v1.4h-1.4zM559.0 77.0h1.4v1.4h-1.4zM561.2 95.8h1.4v1.4h-1.4zM562.5 116.2h1.4v1.4h-1.4zM558.1 105.4h1.4v1.4h-1.4zM559.1 110.6h1.4v1.4h-1.4zM566.3 83.3h1.4v1.4h-1.4zM565.7 83.9h1.4v1.4h-1.4zM557.6 96.0h1.4v1.4h-1.4zM559.0 74.4h1.4v1.4h-1.4zM565.1 98.9h1.4v1.4h-1.4zM558.3 95.6h1.4v1.4h-1.4zM558.9 98.3h1.4v1.4h-1.4zM562.9 96.4h1.4v1.4h-1.4zM558.6 87.9h1.4v1.4h-1.4zM561.1 67.6h1.4v1.4h-1.4zM560.3 73.9h1.4v1.4h-1.4zM560.3 94.2h1.4v1.4h-1.4zM563.3 109.5h1.4v1.4h-1.4zM558.0 99.0h1.4v1.4h-1.4zM566.0 71.0h1.4v1.4h-1.4zM556.7 100.2h1.4v1.4h-1.4zM564.1 97.0h1.4v1.4h-1.4zM557.3 89.2h1.4v1.4h-1.4zM565.9 95.2h1.4v1.4h-1.4zM564.7 101.1h1.4v1.4h-1.4zM563.6 109.2h1.4v1.4h-1.4zM560.8 110.0h1.4v1.4h-1.4zM562.5 103.3h1.4v1.4h-1.4zM562.6 96.7h1.4v1.4h-1.4zM563.1 94.9h1.4v1.4h-1.4zM564.1 160.8h1.4v1.4h-1.4zM562.5 91.3h1.4v1.4h-1.4zM557.4 92.6h1.4v1.4h-1.4zM562.8 99.1h1.4v1.4h-1.4zM563.8 91.8h1.4v1.4h-1.4zM566.1 93.9h1.4v1.4h-1.4zM559.6 84.2h1.4v1.4h-1.4zM558.3 97.9h1.4v1.4h-1.4zM561.1 109.3h1.4v1.4h-1.4zM563.4 107.5h1.4v1.4h-1.4zM564.9 83.4h1.4v1.4h-1.4zM560.5 110.8h1.4v1.4h-1.4zM557.9 94.8h1.4v1.4h-1.4zM565.3 94.6h1.4v1.4h-1.4zM559.4 101.0h1.4v1.4h-1.4zM559.4 81.4h1.4v1.4h-1.4zM563.0 83.4h1.4v1.4h-1.4zM565.2 93.0h1.4v1.4h-1.4zM557.3 154.0h1.4v1.4h-1.4zM556.9 72.5h1.4v1.4h-1.4zM559.7 99.8h1.4v1.4h-1.4zM557.9 100.7h1.4v1.4h-1.4zM565.1 91.2h1.4v1.4h-1.4zM557.0 83.6h1.4v1.4h-1.4zM563.1 96.9h1.4v1.4h-1.4zM566.5 98.8h1.4v1.4h-1.4zM561.4 97.9h1.4v1.4h-1.4zM561.4 81.1h1.4v1.4h-1.4zM559.3 98.7h1.4v1.4h-1.4zM561.9 89.3h1.4v1.4h-1.4zM560.6 97.0h1.4v1.4h-1.4zM557.4 104.2h1.4v1.4h-1.4zM557.9 112.0h1.4v1.4h-1.4zM566.0 93.0h1.4v1.4h-1.4zM565.6 89.9h1.4v1.4h-1.4zM561.3 104.3h1.4v1.4h-1.4zM564.0 97.0h1.4v1.4h-1.4zM564.0 104.3h1.4v1.4h-1.4zM566.7 84.8h1.4v1.4h-1.4zM564.7 150.3h1.4v1.4h-1.4zM565.4 88.9h1.4v1.4h-1.4zM561.1 87.4h1.4v1.4h-1.4zM561.6 95.3h1.4v1.4h-1.4zM557.2 72.3h1.4v1.4h-1.4zM560.0 102.0h1.4v1.4h-1.4zM558.0 101.1h1.4v1.4h-1.4zM565.2 94.3h1.4v1.4h-1.4zM561.6 100.1h1.4v1.4h-1.4zM558.8 112.6h1.4v1.4h-1.4zM564.1 93.8h1.4v1.4h-1.4zM565.3 97.1h1.4v1.4h-1.4zM560.5 94.8h1.4v1.4h-1.4zM558.7 106.7h1.4v1.4h-1.4zM562.0 106.9h1.4v1.4h-1.4zM562.1 94.4h1.4v1.4h-1.4zM556.8 93.9h1.4v1.4h-1.4zM560.7 121.3h1.4v1.4h-1.4zM561.6 103.2h1.4v1.4h-1.4zM562.1 97.5h1.4v1.4h-1.4zM566.1 92.0h1.4v1.4h-1.4zM557.8 85.6h1.4v1.4h-1.4zM565.9 92.6h1.4v1.4h-1.4zM558.5 92.1h1.4v1.4h-1.4zM557.8 97.5h1.4v1.4h-1.4zM558.5 100.7h1.4v1.4h-1.4zM559.8 85.2h1.4v1.4h-1.4zM557.6 90.0h1.4v1.4h-1.4zM561.8 99.4h1.4v1.4h-1.4zM562.0 84.8h1.4v1.4h-1.4zM560.8 91.3h1.4v1.4h-1.4zM558.6 93.4h1.4v1.4h-1.4zM562.0 97.5h1.4v1.4h-1.4zM565.4 105.9h1.4v1.4h-1.4zM564.9 85.4h1.4v1.4h-1.4zM559.8 108.3h1.4v1.4h-1.4zM566.9 109.7h1.4v1.4h-1.4zM559.0 106.9h1.4v1.4h-1.4zM557.5 98.9h1.4v1.4h-1.4zM564.7 104.5h1.4v1.4h-1.4zM563.6 78.1h1.4v1.4h-1.4zM563.6 67.4h1.4v1.4h-1.4zM557.7 111.1h1.4v1.4h-1.4zM561.7 94.4h1.4v1.4h-1.4zM557.2 97.8h1.4v1.4h-1.4zM562.2 76.0h1.4v1.4h-1.4zM558.0 93.8h1.4v1.4h-1.4zM565.2 81.7h1.4v1.4h-1.4zM557.5 159.1h1.4v1.4h-1.4zM561.3 76.3h1.4v1.4h-1.4zM561.4 100.8h1.4v1.4h-1.4zM562.7 93.4h1.4v1.4h-1.4zM565.3 67.9h1.4v1.4h-1.4zM564.2 82.4h1.4v1.4h-1.4zM558.2 89.7h1.4v1.4h-1.4zM565.8 92.1h1.4v1.4h-1.4zM565.5 103.6h1.4v1.4h-1.4zM562.7 96.8h1.4v1.4h-1.4zM564.9 95.0h1.4v1.4h-1.4zM564.2 86.9h1.4v1.4h-1.4zM560.7 103.1h1.4v1.4h-1.4zM563.7 109.2h1.4v1.4h-1.4zM560.7 102.1h1.4v1.4h-1.4zM560.1 98.3h1.4v1.4h-1.4zM560.2 91.1h1.4v1.4h-1.4zM558.9 97.4h1.4v1.4h-1.4zM560.0 113.5h1.4v1.4h-1.4zM562.0 98.1h1.4v1.4h-1.4zM563.2 92.1h1.4v1.4h-1.4zM566.7 99.6h1.4v1.4h-1.4zM564.2 69.7h1.4v1.4h-1.4zM557.0 85.4h1.4v1.4h-1.4zM557.5 82.2h1.4v1.4h-1.4zM562.2 86.9h1.4v1.4h-1.4zM562.4 95.0h1.4v1.4h-1.4zM564.9 161.3h1.4v1.4h-1.4zM564.4 75.8h1.4v1.4h-1.4zM558.2 74.9h1.4v1.4h-1.4zM561.7 91.6h1.4v1.4h-1.4zM566.3 94.9h1.4v1.4h-1.4zM562.7 91.7h1.4v1.4h-1.4zM563.3 89.0h1.4v1.4h-1.4zM564.0 94.7h1.4v1.4h-1.4zM559.0 85.2h1.4v1.4h-1.4zM564.3 72.0h1.4v1.4h-1.4zM564.3 91.8h1.4v1.4h-1.4zM566.3 75.1h1.4v1.4h-1.4zM561.0 76.7h1.4v1.4h-1.4zM559.0 94.0h1.4v1.4h-1.4zM564.0 95.8h1.4v1.4h-1.4zM565.0 94.0h1.4v1.4h-1.4zM563.0 95.0h1.4v1.4h-1.4zM557.0 91.7h1.4v1.4h-1.4zM561.1 93.3h1.4v1.4h-1.4zM559.2 97.8h1.4v1.4h-1.4zM564.6 95.1h1.4v1.4h-1.4zM566.4 96.0h1.4v1.4h-1.4zM557.7 99.7h1.4v1.4h-1.4zM563.0 108.9h1.4v1.4h-1.4zM563.6 89.0h1.4v1.4h-1.4zM563.1 95.6h1.4v1.4h-1.4zM559.1 100.4h1.4v1.4h-1.4zM565.6 153.9h1.4v1.4h-1.4zM559.3 71.7h1.4v1.4h-1.4zM557.6 92.0h1.4v1.4h-1.4zM557.4 93.2h1.4v1.4h-1.4zM563.1 98.1h1.4v1.4h-1.4zM558.7 89.6h1.4v1.4h-1.4zM565.2 89.4h1.4v1.4h-1.4zM564.9 74.4h1.4v1.4h-1.4zM558.7 97.9h1.4v1.4h-1.4zM564.9 90.9h1.4v1.4h-1.4zM566.8 90.1h1.4v1.4h-1.4zM564.3 88.8h1.4v1.4h-1.4zM560.3 110.3h1.4v1.4h-1.4zM557.3 77.9h1.4v1.4h-1.4zM561.5 76.3h1.4v1.4h-1.4zM564.6 98.2h1.4v1.4h-1.4zM563.4 74.7h1.4v1.4h-1.4zM564.0 75.6h1.4v1.4h-1.4zM558.0 98.1h1.4v1.4h-1.4zM560.3 90.3h1.4v1.4h-1.4zM562.4 79.1h1.4v1.4h-1.4zM566.0 111.8h1.4v1.4h-1.4zM559.7 92.5h1.4v1.4h-1.4zM566.2 87.4h1.4v1.4h-1.4zM560.3 107.3h1.4v1.4h-1.4zM560.6 89.2h1.4v1.4h-1.4zM562.4 89.7h1.4v1.4h-1.4z"/><polygon points="589.70,75.60 589.76,75.64 589.83,75.67 589.91,75.71 590.01,75.75 590.12,75.79 590.26,75.83 590.41,75.86 590.60,75.90 590.82,76.59 591.08,77.28 591.37,77.96 591.68,78.65 591.99,79.34 592.31,80.03 592.61,80.71 592.90,81.40 593.18,82.23 593.45,83.05 593.72,83.88 593.99,84.70 594.26,85.53 594.51,86.35 594.76,87.17 595.00,88.00 595.22,88.83 595.44,89.65 595.64,90.47 595.84,91.30 596.03,92.12 596.22,92.95 596.41,93.77 596.60,94.60 596.80,95.42 596.99,96.25 597.19,97.08 597.39,97.90 597.58,98.72 597.76,99.55 597.94,100.38 598.10,101.20 598.27,102.04 598.46,102.88 598.65,103.71 598.83,104.55 598.97,105.39 599.08,106.23 599.13,107.06 599.10,107.90 599.00,108.73 598.84,109.55 598.63,110.38 598.37,111.20 598.07,112.03 597.74,112.85 597.38,113.67 597.00,114.50 596.57,115.33 596.06,116.15 595.50,116.97 594.93,117.80 594.35,118.62 593.80,119.45 593.31,120.27 592.90,121.10 592.56,121.92 592.26,122.75 592.00,123.58 591.78,124.40 591.59,125.22 591.44,126.05 591.31,126.88 591.20,127.70 591.14,128.94 591.13,130.18 591.16,131.41 591.21,132.65 591.28,133.89 591.34,135.12 591.39,136.36 591.40,137.60 591.39,138.85 591.39,140.10 591.38,141.35 591.36,142.60 591.32,143.85 591.27,145.10 591.20,146.35 591.10,147.60 590.97,148.42 590.80,149.25 590.60,150.07 590.39,150.90 590.18,151.72 589.97,152.55 589.77,153.38 589.60,154.20 589.45,155.02 589.30,155.85 589.16,156.68 589.03,157.50 588.91,158.32 588.80,159.15 588.69,159.98 588.60,160.80 588.52,161.15 588.46,161.50 588.42,161.85 588.38,162.20 588.35,162.55 588.31,162.90 588.26,163.25 588.20,163.60 588.12,163.62 588.03,163.65 587.93,163.68 587.83,163.70 587.72,163.72 587.63,163.75 587.56,163.78 587.50,163.80 585.90,163.80 585.84,163.78 585.77,163.75 585.68,163.72 585.58,163.70 585.47,163.68 585.37,163.65 585.28,163.62 585.20,163.60 585.14,163.25 585.09,162.90 585.05,162.55 585.02,162.20 584.98,161.85 584.94,161.50 584.88,161.15 584.80,160.80 584.71,159.98 584.60,159.15 584.49,158.32 584.37,157.50 584.24,156.68 584.10,155.85 583.95,155.02 583.80,154.20 583.63,153.38 583.43,152.55 583.22,151.72 583.01,150.90 582.80,150.07 582.60,149.25 582.43,148.42 582.30,147.60 582.20,146.35 582.13,145.10 582.08,143.85 582.04,142.60 582.02,141.35 582.01,140.10 582.01,138.85 582.00,137.60 582.01,136.36 582.06,135.12 582.12,133.89 582.19,132.65 582.24,131.41 582.27,130.18 582.26,128.94 582.20,127.70 582.09,126.88 581.96,126.05 581.81,125.22 581.62,124.40 581.40,123.58 581.14,122.75 580.84,121.92 580.50,121.10 580.09,120.27 579.60,119.45 579.05,118.62 578.48,117.80 577.90,116.97 577.34,116.15 576.83,115.33 576.40,114.50 576.02,113.67 575.66,112.85 575.33,112.03 575.03,111.20 574.77,110.38 574.56,109.55 574.40,108.73 574.30,107.90 574.27,107.06 574.32,106.23 574.43,105.39 574.58,104.55 574.75,103.71 574.94,102.88 575.13,102.04 575.30,101.20 575.46,100.38 575.64,99.55 575.82,98.72 576.01,97.90 576.21,97.08 576.41,96.25 576.60,95.42 576.80,94.60 576.99,93.77 577.18,92.95 577.37,92.12 577.56,91.30 577.76,90.47 577.96,89.65 578.18,88.83 578.40,88.00 578.64,87.17 578.89,86.35 579.14,85.53 579.41,84.70 579.68,83.88 579.95,83.05 580.22,82.23 580.50,81.40 580.79,80.71 581.09,80.03 581.41,79.34 581.73,78.65 582.03,77.96 582.32,77.28 582.58,76.59 582.80,75.90 582.99,75.86 583.14,75.83 583.28,75.79 583.39,75.75 583.49,75.71 583.57,75.67 583.64,75.64 583.70,75.60" fill="#1C8A8F" stroke="#333" stroke-width="0.5" stroke-linejoin="round"/><path fill="#000" d="M587.7 103.5h1.4v1.4h-1.4zM584.7 86.7h1.4v1.4h-1.4zM588.0 96.5h1.4v1.4h-1.4zM587.7 108.2h1.4v1.4h-1.4zM582.5 87.9h1.4v1.4h-1.4zM589.3 129.4h1.4v1.4h-1.4zM584.3 82.9h1.4v1.4h-1.4zM581.0 101.5h1.4v1.4h-1.4zM586.1 81.9h1.4v1.4h-1.4zM590.6 85.5h1.4v1.4h-1.4zM582.2 85.4h1.4v1.4h-1.4zM582.5 97.6h1.4v1.4h-1.4zM582.6 110.0h1.4v1.4h-1.4zM585.2 116.8h1.4v1.4h-1.4zM584.8 107.1h1.4v1.4h-1.4zM590.9 77.9h1.4v1.4h-1.4zM584.5 151.5h1.4v1.4h-1.4zM587.8 99.4h1.4v1.4h-1.4zM584.6 84.9h1.4v1.4h-1.4zM586.0 105.6h1.4v1.4h-1.4zM585.3 77.5h1.4v1.4h-1.4zM585.2 103.9h1.4v1.4h-1.4zM581.9 101.3h1.4v1.4h-1.4zM588.0 105.4h1.4v1.4h-1.4zM584.4 77.3h1.4v1.4h-1.4zM585.6 107.5h1.4v1.4h-1.4zM585.8 91.6h1.4v1.4h-1.4zM590.7 146.8h1.4v1.4h-1.4zM584.6 91.0h1.4v1.4h-1.4zM590.3 91.3h1.4v1.4h-1.4zM588.8 74.3h1.4v1.4h-1.4zM580.9 97.2h1.4v1.4h-1.4zM591.0 79.0h1.4v1.4h-1.4zM581.0 163.0h1.4v1.4h-1.4zM589.5 98.1h1.4v1.4h-1.4zM586.3 108.0h1.4v1.4h-1.4zM583.5 104.2h1.4v1.4h-1.4zM582.5 144.3h1.4v1.4h-1.4zM583.7 97.5h1.4v1.4h-1.4zM588.0 141.9h1.4v1.4h-1.4zM583.8 110.5h1.4v1.4h-1.4zM588.0 94.4h1.4v1.4h-1.4zM585.2 88.5h1.4v1.4h-1.4zM591.0 93.7h1.4v1.4h-1.4zM590.4 106.7h1.4v1.4h-1.4zM585.1 148.5h1.4v1.4h-1.4zM589.0 108.4h1.4v1.4h-1.4zM584.6 106.7h1.4v1.4h-1.4zM581.0 113.2h1.4v1.4h-1.4zM589.1 113.4h1.4v1.4h-1.4zM586.4 129.5h1.4v1.4h-1.4zM581.8 115.1h1.4v1.4h-1.4zM590.5 98.3h1.4v1.4h-1.4zM587.3 111.4h1.4v1.4h-1.4zM588.1 86.6h1.4v1.4h-1.4zM585.0 99.7h1.4v1.4h-1.4zM582.3 97.8h1.4v1.4h-1.4zM588.0 83.4h1.4v1.4h-1.4zM590.5 114.3h1.4v1.4h-1.4zM585.9 97.4h1.4v1.4h-1.4zM587.7 101.2h1.4v1.4h-1.4zM584.2 97.2h1.4v1.4h-1.4zM584.5 140.4h1.4v1.4h-1.4zM585.3 94.7h1.4v1.4h-1.4zM586.0 93.5h1.4v1.4h-1.4zM585.6 110.3h1.4v1.4h-1.4zM583.4 109.1h1.4v1.4h-1.4zM589.4 104.1h1.4v1.4h-1.4zM588.7 93.2h1.4v1.4h-1.4zM587.7 101.0h1.4v1.4h-1.4zM587.9 150.4h1.4v1.4h-1.4zM584.2 99.5h1.4v1.4h-1.4zM584.0 104.3h1.4v1.4h-1.4zM586.5 86.5h1.4v1.4h-1.4zM589.2 92.5h1.4v1.4h-1.4zM587.0 96.9h1.4v1.4h-1.4zM590.1 101.6h1.4v1.4h-1.4zM587.5 96.1h1.4v1.4h-1.4zM589.0 119.9h1.4v1.4h-1.4zM583.5 101.7h1.4v1.4h-1.4z"/><text x="576.6" y="71.4" font-size="14.2" fill="#111"><tspan font-style="italic">p</tspan> &lt;0.0001</text><rect x="621.40" y="105.40" width="13.60" height="14.10" fill="#F8766D" stroke="#333" stroke-width="0.8"/><rect x="621.40" y="120.10" width="13.60" height="14.10" fill="#1C8A8F" stroke="#333" stroke-width="0.8"/><text x="642.6" y="116.9" font-size="12.3" fill="#111">14dpi</text><text x="642.6" y="131.3" font-size="12.3" fill="#111">Naive</text><text x="661.0" y="209.3" font-size="16.5" font-weight="bold" fill="#000">c</text><text x="525.5" y="355.9" font-size="13.3" font-weight="bold" fill="#111" transform="rotate(-90 525.5 355.9)" textLength="154.6" lengthAdjust="spacingAndGlyphs">S100A8/S100A9 (pg/mL)</text><line x1="570.3" y1="225.0" x2="570.3" y2="315.4" stroke="#666" stroke-width="0.9"/><line x1="570.3" y1="315.4" x2="675.0" y2="315.4" stroke="#444" stroke-width="0.9"/><line x1="568.8" y1="315.4" x2="570.3" y2="315.4" stroke="#777" stroke-width="0.5"/><line x1="569.4" y1="313.14" x2="570.3" y2="313.14" stroke="#777" stroke-width="0.5"/><line x1="569.4" y1="310.88" x2="570.3" y2="310.88" stroke="#777" stroke-width="0.5"/><line x1="569.4" y1="308.62" x2="570.3" y2="308.62" stroke="#777" stroke-width="0.5"/><line x1="569.4" y1="306.36" x2="570.3" y2="306.36" stroke="#777" stroke-width="0.5"/><line x1="569.4" y1="304.1" x2="570.3" y2="304.1" stroke="#777" stroke-width="0.5"/><line x1="569.4" y1="301.85" x2="570.3" y2="301.85" stroke="#777" stroke-width="0.5"/><line x1="569.4" y1="299.59" x2="570.3" y2="299.59" stroke="#777" stroke-width="0.5"/><line x1="569.4" y1="297.33" x2="570.3" y2="297.33" stroke="#777" stroke-width="0.5"/><line x1="569.4" y1="295.07" x2="570.3" y2="295.07" stroke="#777" stroke-width="0.5"/><line x1="568.8" y1="292.81" x2="570.3" y2="292.81" stroke="#777" stroke-width="0.5"/><line x1="569.4" y1="290.55" x2="570.3" y2="290.55" stroke="#777" stroke-width="0.5"/><line x1="569.4" y1="288.29" x2="570.3" y2="288.29" stroke="#777" stroke-width="0.5"/><line x1="569.4" y1="286.03" x2="570.3" y2="286.03" stroke="#777" stroke-width="0.5"/><line x1="569.4" y1="283.77" x2="570.3" y2="283.77" stroke="#777" stroke-width="0.5"/><line x1="569.4" y1="281.51" x2="570.3" y2="281.51" stroke="#777" stroke-width="0.5"/><line x1="569.4" y1="279.26" x2="570.3" y2="279.26" stroke="#777" stroke-width="0.5"/><line x1="569.4" y1="277.0" x2="570.3" y2="277.0" stroke="#777" stroke-width="0.5"/><line x1="569.4" y1="274.74" x2="570.3" y2="274.74" stroke="#777" stroke-width="0.5"/><line x1="569.4" y1="272.48" x2="570.3" y2="272.48" stroke="#777" stroke-width="0.5"/><line x1="568.8" y1="270.22" x2="570.3" y2="270.22" stroke="#777" stroke-width="0.5"/><line x1="569.4" y1="267.96" x2="570.3" y2="267.96" stroke="#777" stroke-width="0.5"/><line x1="569.4" y1="265.7" x2="570.3" y2="265.7" stroke="#777" stroke-width="0.5"/><line x1="569.4" y1="263.44" x2="570.3" y2="263.44" stroke="#777" stroke-width="0.5"/><line x1="569.4" y1="261.18" x2="570.3" y2="261.18" stroke="#777" stroke-width="0.5"/><line x1="569.4" y1="258.92" x2="570.3" y2="258.92" stroke="#777" stroke-width="0.5"/><line x1="569.4" y1="256.67" x2="570.3" y2="256.67" stroke="#777" stroke-width="0.5"/><line x1="569.4" y1="254.41" x2="570.3" y2="254.41" stroke="#777" stroke-width="0.5"/><line x1="569.4" y1="252.15" x2="570.3" y2="252.15" stroke="#777" stroke-width="0.5"/><line x1="569.4" y1="249.89" x2="570.3" y2="249.89" stroke="#777" stroke-width="0.5"/><line x1="568.8" y1="247.63" x2="570.3" y2="247.63" stroke="#777" stroke-width="0.5"/><line x1="569.4" y1="245.37" x2="570.3" y2="245.37" stroke="#777" stroke-width="0.5"/><line x1="569.4" y1="243.11" x2="570.3" y2="243.11" stroke="#777" stroke-width="0.5"/><line x1="569.4" y1="240.85" x2="570.3" y2="240.85" stroke="#777" stroke-width="0.5"/><line x1="569.4" y1="238.59" x2="570.3" y2="238.59" stroke="#777" stroke-width="0.5"/><line x1="569.4" y1="236.33" x2="570.3" y2="236.33" stroke="#777" stroke-width="0.5"/><line x1="569.4" y1="234.08" x2="570.3" y2="234.08" stroke="#777" stroke-width="0.5"/><line x1="569.4" y1="231.82" x2="570.3" y2="231.82" stroke="#777" stroke-width="0.5"/><line x1="569.4" y1="229.56" x2="570.3" y2="229.56" stroke="#777" stroke-width="0.5"/><line x1="569.4" y1="227.3" x2="570.3" y2="227.3" stroke="#777" stroke-width="0.5"/><line x1="568.8" y1="225.04" x2="570.3" y2="225.04" stroke="#777" stroke-width="0.5"/><text x="567.4" y="229.3" font-size="10.6" font-weight="bold" text-anchor="end" fill="#222">2×10<tspan font-size="6.4" dx="1.8" dy="-4">6</tspan></text><text x="567.4" y="251.9" font-size="10.6" font-weight="bold" text-anchor="end" fill="#222">1.5×10<tspan font-size="6.4" dx="1.8" dy="-4">6</tspan></text><text x="567.4" y="274.5" font-size="10.6" font-weight="bold" text-anchor="end" fill="#222">1×10<tspan font-size="6.4" dx="1.8" dy="-4">6</tspan></text><text x="567.4" y="297.1" font-size="10.6" font-weight="bold" text-anchor="end" fill="#222">5×10<tspan font-size="6.4" dx="1.8" dy="-4">5</tspan></text><text x="567.0" y="319.4" font-size="10.6" font-weight="bold" text-anchor="end" fill="#222">0</text><line x1="595.2" y1="315.4" x2="595.2" y2="317.4" stroke="#444" stroke-width="0.8"/><line x1="650.6" y1="315.4" x2="650.6" y2="317.4" stroke="#444" stroke-width="0.8"/><rect x="578.10" y="311.60" width="13.40" height="3.80" fill="#FFFFFF" stroke="#222" stroke-width="1.0"/><rect x="599.40" y="257.30" width="12.60" height="58.10" fill="#939599" stroke="#222" stroke-width="1.0"/><rect x="633.80" y="314.00" width="13.50" height="1.40" fill="#FFFFFF" stroke="#222" stroke-width="0.8"/><rect x="654.00" y="310.60" width="13.40" height="4.80" fill="#939599" stroke="#222" stroke-width="1.0"/><line x1="605.7" y1="250.5" x2="605.7" y2="257.3" stroke="#444" stroke-width="0.8"/><line x1="603.5" y1="250.5" x2="607.9" y2="250.5" stroke="#444" stroke-width="0.8"/><circle cx="581.5" cy="312.2" r="1.2" fill="#222"/><circle cx="585" cy="311.8" r="1.2" fill="#222"/><circle cx="588.5" cy="312.4" r="1.2" fill="#222"/><circle cx="605.5" cy="251.2" r="1.6" fill="none" stroke="#222" stroke-width="0.8"/><circle cx="605.5" cy="257.8" r="1.6" fill="none" stroke="#222" stroke-width="0.8"/><circle cx="605.5" cy="261.2" r="1.6" fill="none" stroke="#222" stroke-width="0.8"/><circle cx="636" cy="314.8" r="1.2" fill="#222"/><circle cx="640.5" cy="314.3" r="1.2" fill="#222"/><circle cx="645" cy="314.0" r="1.2" fill="#222"/><circle cx="656.5" cy="310.6" r="1.6" fill="#fff" stroke="#222" stroke-width="0.8"/><circle cx="661" cy="310.6" r="1.6" fill="#fff" stroke="#222" stroke-width="0.8"/><circle cx="665.5" cy="310.6" r="1.6" fill="#fff" stroke="#222" stroke-width="0.8"/><path d="M584.3 304.8V241.5H605.3V246" fill="none" stroke="#777" stroke-width="0.7"/><path d="M639.7 309V299.2H660.7V304" fill="none" stroke="#777" stroke-width="0.7"/><text x="578.0" y="238.4" font-size="7.4" fill="#333"><tspan font-style="italic">p</tspan> &lt;0.0001</text><text x="632.1" y="296.4" font-size="7.6" fill="#333"><tspan font-style="italic">p</tspan> = 0.0005</text><text x="585.7" y="332.2" font-size="13" font-weight="bold" text-anchor="middle" fill="#111">Spleen</text><text x="584.4" y="350.3" font-size="13" font-weight="bold" text-anchor="middle" fill="#111">homogenate</text><text x="648.5" y="332.2" font-size="13" font-weight="bold" text-anchor="middle" fill="#111">Plasma</text><text x="522.6" y="384.8" font-size="16.4" font-weight="bold" fill="#000">Pro–Apoptosis</text><text x="660.3" y="381.0" font-size="16.5" font-weight="bold" fill="#000">e</text><line x1="550.2" y1="395.8" x2="550.2" y2="527.3" stroke="#333" stroke-width="0.8"/><line x1="549.8" y1="527.3" x2="609.4" y2="527.3" stroke="#333" stroke-width="0.8"/><line x1="546.8" y1="409.8" x2="550.2" y2="409.8" stroke="#333" stroke-width="0.8"/><text x="543.9" y="414.15" font-size="12" text-anchor="end" fill="#222">0.4</text><line x1="546.8" y1="446.20000000000005" x2="550.2" y2="446.20000000000005" stroke="#333" stroke-width="0.8"/><text x="543.9" y="450.55" font-size="12" text-anchor="end" fill="#222">0.2</text><line x1="546.8" y1="482.6" x2="550.2" y2="482.6" stroke="#333" stroke-width="0.8"/><text x="543.9" y="486.95" font-size="12" text-anchor="end" fill="#222">0.0</text><line x1="546.8" y1="519.0" x2="550.2" y2="519.0" stroke="#333" stroke-width="0.8"/><text x="543.9" y="523.35" font-size="12" text-anchor="end" fill="#222">−0.2</text><line x1="579.7" y1="527.3" x2="579.7" y2="530.0" stroke="#333" stroke-width="0.8"/><polygon points="568.60,401.20 568.64,402.90 568.69,404.60 568.75,406.30 568.82,408.00 568.89,409.70 568.96,411.40 569.03,413.10 569.10,414.80 569.16,416.88 569.22,418.95 569.27,421.02 569.32,423.10 569.38,425.18 569.45,427.25 569.52,429.32 569.60,431.40 569.69,432.42 569.79,433.45 569.90,434.48 570.01,435.50 570.12,436.52 570.24,437.55 570.37,438.58 570.50,439.60 570.63,440.23 570.77,440.85 570.91,441.48 571.06,442.10 571.21,442.73 571.36,443.35 571.53,443.98 571.70,444.60 571.88,445.64 572.07,446.68 572.27,447.71 572.47,448.75 572.68,449.79 572.89,450.82 573.10,451.86 573.30,452.90 573.50,453.72 573.69,454.55 573.88,455.38 574.07,456.20 574.26,457.02 574.46,457.85 574.68,458.68 574.90,459.50 575.14,460.54 575.40,461.57 575.67,462.61 575.95,463.65 576.23,464.69 576.50,465.73 576.76,466.76 577.00,467.80 577.23,468.82 577.45,469.85 577.67,470.88 577.88,471.90 578.07,472.93 578.26,473.95 578.44,474.98 578.60,476.00 578.76,476.82 578.94,477.65 579.10,478.48 579.26,479.30 579.38,480.12 579.47,480.95 579.52,481.78 579.50,482.60 579.42,483.64 579.29,484.68 579.11,485.71 578.89,486.75 578.64,487.79 578.37,488.82 578.09,489.86 577.80,490.90 577.49,491.94 577.15,492.97 576.78,494.01 576.40,495.05 576.01,496.09 575.62,497.12 575.25,498.16 574.90,499.20 574.56,500.24 574.22,501.27 573.89,502.31 573.56,503.35 573.25,504.39 572.95,505.43 572.66,506.46 572.40,507.50 572.17,508.21 571.96,508.93 571.78,509.64 571.61,510.35 571.44,511.06 571.27,511.78 571.10,512.49 570.90,513.20 570.68,513.51 570.43,513.83 570.17,514.14 569.91,514.45 569.66,514.76 569.43,515.08 569.24,515.39 569.10,515.70 567.50,515.70 567.36,515.39 567.17,515.08 566.94,514.76 566.69,514.45 566.43,514.14 566.17,513.83 565.92,513.51 565.70,513.20 565.50,512.49 565.33,511.78 565.16,511.06 564.99,510.35 564.82,509.64 564.64,508.93 564.43,508.21 564.20,507.50 563.94,506.46 563.65,505.43 563.35,504.39 563.04,503.35 562.71,502.31 562.38,501.27 562.04,500.24 561.70,499.20 561.35,498.16 560.97,497.12 560.59,496.09 560.20,495.05 559.82,494.01 559.45,492.97 559.11,491.94 558.80,490.90 558.51,489.86 558.23,488.82 557.96,487.79 557.71,486.75 557.49,485.71 557.31,484.68 557.18,483.64 557.10,482.60 557.08,481.78 557.13,480.95 557.22,480.12 557.34,479.30 557.50,478.48 557.66,477.65 557.84,476.82 558.00,476.00 558.16,474.98 558.34,473.95 558.53,472.93 558.72,471.90 558.93,470.88 559.15,469.85 559.37,468.82 559.60,467.80 559.84,466.76 560.10,465.73 560.37,464.69 560.65,463.65 560.93,462.61 561.20,461.57 561.46,460.54 561.70,459.50 561.92,458.68 562.14,457.85 562.34,457.02 562.53,456.20 562.72,455.38 562.91,454.55 563.10,453.72 563.30,452.90 563.50,451.86 563.71,450.82 563.92,449.79 564.12,448.75 564.33,447.71 564.53,446.68 564.72,445.64 564.90,444.60 565.07,443.98 565.24,443.35 565.39,442.73 565.54,442.10 565.69,441.48 565.83,440.85 565.97,440.23 566.10,439.60 566.23,438.58 566.36,437.55 566.48,436.52 566.59,435.50 566.70,434.48 566.81,433.45 566.91,432.42 567.00,431.40 567.08,429.32 567.15,427.25 567.22,425.18 567.27,423.10 567.33,421.02 567.38,418.95 567.44,416.88 567.50,414.80 567.57,413.10 567.64,411.40 567.71,409.70 567.78,408.00 567.85,406.30 567.91,404.60 567.96,402.90 568.00,401.20" fill="#F8766D" stroke="#333" stroke-width="0.5" stroke-linejoin="round"/><path fill="#000" d="M569.0 462.5h1.4v1.4h-1.4zM570.6 476.9h1.4v1.4h-1.4zM567.7 491.3h1.4v1.4h-1.4zM566.3 465.6h1.4v1.4h-1.4zM570.7 479.8h1.4v1.4h-1.4zM562.8 466.3h1.4v1.4h-1.4zM571.5 514.2h1.4v1.4h-1.4zM565.8 481.5h1.4v1.4h-1.4zM572.3 477.4h1.4v1.4h-1.4zM570.9 473.2h1.4v1.4h-1.4zM567.1 459.3h1.4v1.4h-1.4zM567.4 479.8h1.4v1.4h-1.4zM571.4 462.6h1.4v1.4h-1.4zM564.6 467.9h1.4v1.4h-1.4zM570.2 508.0h1.4v1.4h-1.4zM570.0 489.4h1.4v1.4h-1.4zM571.0 457.9h1.4v1.4h-1.4zM571.6 466.3h1.4v1.4h-1.4zM567.1 474.9h1.4v1.4h-1.4zM566.4 475.8h1.4v1.4h-1.4zM569.9 442.1h1.4v1.4h-1.4zM567.5 512.5h1.4v1.4h-1.4zM564.7 481.0h1.4v1.4h-1.4zM568.9 482.1h1.4v1.4h-1.4zM566.0 462.0h1.4v1.4h-1.4zM568.6 500.1h1.4v1.4h-1.4zM563.1 470.0h1.4v1.4h-1.4zM566.3 492.1h1.4v1.4h-1.4zM571.7 485.5h1.4v1.4h-1.4zM572.7 504.4h1.4v1.4h-1.4zM571.6 506.0h1.4v1.4h-1.4zM565.0 478.2h1.4v1.4h-1.4zM563.1 494.4h1.4v1.4h-1.4zM567.4 492.1h1.4v1.4h-1.4zM565.1 490.9h1.4v1.4h-1.4zM564.2 469.9h1.4v1.4h-1.4zM571.8 452.5h1.4v1.4h-1.4zM567.4 510.4h1.4v1.4h-1.4zM567.9 469.5h1.4v1.4h-1.4zM564.6 485.7h1.4v1.4h-1.4zM571.6 493.2h1.4v1.4h-1.4zM568.4 481.7h1.4v1.4h-1.4zM568.0 492.7h1.4v1.4h-1.4zM562.5 470.0h1.4v1.4h-1.4zM562.6 486.4h1.4v1.4h-1.4zM571.3 482.3h1.4v1.4h-1.4zM566.6 480.3h1.4v1.4h-1.4zM563.8 505.9h1.4v1.4h-1.4zM562.7 454.3h1.4v1.4h-1.4zM571.4 475.9h1.4v1.4h-1.4zM568.0 482.9h1.4v1.4h-1.4zM564.7 472.2h1.4v1.4h-1.4zM566.3 461.0h1.4v1.4h-1.4zM562.9 486.2h1.4v1.4h-1.4zM570.5 487.2h1.4v1.4h-1.4zM567.2 488.7h1.4v1.4h-1.4zM564.2 453.0h1.4v1.4h-1.4zM569.6 485.3h1.4v1.4h-1.4zM566.4 469.8h1.4v1.4h-1.4zM565.5 472.4h1.4v1.4h-1.4zM572.3 478.7h1.4v1.4h-1.4zM567.7 456.6h1.4v1.4h-1.4zM565.6 488.5h1.4v1.4h-1.4zM568.2 486.1h1.4v1.4h-1.4zM572.6 453.1h1.4v1.4h-1.4zM572.7 472.7h1.4v1.4h-1.4zM563.2 455.9h1.4v1.4h-1.4zM567.1 492.0h1.4v1.4h-1.4zM569.1 481.5h1.4v1.4h-1.4zM566.4 477.0h1.4v1.4h-1.4zM562.9 474.5h1.4v1.4h-1.4zM569.7 475.4h1.4v1.4h-1.4zM567.1 491.9h1.4v1.4h-1.4zM567.5 466.8h1.4v1.4h-1.4zM563.3 484.3h1.4v1.4h-1.4zM569.9 477.8h1.4v1.4h-1.4zM568.9 497.3h1.4v1.4h-1.4zM571.3 488.6h1.4v1.4h-1.4zM565.0 486.6h1.4v1.4h-1.4zM568.8 498.2h1.4v1.4h-1.4zM572.7 493.7h1.4v1.4h-1.4zM565.6 434.2h1.4v1.4h-1.4zM568.2 474.2h1.4v1.4h-1.4zM572.2 453.3h1.4v1.4h-1.4zM563.5 488.0h1.4v1.4h-1.4zM564.5 505.3h1.4v1.4h-1.4zM569.5 472.6h1.4v1.4h-1.4zM565.7 469.5h1.4v1.4h-1.4zM564.0 469.2h1.4v1.4h-1.4zM568.6 484.1h1.4v1.4h-1.4zM572.2 468.8h1.4v1.4h-1.4zM568.8 477.6h1.4v1.4h-1.4zM566.4 468.2h1.4v1.4h-1.4zM572.4 468.2h1.4v1.4h-1.4zM572.1 446.9h1.4v1.4h-1.4zM567.6 484.6h1.4v1.4h-1.4zM569.7 447.3h1.4v1.4h-1.4zM568.1 465.6h1.4v1.4h-1.4zM567.1 454.9h1.4v1.4h-1.4zM563.8 496.0h1.4v1.4h-1.4zM567.9 491.2h1.4v1.4h-1.4zM566.6 448.2h1.4v1.4h-1.4zM570.7 479.4h1.4v1.4h-1.4zM571.6 494.6h1.4v1.4h-1.4zM563.2 441.6h1.4v1.4h-1.4zM570.3 498.2h1.4v1.4h-1.4zM570.9 462.7h1.4v1.4h-1.4zM567.3 482.3h1.4v1.4h-1.4zM565.2 489.7h1.4v1.4h-1.4zM568.9 472.6h1.4v1.4h-1.4zM563.1 495.1h1.4v1.4h-1.4zM564.4 480.0h1.4v1.4h-1.4zM562.8 467.8h1.4v1.4h-1.4zM569.2 479.1h1.4v1.4h-1.4zM572.1 459.7h1.4v1.4h-1.4zM569.6 480.0h1.4v1.4h-1.4zM563.2 487.2h1.4v1.4h-1.4zM562.8 491.4h1.4v1.4h-1.4zM568.9 473.3h1.4v1.4h-1.4zM567.5 463.6h1.4v1.4h-1.4zM570.8 463.0h1.4v1.4h-1.4zM564.7 498.0h1.4v1.4h-1.4zM567.9 490.4h1.4v1.4h-1.4zM566.5 499.9h1.4v1.4h-1.4zM570.7 502.9h1.4v1.4h-1.4zM568.8 438.5h1.4v1.4h-1.4zM569.1 482.7h1.4v1.4h-1.4zM568.0 463.2h1.4v1.4h-1.4zM572.8 494.5h1.4v1.4h-1.4zM570.1 481.1h1.4v1.4h-1.4zM563.3 495.0h1.4v1.4h-1.4zM568.0 474.3h1.4v1.4h-1.4zM563.8 490.8h1.4v1.4h-1.4zM568.4 443.0h1.4v1.4h-1.4zM564.6 443.8h1.4v1.4h-1.4zM567.8 458.4h1.4v1.4h-1.4zM563.7 496.5h1.4v1.4h-1.4zM569.1 466.9h1.4v1.4h-1.4zM569.2 489.9h1.4v1.4h-1.4zM566.3 467.9h1.4v1.4h-1.4zM568.0 477.9h1.4v1.4h-1.4zM571.0 476.4h1.4v1.4h-1.4zM570.1 482.0h1.4v1.4h-1.4zM566.3 488.6h1.4v1.4h-1.4zM569.3 473.8h1.4v1.4h-1.4zM572.8 481.3h1.4v1.4h-1.4zM570.0 463.2h1.4v1.4h-1.4zM563.0 491.2h1.4v1.4h-1.4zM567.6 475.3h1.4v1.4h-1.4zM568.9 477.4h1.4v1.4h-1.4zM571.4 482.5h1.4v1.4h-1.4zM565.0 487.7h1.4v1.4h-1.4zM572.1 490.0h1.4v1.4h-1.4zM571.7 465.0h1.4v1.4h-1.4zM569.0 453.3h1.4v1.4h-1.4zM565.2 460.8h1.4v1.4h-1.4zM564.7 484.4h1.4v1.4h-1.4zM569.8 465.0h1.4v1.4h-1.4zM565.9 466.6h1.4v1.4h-1.4zM564.4 483.6h1.4v1.4h-1.4zM569.6 458.5h1.4v1.4h-1.4zM571.6 475.0h1.4v1.4h-1.4zM569.9 482.5h1.4v1.4h-1.4zM567.6 481.7h1.4v1.4h-1.4zM569.0 505.4h1.4v1.4h-1.4zM566.0 482.5h1.4v1.4h-1.4zM567.2 488.5h1.4v1.4h-1.4zM570.6 478.6h1.4v1.4h-1.4zM567.1 442.5h1.4v1.4h-1.4zM568.5 466.3h1.4v1.4h-1.4zM564.1 454.6h1.4v1.4h-1.4zM565.8 489.7h1.4v1.4h-1.4zM564.3 464.7h1.4v1.4h-1.4zM571.2 461.2h1.4v1.4h-1.4zM568.0 464.9h1.4v1.4h-1.4zM570.3 456.9h1.4v1.4h-1.4zM568.0 465.6h1.4v1.4h-1.4zM568.6 453.9h1.4v1.4h-1.4zM568.4 454.6h1.4v1.4h-1.4zM569.3 491.3h1.4v1.4h-1.4zM565.7 436.3h1.4v1.4h-1.4zM570.6 498.1h1.4v1.4h-1.4zM571.7 446.0h1.4v1.4h-1.4zM564.3 489.4h1.4v1.4h-1.4zM572.4 498.3h1.4v1.4h-1.4zM567.9 489.8h1.4v1.4h-1.4zM569.3 461.4h1.4v1.4h-1.4zM570.7 483.6h1.4v1.4h-1.4zM563.3 449.5h1.4v1.4h-1.4zM570.2 473.1h1.4v1.4h-1.4zM563.6 460.3h1.4v1.4h-1.4zM564.8 483.8h1.4v1.4h-1.4zM566.8 475.4h1.4v1.4h-1.4zM567.3 485.4h1.4v1.4h-1.4zM564.5 479.8h1.4v1.4h-1.4zM565.8 478.0h1.4v1.4h-1.4zM566.8 465.2h1.4v1.4h-1.4zM564.6 463.6h1.4v1.4h-1.4zM569.3 493.9h1.4v1.4h-1.4zM567.1 467.6h1.4v1.4h-1.4zM566.3 487.2h1.4v1.4h-1.4zM571.1 469.4h1.4v1.4h-1.4zM565.8 485.0h1.4v1.4h-1.4zM563.9 497.5h1.4v1.4h-1.4zM569.4 485.8h1.4v1.4h-1.4zM565.0 506.9h1.4v1.4h-1.4zM566.4 512.9h1.4v1.4h-1.4zM566.5 507.2h1.4v1.4h-1.4zM565.2 482.3h1.4v1.4h-1.4zM570.1 490.5h1.4v1.4h-1.4zM571.7 491.3h1.4v1.4h-1.4zM567.6 493.7h1.4v1.4h-1.4zM572.5 486.1h1.4v1.4h-1.4zM569.3 483.8h1.4v1.4h-1.4zM566.4 469.1h1.4v1.4h-1.4zM563.4 458.3h1.4v1.4h-1.4zM562.9 477.7h1.4v1.4h-1.4zM567.7 481.8h1.4v1.4h-1.4zM569.8 470.0h1.4v1.4h-1.4zM570.0 475.8h1.4v1.4h-1.4zM569.7 457.5h1.4v1.4h-1.4zM565.1 493.7h1.4v1.4h-1.4zM569.7 482.4h1.4v1.4h-1.4zM566.0 492.2h1.4v1.4h-1.4zM569.0 501.2h1.4v1.4h-1.4zM570.5 490.6h1.4v1.4h-1.4zM564.1 428.1h1.4v1.4h-1.4zM562.7 472.4h1.4v1.4h-1.4zM568.4 490.3h1.4v1.4h-1.4zM571.2 481.3h1.4v1.4h-1.4zM570.3 481.9h1.4v1.4h-1.4zM565.6 456.8h1.4v1.4h-1.4zM566.5 467.3h1.4v1.4h-1.4zM570.2 491.3h1.4v1.4h-1.4zM565.7 486.3h1.4v1.4h-1.4zM571.5 471.0h1.4v1.4h-1.4zM572.4 511.9h1.4v1.4h-1.4zM569.6 499.4h1.4v1.4h-1.4zM568.8 489.3h1.4v1.4h-1.4zM571.9 510.8h1.4v1.4h-1.4z"/><polygon points="591.90,434.30 591.98,434.36 592.08,434.43 592.21,434.49 592.34,434.55 592.49,434.61 592.63,434.68 592.77,434.74 592.90,434.80 593.01,435.40 593.11,436.00 593.21,436.60 593.31,437.20 593.41,437.80 593.52,438.40 593.65,439.00 593.80,439.60 593.97,440.64 594.16,441.68 594.36,442.71 594.58,443.75 594.80,444.79 595.03,445.82 595.26,446.86 595.50,447.90 595.75,448.94 596.00,449.97 596.27,451.01 596.54,452.05 596.82,453.09 597.09,454.12 597.35,455.16 597.60,456.20 597.84,457.22 598.08,458.25 598.31,459.27 598.53,460.30 598.75,461.32 598.97,462.35 599.19,463.38 599.40,464.40 599.61,465.44 599.83,466.47 600.05,467.51 600.26,468.55 600.46,469.59 600.65,470.62 600.83,471.66 601.00,472.70 601.15,473.94 601.28,475.18 601.39,476.41 601.50,477.65 601.60,478.89 601.70,480.12 601.80,481.36 601.90,482.60 602.02,483.85 602.14,485.10 602.28,486.35 602.41,487.60 602.52,488.85 602.61,490.10 602.68,491.35 602.70,492.60 602.69,493.43 602.65,494.25 602.59,495.07 602.51,495.90 602.39,496.73 602.26,497.55 602.09,498.38 601.90,499.20 601.67,500.02 601.39,500.85 601.09,501.68 600.76,502.50 600.41,503.32 600.06,504.15 599.72,504.98 599.40,505.80 599.08,506.84 598.75,507.88 598.42,508.91 598.09,509.95 597.76,510.99 597.45,512.02 597.16,513.06 596.90,514.10 596.67,514.90 596.47,515.70 596.30,516.50 596.14,517.30 595.98,518.10 595.81,518.90 595.62,519.70 595.40,520.50 595.14,520.52 594.83,520.55 594.50,520.58 594.16,520.60 593.83,520.62 593.53,520.65 593.28,520.68 593.10,520.70 589.10,520.70 588.92,520.68 588.67,520.65 588.37,520.62 588.04,520.60 587.70,520.58 587.37,520.55 587.06,520.52 586.80,520.50 586.58,519.70 586.39,518.90 586.22,518.10 586.06,517.30 585.90,516.50 585.73,515.70 585.53,514.90 585.30,514.10 585.04,513.06 584.75,512.02 584.44,510.99 584.11,509.95 583.78,508.91 583.45,507.88 583.12,506.84 582.80,505.80 582.48,504.98 582.14,504.15 581.79,503.32 581.44,502.50 581.11,501.68 580.81,500.85 580.53,500.02 580.30,499.20 580.11,498.38 579.94,497.55 579.81,496.73 579.69,495.90 579.61,495.07 579.55,494.25 579.51,493.43 579.50,492.60 579.52,491.35 579.59,490.10 579.68,488.85 579.79,487.60 579.92,486.35 580.06,485.10 580.18,483.85 580.30,482.60 580.40,481.36 580.50,480.12 580.60,478.89 580.70,477.65 580.81,476.41 580.92,475.18 581.05,473.94 581.20,472.70 581.37,471.66 581.55,470.62 581.74,469.59 581.94,468.55 582.15,467.51 582.37,466.47 582.59,465.44 582.80,464.40 583.01,463.38 583.23,462.35 583.45,461.32 583.67,460.30 583.89,459.27 584.12,458.25 584.36,457.22 584.60,456.20 584.85,455.16 585.11,454.12 585.38,453.09 585.66,452.05 585.93,451.01 586.20,449.97 586.45,448.94 586.70,447.90 586.94,446.86 587.17,445.82 587.40,444.79 587.62,443.75 587.84,442.71 588.04,441.68 588.23,440.64 588.40,439.60 588.55,439.00 588.68,438.40 588.79,437.80 588.89,437.20 588.99,436.60 589.09,436.00 589.19,435.40 589.30,434.80 589.43,434.74 589.57,434.68 589.71,434.61 589.86,434.55 589.99,434.49 590.12,434.43 590.22,434.36 590.30,434.30" fill="#1C8A8F" stroke="#333" stroke-width="0.5" stroke-linejoin="round"/><path fill="#000" d="M585.4 514.7h1.4v1.4h-1.4zM586.5 519.0h1.4v1.4h-1.4zM594.5 493.9h1.4v1.4h-1.4zM588.5 471.3h1.4v1.4h-1.4zM592.3 494.0h1.4v1.4h-1.4zM585.7 510.9h1.4v1.4h-1.4zM588.4 506.4h1.4v1.4h-1.4zM591.3 467.9h1.4v1.4h-1.4zM595.2 513.2h1.4v1.4h-1.4zM591.6 491.2h1.4v1.4h-1.4zM588.4 472.3h1.4v1.4h-1.4zM592.0 501.5h1.4v1.4h-1.4zM592.1 463.7h1.4v1.4h-1.4zM590.7 464.4h1.4v1.4h-1.4zM590.5 448.5h1.4v1.4h-1.4zM592.1 487.9h1.4v1.4h-1.4zM589.1 508.7h1.4v1.4h-1.4zM591.4 491.3h1.4v1.4h-1.4zM592.2 489.2h1.4v1.4h-1.4zM595.6 488.2h1.4v1.4h-1.4zM589.4 478.0h1.4v1.4h-1.4zM590.5 512.7h1.4v1.4h-1.4zM594.5 479.5h1.4v1.4h-1.4zM588.8 464.9h1.4v1.4h-1.4zM587.2 475.3h1.4v1.4h-1.4zM593.5 448.3h1.4v1.4h-1.4zM592.4 493.5h1.4v1.4h-1.4zM593.8 451.1h1.4v1.4h-1.4zM594.0 510.2h1.4v1.4h-1.4zM591.3 487.0h1.4v1.4h-1.4zM590.1 520.6h1.4v1.4h-1.4zM588.9 498.1h1.4v1.4h-1.4zM591.5 501.1h1.4v1.4h-1.4zM590.4 512.0h1.4v1.4h-1.4zM587.0 493.9h1.4v1.4h-1.4zM588.0 495.8h1.4v1.4h-1.4zM588.9 450.7h1.4v1.4h-1.4zM587.9 459.8h1.4v1.4h-1.4zM588.1 503.3h1.4v1.4h-1.4zM587.4 457.5h1.4v1.4h-1.4zM594.8 477.7h1.4v1.4h-1.4zM589.1 501.2h1.4v1.4h-1.4zM587.3 502.0h1.4v1.4h-1.4zM593.0 486.5h1.4v1.4h-1.4zM587.8 497.6h1.4v1.4h-1.4zM585.9 468.2h1.4v1.4h-1.4zM594.4 494.2h1.4v1.4h-1.4zM590.4 493.0h1.4v1.4h-1.4zM590.3 491.4h1.4v1.4h-1.4zM585.2 447.0h1.4v1.4h-1.4zM594.0 495.0h1.4v1.4h-1.4zM586.7 470.0h1.4v1.4h-1.4zM593.7 478.0h1.4v1.4h-1.4zM591.9 437.3h1.4v1.4h-1.4zM594.5 466.7h1.4v1.4h-1.4zM594.0 490.2h1.4v1.4h-1.4zM588.1 487.2h1.4v1.4h-1.4zM590.5 464.7h1.4v1.4h-1.4zM595.3 497.0h1.4v1.4h-1.4zM594.3 466.5h1.4v1.4h-1.4zM592.0 499.0h1.4v1.4h-1.4zM585.7 465.8h1.4v1.4h-1.4zM590.6 478.6h1.4v1.4h-1.4zM591.0 516.4h1.4v1.4h-1.4zM590.7 504.6h1.4v1.4h-1.4zM595.1 497.9h1.4v1.4h-1.4zM593.8 496.9h1.4v1.4h-1.4zM587.1 456.2h1.4v1.4h-1.4zM594.7 489.5h1.4v1.4h-1.4zM592.9 482.3h1.4v1.4h-1.4zM595.0 478.4h1.4v1.4h-1.4zM593.5 498.9h1.4v1.4h-1.4zM588.1 493.8h1.4v1.4h-1.4zM594.8 468.6h1.4v1.4h-1.4zM588.5 473.0h1.4v1.4h-1.4zM588.7 458.4h1.4v1.4h-1.4zM589.5 465.7h1.4v1.4h-1.4zM588.4 479.1h1.4v1.4h-1.4zM595.2 490.5h1.4v1.4h-1.4zM595.1 478.0h1.4v1.4h-1.4zM586.5 487.3h1.4v1.4h-1.4zM586.6 469.4h1.4v1.4h-1.4zM593.7 452.8h1.4v1.4h-1.4zM593.5 459.5h1.4v1.4h-1.4zM588.7 486.9h1.4v1.4h-1.4z"/><text x="583.4" y="430.0" font-size="14.5" fill="#111">ns</text><rect x="624.20" y="449.90" width="14.30" height="14.90" fill="#F8766D" stroke="#333" stroke-width="0.7"/><rect x="624.20" y="465.30" width="14.30" height="14.90" fill="#1C8A8F" stroke="#333" stroke-width="0.7"/><text x="646.2" y="461.6" font-size="12.3" fill="#111">14dpi</text><text x="646.2" y="476.6" font-size="12.3" fill="#111">Naive</text><text x="521.0" y="563.7" font-size="23.3" fill="#111">Expression</text><defs><linearGradient id="cb" x1="0" y1="0" x2="0" y2="1"><stop offset="0" stop-color="#B2182B"/><stop offset="0.12" stop-color="#D2553A"/><stop offset="0.2" stop-color="#EE8A3C"/><stop offset="0.3" stop-color="#F4AA7E"/><stop offset="0.4" stop-color="#FAD9C6"/><stop offset="0.5" stop-color="#FFFFFF"/><stop offset="0.62" stop-color="#D3E6F1"/><stop offset="0.72" stop-color="#A9CDE3"/><stop offset="0.85" stop-color="#5E9ACB"/><stop offset="1" stop-color="#2A68AF"/></linearGradient></defs><rect x="521.20" y="578.90" width="15.90" height="80.10" fill="url(#cb)"/><line x1="521.2" y1="586.5" x2="523.6" y2="586.5" stroke="#FFFFFF" stroke-width="0.6" stroke-opacity="0.8"/><line x1="534.7" y1="586.5" x2="537.1" y2="586.5" stroke="#FFFFFF" stroke-width="0.6" stroke-opacity="0.8"/><line x1="521.2" y1="602.5" x2="523.6" y2="602.5" stroke="#FFFFFF" stroke-width="0.6" stroke-opacity="0.8"/><line x1="534.7" y1="602.5" x2="537.1" y2="602.5" stroke="#FFFFFF" stroke-width="0.6" stroke-opacity="0.8"/><line x1="521.2" y1="619.0" x2="523.6" y2="619.0" stroke="#FFFFFF" stroke-width="0.6" stroke-opacity="0.8"/><line x1="534.7" y1="619.0" x2="537.1" y2="619.0" stroke="#FFFFFF" stroke-width="0.6" stroke-opacity="0.8"/><line x1="521.2" y1="634.6" x2="523.6" y2="634.6" stroke="#FFFFFF" stroke-width="0.6" stroke-opacity="0.8"/><line x1="534.7" y1="634.6" x2="537.1" y2="634.6" stroke="#FFFFFF" stroke-width="0.6" stroke-opacity="0.8"/><line x1="521.2" y1="650.8" x2="523.6" y2="650.8" stroke="#FFFFFF" stroke-width="0.6" stroke-opacity="0.8"/><line x1="534.7" y1="650.8" x2="537.1" y2="650.8" stroke="#FFFFFF" stroke-width="0.6" stroke-opacity="0.8"/><text x="548.4" y="593.0" font-size="15.8" fill="#111">2</text><text x="548.4" y="608.8" font-size="15.8" fill="#111">1</text><text x="548.4" y="625.3" font-size="15.8" fill="#111">0</text><text x="548.4" y="640.6" font-size="15.8" fill="#111">−1</text><text x="548.4" y="657.1" font-size="15.8" fill="#111">−2</text><path d="M1 700H670.3V875.2H1Z M244.4 700V875.2 M416.8 700V875.2" fill="none" stroke="#1A1A1A" stroke-width="1.7"/><text x="8.0" y="717.8" font-size="16.5" font-weight="bold" fill="#000">f</text><text x="34.8" y="857.4" font-size="13" font-weight="bold" fill="#111" transform="rotate(-90 34.8 857.4)">Caspase-3<tspan font-size="8" dy="-5">+</tspan><tspan dy="5"> Neutrophils</tspan></text><rect x="23.60" y="861.00" width="15.00" height="6.10" fill="#939599" stroke="#222" stroke-width="0.9"/><line x1="84.7" y1="731.3" x2="84.7" y2="837.2" stroke="#222" stroke-width="1.0"/><line x1="82.9" y1="731.3" x2="84.7" y2="731.3" stroke="#222" stroke-width="1.0"/><text x="81.6" y="735.7" font-size="12.2" font-weight="bold" text-anchor="end" fill="#222">1.5×10<tspan font-size="7.2" dx="1.8" dy="-4.4">6</tspan></text><line x1="82.9" y1="766.6" x2="84.7" y2="766.6" stroke="#222" stroke-width="1.0"/><text x="81.6" y="771.0" font-size="12.2" font-weight="bold" text-anchor="end" fill="#222">1×10<tspan font-size="7.2" dx="1.8" dy="-4.4">6</tspan></text><line x1="82.9" y1="801.9" x2="84.7" y2="801.9" stroke="#222" stroke-width="1.0"/><text x="81.6" y="806.3" font-size="12.2" font-weight="bold" text-anchor="end" fill="#222">5×10<tspan font-size="7.2" dx="1.8" dy="-4.4">5</tspan></text><line x1="82.9" y1="837.2" x2="84.7" y2="837.2" stroke="#222" stroke-width="1.0"/><text x="81.0" y="841.6" font-size="12.2" font-weight="bold" text-anchor="end" fill="#222">0</text><line x1="176.2" y1="732.0" x2="176.2" y2="837.2" stroke="#222" stroke-width="1.0"/><line x1="176.2" y1="732.0" x2="178.0" y2="732.0" stroke="#222" stroke-width="1.0"/><text x="179.0" y="736.4" font-size="12.2" font-weight="bold" fill="#222">2×10<tspan font-size="7.2" dx="1.8" dy="-4.4">7</tspan></text><line x1="176.2" y1="758.3" x2="178.0" y2="758.3" stroke="#222" stroke-width="1.0"/><text x="179.0" y="762.7" font-size="12.2" font-weight="bold" fill="#222">1.5×10<tspan font-size="7.2" dx="1.8" dy="-4.4">7</tspan></text><line x1="176.2" y1="784.6" x2="178.0" y2="784.6" stroke="#222" stroke-width="1.0"/><text x="179.0" y="789.0" font-size="12.2" font-weight="bold" fill="#222">1×10<tspan font-size="7.2" dx="1.8" dy="-4.4">7</tspan></text><line x1="176.2" y1="810.9" x2="178.0" y2="810.9" stroke="#222" stroke-width="1.0"/><text x="179.0" y="815.3" font-size="12.2" font-weight="bold" fill="#222">5×10<tspan font-size="7.2" dx="1.8" dy="-4.4">6</tspan></text><line x1="176.2" y1="837.2" x2="178.0" y2="837.2" stroke="#222" stroke-width="1.0"/><text x="179.0" y="841.6" font-size="12.2" font-weight="bold" fill="#222">0</text><text x="236.4" y="827.8" font-size="13.5" font-weight="bold" fill="#111" transform="rotate(-90 236.4 827.8)">Total Neutrophils</text><line x1="232.3" y1="832.7" x2="232.3" y2="851.3" stroke="#222" stroke-width="1.3" stroke-dasharray="2,1.4"/><line x1="96.0" y1="848.1" x2="164.6" y2="848.1" stroke="#333" stroke-width="1.1"/><line x1="112.0" y1="848.1" x2="112.0" y2="850.0" stroke="#555" stroke-width="0.8"/><line x1="148.5" y1="848.1" x2="148.5" y2="850.0" stroke="#555" stroke-width="0.8"/><rect x="101.10" y="832.10" width="8.70" height="4.40" fill="#939599" stroke="#222" stroke-width="0.9"/><rect x="137.60" y="781.70" width="8.70" height="54.80" fill="#939599" stroke="#222" stroke-width="0.9"/><line x1="141.9" y1="768.6" x2="141.9" y2="781.7" stroke="#999" stroke-width="0.8"/><circle cx="102.5" cy="828.6" r="1.4" fill="#fff" stroke="#222" stroke-width="0.9"/><circle cx="106.2" cy="830.8" r="1.4" fill="#fff" stroke="#222" stroke-width="0.9"/><circle cx="108.4" cy="831.2" r="1.4" fill="#fff" stroke="#222" stroke-width="0.9"/><circle cx="103" cy="832.5" r="1.4" fill="#fff" stroke="#222" stroke-width="0.9"/><circle cx="141.9" cy="768.6" r="1.5" fill="#fff" stroke="#222" stroke-width="0.9"/><circle cx="141.9" cy="784.6" r="1.5" fill="#fff" stroke="#222" stroke-width="0.9"/><circle cx="142.4" cy="791.2" r="1.5" fill="#fff" stroke="#222" stroke-width="0.9"/><line x1="119.0" y1="833.1" x2="155.8" y2="765.4" stroke="#333" stroke-width="0.8" stroke-dasharray="1.6,1.2"/><line x1="155.8" y1="747.4" x2="155.8" y2="783.2" stroke="#555" stroke-width="0.7"/><line x1="154.3" y1="747.4" x2="157.3" y2="747.4" stroke="#555" stroke-width="0.7"/><line x1="154.3" y1="783.2" x2="157.3" y2="783.2" stroke="#555" stroke-width="0.7"/><rect x="117.50" y="831.60" width="3.00" height="3.00" fill="#fff" stroke="#444" stroke-width="0.6"/><rect x="154.30" y="763.90" width="3.00" height="3.00" fill="#fff" stroke="#888" stroke-width="0.6"/><text x="107.3" y="865.5" font-size="13.5" font-weight="bold" text-anchor="middle" fill="#111">Naïve</text><text x="158.4" y="865.5" font-size="13.4" font-weight="bold" text-anchor="middle" fill="#111">14 dpi</text><text x="255.3" y="715.5" font-size="16" font-weight="bold" fill="#000">g</text><rect x="278.20" y="714.00" width="14.90" height="5.40" fill="#fff" stroke="#222" stroke-width="1.0"/><text x="298.4" y="722.4" font-size="13.3" fill="#111">Naïve</text><rect x="343.80" y="714.00" width="15.10" height="5.40" fill="#939599" stroke="#222" stroke-width="1.0"/><text x="365.0" y="722.4" font-size="13.6" fill="#111">14 dpi</text><text x="257.4" y="789.3" font-size="13" font-weight="bold" fill="#111" transform="rotate(-90 257.4 789.3)">MFI</text><line x1="303.2" y1="738.1" x2="303.2" y2="848.5" stroke="#222" stroke-width="1.0"/><line x1="300.9" y1="738.1" x2="303.2" y2="738.1" stroke="#222" stroke-width="1.0"/><text x="299.4" y="742.5" font-size="12.3" font-weight="bold" text-anchor="end" fill="#222">15000</text><line x1="300.9" y1="774.9" x2="303.2" y2="774.9" stroke="#222" stroke-width="1.0"/><text x="299.4" y="779.3" font-size="12.3" font-weight="bold" text-anchor="end" fill="#222">10000</text><line x1="300.9" y1="811.7" x2="303.2" y2="811.7" stroke="#222" stroke-width="1.0"/><text x="299.4" y="816.1" font-size="12.3" font-weight="bold" text-anchor="end" fill="#222">5000</text><line x1="300.9" y1="848.5" x2="303.2" y2="848.5" stroke="#222" stroke-width="1.0"/><text x="299.4" y="852.9" font-size="12.3" font-weight="bold" text-anchor="end" fill="#222">0</text><line x1="303.2" y1="848.5" x2="415.4" y2="848.5" stroke="#222" stroke-width="1.0"/><line x1="329.7" y1="848.5" x2="329.7" y2="850.6" stroke="#222" stroke-width="0.8"/><line x1="389.0" y1="848.5" x2="389.0" y2="850.6" stroke="#222" stroke-width="0.8"/><rect x="312.30" y="836.70" width="13.70" height="11.80" fill="#fff" stroke="#222" stroke-width="1.5"/><rect x="334.20" y="844.50" width="13.70" height="4.00" fill="#939599" stroke="#222" stroke-width="1.5"/><rect x="371.60" y="772.40" width="13.70" height="76.10" fill="#fff" stroke="#222" stroke-width="1.5"/><rect x="393.50" y="780.70" width="13.70" height="67.80" fill="#939599" stroke="#222" stroke-width="1.5"/><line x1="378.4" y1="766.1" x2="378.4" y2="772.4" stroke="#aaa" stroke-width="0.8"/><line x1="375.5" y1="766.1" x2="381.3" y2="766.1" stroke="#aaa" stroke-width="0.8"/><line x1="400.3" y1="772.1" x2="400.3" y2="780.7" stroke="#aaa" stroke-width="0.8"/><line x1="397.5" y1="772.1" x2="403.1" y2="772.1" stroke="#aaa" stroke-width="0.8"/><circle cx="313.6" cy="832.7" r="1.9" fill="#222"/><circle cx="313.6" cy="838.1" r="1.9" fill="#222"/><circle cx="318.7" cy="836.3" r="1.9" fill="#222"/><circle cx="324.2" cy="837.2" r="1.9" fill="#222"/><circle cx="335.8" cy="845.4" r="1.6" fill="#fff" stroke="#222" stroke-width="0.9"/><circle cx="338.8" cy="845.4" r="1.6" fill="#fff" stroke="#222" stroke-width="0.9"/><circle cx="342.4" cy="845.4" r="1.6" fill="#fff" stroke="#222" stroke-width="0.9"/><circle cx="346.1" cy="845.4" r="1.6" fill="#fff" stroke="#222" stroke-width="0.9"/><circle cx="373.1" cy="766.6" r="1.9" fill="#222"/><circle cx="383.1" cy="765.5" r="1.9" fill="#222"/><circle cx="373.1" cy="772.8" r="1.9" fill="#222"/><circle cx="373.1" cy="777.9" r="1.9" fill="#222"/><circle cx="383.1" cy="776.1" r="1.9" fill="#222"/><circle cx="395" cy="772.8" r="1.9" fill="#fff" stroke="#222" stroke-width="0.9"/><circle cx="405.4" cy="774.6" r="1.9" fill="#fff" stroke="#222" stroke-width="0.9"/><circle cx="395" cy="781.2" r="1.9" fill="#fff" stroke="#222" stroke-width="0.9"/><circle cx="405.4" cy="781.6" r="1.9" fill="#fff" stroke="#222" stroke-width="0.9"/><circle cx="399.9" cy="792.2" r="1.9" fill="#fff" stroke="#222" stroke-width="0.9"/><path d="M318.4 829.9V813.9H341.5V841.8" fill="none" stroke="#777" stroke-width="0.7"/><path d="M377.5 764.2V743.2H400.5V767.9" fill="none" stroke="#555" stroke-width="0.8"/><text x="313.2" y="809.9" font-size="7.4" fill="#333"><tspan font-style="italic">p</tspan> &lt;0.0001</text><text x="383.0" y="738.7" font-size="11.1" fill="#222">ns</text><text x="335.3" y="864.0" font-size="12.5" font-weight="bold" text-anchor="middle" fill="#111">CXCR2</text><text x="389.7" y="864.0" font-size="12.5" font-weight="bold" text-anchor="middle" fill="#111">CXCR4</text><text x="436.0" y="718.4" font-size="15.5" font-weight="bold" fill="#000">h</text><text x="495.8" y="718.4" font-size="13.4" font-weight="bold" fill="#111">Spleen homogenate</text><text x="429.6" y="831.0" font-size="12.5" font-weight="bold" fill="#111" transform="rotate(-90 429.6 831.0)" textLength="93.4" lengthAdjust="spacingAndGlyphs" xml:space="preserve">CXCL2  (pg/mL)</text><line x1="454.5" y1="735.4" x2="454.5" y2="848.0" stroke="#222" stroke-width="1.0"/><line x1="452.0" y1="848.0" x2="454.5" y2="848.0" stroke="#222" stroke-width="0.7"/><line x1="453.0" y1="840.49" x2="454.5" y2="840.49" stroke="#222" stroke-width="0.7"/><line x1="453.0" y1="832.99" x2="454.5" y2="832.99" stroke="#222" stroke-width="0.7"/><line x1="453.0" y1="825.48" x2="454.5" y2="825.48" stroke="#222" stroke-width="0.7"/><line x1="453.0" y1="817.97" x2="454.5" y2="817.97" stroke="#222" stroke-width="0.7"/><line x1="452.0" y1="810.47" x2="454.5" y2="810.47" stroke="#222" stroke-width="0.7"/><line x1="453.0" y1="802.96" x2="454.5" y2="802.96" stroke="#222" stroke-width="0.7"/><line x1="453.0" y1="795.45" x2="454.5" y2="795.45" stroke="#222" stroke-width="0.7"/><line x1="453.0" y1="787.94" x2="454.5" y2="787.94" stroke="#222" stroke-width="0.7"/><line x1="453.0" y1="780.44" x2="454.5" y2="780.44" stroke="#222" stroke-width="0.7"/><line x1="452.0" y1="772.93" x2="454.5" y2="772.93" stroke="#222" stroke-width="0.7"/><line x1="453.0" y1="765.42" x2="454.5" y2="765.42" stroke="#222" stroke-width="0.7"/><line x1="453.0" y1="757.92" x2="454.5" y2="757.92" stroke="#222" stroke-width="0.7"/><line x1="453.0" y1="750.41" x2="454.5" y2="750.41" stroke="#222" stroke-width="0.7"/><line x1="453.0" y1="742.9" x2="454.5" y2="742.9" stroke="#222" stroke-width="0.7"/><line x1="452.0" y1="735.39" x2="454.5" y2="735.39" stroke="#222" stroke-width="0.7"/><text x="450.0" y="739.9" font-size="12.2" font-weight="bold" text-anchor="end" fill="#222">15</text><text x="450.0" y="777.6" font-size="12.2" font-weight="bold" text-anchor="end" fill="#222">10</text><text x="450.0" y="815.1" font-size="12.2" font-weight="bold" text-anchor="end" fill="#222">5</text><text x="450.0" y="852.5" font-size="12.2" font-weight="bold" text-anchor="end" fill="#222">0</text><line x1="454.5" y1="848.0" x2="539.0" y2="848.0" stroke="#222" stroke-width="1.0"/><line x1="478.9" y1="848.0" x2="478.9" y2="850.2" stroke="#222" stroke-width="0.8"/><line x1="515.7" y1="848.0" x2="515.7" y2="850.2" stroke="#222" stroke-width="0.8"/><rect x="467.30" y="844.30" width="23.60" height="3.70" fill="#fff" stroke="#222" stroke-width="1.5"/><rect x="504.50" y="769.20" width="23.20" height="78.80" fill="#939599" stroke="#222" stroke-width="1.5"/><line x1="515.7" y1="751.0" x2="515.7" y2="769.2" stroke="#aaa" stroke-width="0.9"/><line x1="509.9" y1="751.0" x2="521.5" y2="751.0" stroke="#aaa" stroke-width="0.9"/><line x1="478.9" y1="839.0" x2="478.9" y2="844.3" stroke="#aaa" stroke-width="0.8"/><line x1="475.5" y1="839.0" x2="482.3" y2="839.0" stroke="#aaa" stroke-width="0.8"/><circle cx="478.9" cy="842" r="1.5" fill="#222"/><circle cx="475.4" cy="844.9" r="1.5" fill="#222"/><circle cx="481.8" cy="844.9" r="1.5" fill="#222"/><circle cx="515.7" cy="748" r="1.6" fill="#fff" stroke="#222" stroke-width="0.9"/><circle cx="512.8" cy="779.4" r="1.6" fill="#fff" stroke="#222" stroke-width="0.9"/><circle cx="519.2" cy="778.7" r="1.6" fill="#fff" stroke="#222" stroke-width="0.9"/><path d="M479.9 838.5V739.7H516.1V744.6" fill="none" stroke="#999" stroke-width="0.7"/><text x="480.9" y="736.8" font-size="7.0" fill="#444"><tspan font-style="italic">p</tspan> = 0.0019</text><text x="474.9" y="863.5" font-size="13.6" font-weight="bold" text-anchor="middle" fill="#111">Naïve</text><text x="524.8" y="863.5" font-size="13.6" font-weight="bold" text-anchor="middle" fill="#111">14 dpi</text><text x="551.8" y="839.2" font-size="12.5" font-weight="bold" fill="#111" transform="rotate(-90 551.8 839.2)" textLength="101.5" lengthAdjust="spacingAndGlyphs" xml:space="preserve">CXCL12  (ng/mL)</text><line x1="582.4" y1="734.2" x2="582.4" y2="846.1" stroke="#222" stroke-width="1.0"/><line x1="580.0" y1="846.1" x2="582.4" y2="846.1" stroke="#222" stroke-width="0.6"/><line x1="581.0" y1="841.44" x2="582.4" y2="841.44" stroke="#222" stroke-width="0.6"/><line x1="581.0" y1="836.77" x2="582.4" y2="836.77" stroke="#222" stroke-width="0.6"/><line x1="581.0" y1="832.11" x2="582.4" y2="832.11" stroke="#222" stroke-width="0.6"/><line x1="580.0" y1="827.45" x2="582.4" y2="827.45" stroke="#222" stroke-width="0.6"/><line x1="581.0" y1="822.79" x2="582.4" y2="822.79" stroke="#222" stroke-width="0.6"/><line x1="581.0" y1="818.12" x2="582.4" y2="818.12" stroke="#222" stroke-width="0.6"/><line x1="581.0" y1="813.46" x2="582.4" y2="813.46" stroke="#222" stroke-width="0.6"/><line x1="580.0" y1="808.8" x2="582.4" y2="808.8" stroke="#222" stroke-width="0.6"/><line x1="581.0" y1="804.14" x2="582.4" y2="804.14" stroke="#222" stroke-width="0.6"/><line x1="581.0" y1="799.48" x2="582.4" y2="799.48" stroke="#222" stroke-width="0.6"/><line x1="581.0" y1="794.81" x2="582.4" y2="794.81" stroke="#222" stroke-width="0.6"/><line x1="580.0" y1="790.15" x2="582.4" y2="790.15" stroke="#222" stroke-width="0.6"/><line x1="581.0" y1="785.49" x2="582.4" y2="785.49" stroke="#222" stroke-width="0.6"/><line x1="581.0" y1="780.83" x2="582.4" y2="780.83" stroke="#222" stroke-width="0.6"/><line x1="581.0" y1="776.16" x2="582.4" y2="776.16" stroke="#222" stroke-width="0.6"/><line x1="580.0" y1="771.5" x2="582.4" y2="771.5" stroke="#222" stroke-width="0.6"/><line x1="581.0" y1="766.84" x2="582.4" y2="766.84" stroke="#222" stroke-width="0.6"/><line x1="581.0" y1="762.18" x2="582.4" y2="762.18" stroke="#222" stroke-width="0.6"/><line x1="581.0" y1="757.51" x2="582.4" y2="757.51" stroke="#222" stroke-width="0.6"/><line x1="580.0" y1="752.85" x2="582.4" y2="752.85" stroke="#222" stroke-width="0.6"/><line x1="581.0" y1="748.19" x2="582.4" y2="748.19" stroke="#222" stroke-width="0.6"/><line x1="581.0" y1="743.53" x2="582.4" y2="743.53" stroke="#222" stroke-width="0.6"/><line x1="581.0" y1="738.86" x2="582.4" y2="738.86" stroke="#222" stroke-width="0.6"/><line x1="580.0" y1="734.2" x2="582.4" y2="734.2" stroke="#222" stroke-width="0.6"/><text x="578.6" y="738.7" font-size="12.5" font-weight="bold" text-anchor="end" fill="#222">0.6</text><text x="578.6" y="776.1" font-size="12.5" font-weight="bold" text-anchor="end" fill="#222">0.4</text><text x="578.6" y="813.6" font-size="12.5" font-weight="bold" text-anchor="end" fill="#222">0.2</text><text x="578.6" y="850.6" font-size="12.5" font-weight="bold" text-anchor="end" fill="#222">0.0</text><line x1="582.4" y1="846.1" x2="667.1" y2="846.1" stroke="#222" stroke-width="1.0"/><line x1="607.0" y1="846.1" x2="607.0" y2="848.3" stroke="#222" stroke-width="0.8"/><line x1="642.5" y1="846.1" x2="642.5" y2="848.3" stroke="#222" stroke-width="0.8"/><rect x="595.20" y="793.30" width="23.60" height="52.80" fill="#fff" stroke="#222" stroke-width="1.5"/><rect x="631.20" y="747.20" width="23.50" height="98.90" fill="#939599" stroke="#222" stroke-width="1.5"/><line x1="607.0" y1="783.7" x2="607.0" y2="793.3" stroke="#aaa" stroke-width="0.9"/><line x1="601.0" y1="783.7" x2="612.9" y2="783.7" stroke="#aaa" stroke-width="0.9"/><circle cx="603.1" cy="786" r="1.6" fill="#222"/><circle cx="610.6" cy="789" r="1.6" fill="#222"/><circle cx="607" cy="802.8" r="1.6" fill="#222"/><circle cx="636.2" cy="748.6" r="1.6" fill="#fff" stroke="#222" stroke-width="0.9"/><circle cx="642.5" cy="745.2" r="1.6" fill="#fff" stroke="#222" stroke-width="0.9"/><circle cx="649.4" cy="745.6" r="1.6" fill="#fff" stroke="#222" stroke-width="0.9"/><path d="M607 780.1V738.7H643.5V741.7" fill="none" stroke="#999" stroke-width="0.7"/><text x="607.0" y="735.8" font-size="7.4" fill="#444"><tspan font-style="italic">p</tspan> = 0.0009</text><text x="597.6" y="864.0" font-size="13" font-weight="bold" text-anchor="middle" fill="#111">Naïve</text><text x="649.4" y="864.0" font-size="13" font-weight="bold" text-anchor="middle" fill="#111">14 dpi</text></svg></body></html>
